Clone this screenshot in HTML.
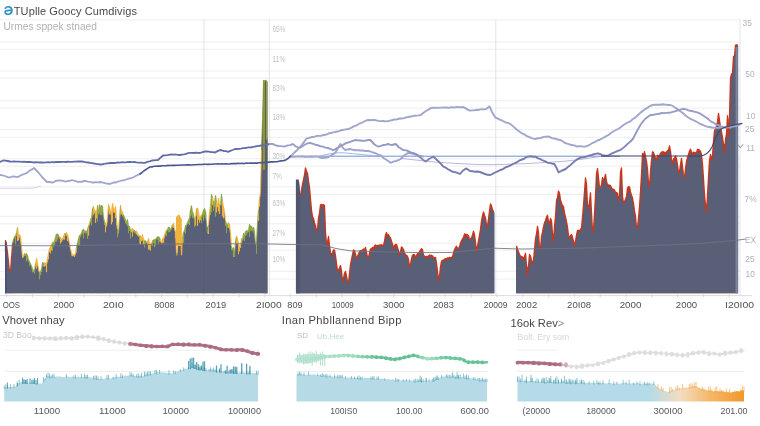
<!DOCTYPE html>
<html><head><meta charset="utf-8"><title>Chart</title>
<style>html,body{margin:0;padding:0;background:#fff}body{width:760px;height:426px;overflow:hidden}</style>
</head><body>
<svg width="760" height="426" viewBox="0 0 760 426" style="display:block;font-family:'Liberation Sans',sans-serif;filter:blur(0.4px)">
<defs>
<linearGradient id="yg" gradientUnits="userSpaceOnUse" x1="18" y1="0" x2="267" y2="0"><stop offset="0.000" stop-color="#f0b23a"/><stop offset="0.059" stop-color="#93a64a"/><stop offset="0.118" stop-color="#f0b23a"/><stop offset="0.176" stop-color="#8fa548"/><stop offset="0.235" stop-color="#9aa94c"/><stop offset="0.294" stop-color="#f0b23a"/><stop offset="0.353" stop-color="#8fa548"/><stop offset="0.412" stop-color="#f2b134"/><stop offset="0.471" stop-color="#93a64a"/><stop offset="0.529" stop-color="#f0b23a"/><stop offset="0.588" stop-color="#8fa548"/><stop offset="0.647" stop-color="#f2b134"/><stop offset="0.706" stop-color="#f0b23a"/><stop offset="0.765" stop-color="#8fa548"/><stop offset="0.824" stop-color="#93a64a"/><stop offset="0.882" stop-color="#f2b134"/><stop offset="0.941" stop-color="#8fa548"/><stop offset="1.000" stop-color="#93a64a"/></linearGradient>
<linearGradient id="m3" gradientUnits="userSpaceOnUse" x1="517" y1="0" x2="744" y2="0"><stop offset="0" stop-color="#b4dbe7"/><stop offset="0.58" stop-color="#b4dbe7"/><stop offset="0.72" stop-color="#f3dcc0"/><stop offset="0.85" stop-color="#f5b768"/><stop offset="1" stop-color="#f2982a"/></linearGradient>
<linearGradient id="l1g" gradientUnits="userSpaceOnUse" x1="33" y1="0" x2="259" y2="0"><stop offset="0" stop-color="#d4d4d6"/><stop offset="0.40" stop-color="#d0cccf"/><stop offset="0.46" stop-color="#ad7186"/><stop offset="1" stop-color="#a8667d"/></linearGradient>
<linearGradient id="l2g" gradientUnits="userSpaceOnUse" x1="296" y1="0" x2="488" y2="0"><stop offset="0" stop-color="#b5e4d0"/><stop offset="0.3" stop-color="#9fdcc0"/><stop offset="0.42" stop-color="#62c092"/><stop offset="0.62" stop-color="#62c092"/><stop offset="0.68" stop-color="#a5e0c6"/><stop offset="0.78" stop-color="#6cc79a"/><stop offset="1" stop-color="#62c092"/></linearGradient>
<linearGradient id="l3g" gradientUnits="userSpaceOnUse" x1="517" y1="0" x2="744" y2="0"><stop offset="0" stop-color="#a8667d"/><stop offset="0.17" stop-color="#ad7186"/><stop offset="0.22" stop-color="#d6d4d6"/><stop offset="1" stop-color="#dadadc"/></linearGradient>
<linearGradient id="l2s" gradientUnits="userSpaceOnUse" x1="269" y1="0" x2="731" y2="0"><stop offset="0" stop-color="#9aa0c8"/><stop offset="0.30" stop-color="#9398c3"/><stop offset="0.37" stop-color="#757bae"/><stop offset="0.74" stop-color="#757bae"/><stop offset="0.80" stop-color="#969cc6"/><stop offset="1" stop-color="#9aa0c8"/></linearGradient>
</defs>
<rect width="760" height="426" fill="#fff"/>
<line x1="0" y1="19.8" x2="740" y2="19.8" stroke="#eeeeef" stroke-width="1"/>
<line x1="0" y1="42" x2="740" y2="42" stroke="#eeeeef" stroke-width="1"/>
<line x1="0" y1="49.3" x2="740" y2="49.3" stroke="#eeeeef" stroke-width="1"/>
<line x1="0" y1="71" x2="740" y2="71" stroke="#eeeeef" stroke-width="1"/>
<line x1="0" y1="78" x2="740" y2="78" stroke="#eeeeef" stroke-width="1"/>
<line x1="0" y1="100.7" x2="740" y2="100.7" stroke="#eeeeef" stroke-width="1"/>
<line x1="0" y1="108" x2="740" y2="108" stroke="#eeeeef" stroke-width="1"/>
<line x1="0" y1="129.7" x2="740" y2="129.7" stroke="#eeeeef" stroke-width="1"/>
<line x1="0" y1="137.3" x2="740" y2="137.3" stroke="#eeeeef" stroke-width="1"/>
<line x1="0" y1="158.8" x2="740" y2="158.8" stroke="#eeeeef" stroke-width="1"/>
<line x1="0" y1="166.2" x2="740" y2="166.2" stroke="#eeeeef" stroke-width="1"/>
<line x1="0" y1="186.9" x2="740" y2="186.9" stroke="#eeeeef" stroke-width="1"/>
<line x1="0" y1="194.4" x2="740" y2="194.4" stroke="#eeeeef" stroke-width="1"/>
<line x1="0" y1="216.3" x2="740" y2="216.3" stroke="#eeeeef" stroke-width="1"/>
<line x1="0" y1="223.8" x2="740" y2="223.8" stroke="#eeeeef" stroke-width="1"/>
<line x1="0" y1="243.2" x2="740" y2="243.2" stroke="#eeeeef" stroke-width="1"/>
<line x1="0" y1="250.2" x2="740" y2="250.2" stroke="#eeeeef" stroke-width="1"/>
<line x1="0" y1="271.3" x2="740" y2="271.3" stroke="#eeeeef" stroke-width="1"/>
<line x1="0" y1="279.1" x2="740" y2="279.1" stroke="#eeeeef" stroke-width="1"/>
<line x1="203.9" y1="19" x2="203.9" y2="296" stroke="#e4e4e6" stroke-width="1"/>
<line x1="269.3" y1="19" x2="269.3" y2="296" stroke="#e4e4e6" stroke-width="1"/>
<line x1="495.8" y1="19" x2="495.8" y2="296" stroke="#e4e4e6" stroke-width="1"/>
<line x1="740" y1="19" x2="740" y2="296" stroke="#e4e4e6" stroke-width="1"/>
<polygon points="5.0,293.3 5.0,240.2 6.0,240.2 6.0,244.1 7.0,244.1 7.0,250.8 8.0,250.8 8.0,260.2 9.0,260.2 9.0,270.4 10.0,270.4 10.0,269.0 11.0,269.0 11.0,255.7 12.0,255.7 12.0,293.3" fill="#c8361a"/>
<polygon points="12.0,293.3 12.0,243.2 13.0,243.2 13.0,239.2 14.0,239.2 14.0,236.4 15.0,236.4 15.0,235.7 16.0,235.7 16.0,233.2 17.0,233.2 17.0,293.3" fill="#8fa548"/>
<polygon points="17.0,293.3 17.0,227.4 18.0,227.4 18.0,234.5 19.0,234.5 19.0,234.6 20.0,234.6 20.0,236.4 21.0,236.4 21.0,246.0 22.0,246.0 22.0,256.5 23.0,256.5 23.0,255.7 24.0,255.7 24.0,293.3" fill="#f0b23a"/>
<polygon points="24.0,293.3 24.0,253.4 25.0,253.4 25.0,254.2 26.0,254.2 26.0,253.6 27.0,253.6 27.0,255.2 28.0,255.2 28.0,259.7 29.0,259.7 29.0,261.5 30.0,261.5 30.0,263.7 31.0,263.7 31.0,265.6 32.0,265.6 32.0,268.7 33.0,268.7 33.0,271.4 34.0,271.4 34.0,270.1 35.0,270.1 35.0,293.3" fill="#8fa548"/>
<polygon points="35.0,293.3 35.0,263.6 36.0,263.6 36.0,258.6 37.0,258.6 37.0,262.4 38.0,262.4 38.0,268.7 39.0,268.7 39.0,293.3" fill="#f0b23a"/>
<polygon points="39.0,293.3 39.0,272.3 40.0,272.3 40.0,272.0 41.0,272.0 41.0,268.9 42.0,268.9 42.0,262.5 43.0,262.5 43.0,263.1 44.0,263.1 44.0,293.3" fill="#8fa548"/>
<polygon points="44.0,293.3 44.0,262.9 45.0,262.9 45.0,263.0 46.0,263.0 46.0,264.9 47.0,264.9 47.0,258.5 48.0,258.5 48.0,252.7 49.0,252.7 49.0,248.5 50.0,248.5 50.0,247.3 51.0,247.3 51.0,244.5 52.0,244.5 52.0,293.3" fill="#f0b23a"/>
<polygon points="52.0,293.3 52.0,242.2 53.0,242.2 53.0,243.1 54.0,243.1 54.0,240.7 55.0,240.7 55.0,237.3 56.0,237.3 56.0,234.0 57.0,234.0 57.0,233.9 58.0,233.9 58.0,235.0 59.0,235.0 59.0,237.2 60.0,237.2 60.0,293.3" fill="#8fa548"/>
<polygon points="60.0,293.3 60.0,237.5 61.0,237.5 61.0,239.1 62.0,239.1 62.0,238.9 63.0,238.9 63.0,236.3 64.0,236.3 64.0,233.6 65.0,233.6 65.0,293.3" fill="#f0b23a"/>
<polygon points="65.0,293.3 65.0,233.8 66.0,233.8 66.0,293.3" fill="#8fa548"/>
<polygon points="66.0,293.3 66.0,232.6 67.0,232.6 67.0,234.5 68.0,234.5 68.0,238.0 69.0,238.0 69.0,243.4 70.0,243.4 70.0,249.1 71.0,249.1 71.0,252.4 72.0,252.4 72.0,255.2 73.0,255.2 73.0,254.7 74.0,254.7 74.0,254.9 75.0,254.9 75.0,253.2 76.0,253.2 76.0,293.3" fill="#f0b23a"/>
<polygon points="76.0,293.3 76.0,247.4 77.0,247.4 77.0,242.8 78.0,242.8 78.0,238.7 79.0,238.7 79.0,235.5 80.0,235.5 80.0,234.7 81.0,234.7 81.0,232.9 82.0,232.9 82.0,230.1 83.0,230.1 83.0,229.1 84.0,229.1 84.0,231.2 85.0,231.2 85.0,230.9 86.0,230.9 86.0,231.7 87.0,231.7 87.0,229.6 88.0,229.6 88.0,293.3" fill="#8fa548"/>
<polygon points="88.0,293.3 88.0,225.9 89.0,225.9 89.0,222.7 90.0,222.7 90.0,293.3" fill="#f0b23a"/>
<polygon points="90.0,293.3 90.0,219.1 91.0,219.1 91.0,217.7 92.0,217.7 92.0,208.7 93.0,208.7 93.0,293.3" fill="#8fa548"/>
<polygon points="93.0,293.3 93.0,206.5 94.0,206.5 94.0,210.6 95.0,210.6 95.0,210.8 96.0,210.8 96.0,211.8 97.0,211.8 97.0,293.3" fill="#f0b23a"/>
<polygon points="97.0,293.3 97.0,205.6 98.0,205.6 98.0,212.4 99.0,212.4 99.0,204.8 100.0,204.8 100.0,207.4 101.0,207.4 101.0,205.0 102.0,205.0 102.0,206.4 103.0,206.4 103.0,217.0 104.0,217.0 104.0,221.6 105.0,221.6 105.0,293.3" fill="#8fa548"/>
<polygon points="105.0,293.3 105.0,223.7 106.0,223.7 106.0,226.2 107.0,226.2 107.0,216.7 108.0,216.7 108.0,204.6 109.0,204.6 109.0,206.8 110.0,206.8 110.0,211.3 111.0,211.3 111.0,211.6 112.0,211.6 112.0,203.5 113.0,203.5 113.0,208.1 114.0,208.1 114.0,210.4 115.0,210.4 115.0,206.7 116.0,206.7 116.0,218.5 117.0,218.5 117.0,293.3" fill="#f0b23a"/>
<polygon points="117.0,293.3 117.0,228.9 118.0,228.9 118.0,232.5 119.0,232.5 119.0,219.7 120.0,219.7 120.0,293.3" fill="#8fa548"/>
<polygon points="120.0,293.3 120.0,205.2 121.0,205.2 121.0,211.0 122.0,211.0 122.0,211.8 123.0,211.8 123.0,293.3" fill="#f0b23a"/>
<polygon points="123.0,293.3 123.0,214.9 124.0,214.9 124.0,216.9 125.0,216.9 125.0,219.8 126.0,219.8 126.0,222.9 127.0,222.9 127.0,219.6 128.0,219.6 128.0,225.8 129.0,225.8 129.0,226.4 130.0,226.4 130.0,230.1 131.0,230.1 131.0,293.3" fill="#8fa548"/>
<polygon points="131.0,293.3 131.0,229.6 132.0,229.6 132.0,228.1 133.0,228.1 133.0,293.3" fill="#f0b23a"/>
<polygon points="133.0,293.3 133.0,230.2 134.0,230.2 134.0,230.6 135.0,230.6 135.0,231.6 136.0,231.6 136.0,293.3" fill="#8fa548"/>
<polygon points="136.0,293.3 136.0,231.3 137.0,231.3 137.0,233.5 138.0,233.5 138.0,234.2 139.0,234.2 139.0,293.3" fill="#f0b23a"/>
<polygon points="139.0,293.3 139.0,236.2 140.0,236.2 140.0,293.3" fill="#8fa548"/>
<polygon points="140.0,293.3 140.0,235.9 141.0,235.9 141.0,238.1 142.0,238.1 142.0,234.7 143.0,234.7 143.0,238.9 144.0,238.9 144.0,293.3" fill="#f0b23a"/>
<polygon points="144.0,293.3 144.0,240.9 145.0,240.9 145.0,240.8 146.0,240.8 146.0,242.1 147.0,242.1 147.0,293.3" fill="#8fa548"/>
<polygon points="147.0,293.3 147.0,242.0 148.0,242.0 148.0,238.7 149.0,238.7 149.0,243.6 150.0,243.6 150.0,243.9 151.0,243.9 151.0,243.0 152.0,243.0 152.0,293.3" fill="#f0b23a"/>
<polygon points="152.0,293.3 152.0,240.5 153.0,240.5 153.0,239.9 154.0,239.9 154.0,239.4 155.0,239.4 155.0,239.1 156.0,239.1 156.0,238.0 157.0,238.0 157.0,236.6 158.0,236.6 158.0,236.9 159.0,236.9 159.0,237.3 160.0,237.3 160.0,293.3" fill="#8fa548"/>
<polygon points="160.0,293.3 160.0,240.4 161.0,240.4 161.0,242.1 162.0,242.1 162.0,238.6 163.0,238.6 163.0,238.2 164.0,238.2 164.0,234.7 165.0,234.7 165.0,231.7 166.0,231.7 166.0,293.3" fill="#f0b23a"/>
<polygon points="166.0,293.3 166.0,230.1 167.0,230.1 167.0,229.2 168.0,229.2 168.0,227.0 169.0,227.0 169.0,227.6 170.0,227.6 170.0,230.0 171.0,230.0 171.0,227.4 172.0,227.4 172.0,293.3" fill="#8fa548"/>
<polygon points="172.0,293.3 172.0,224.5 173.0,224.5 173.0,223.1 174.0,223.1 174.0,228.5 175.0,228.5 175.0,231.7 176.0,231.7 176.0,253.1 177.0,253.1 177.0,251.8 178.0,251.8 178.0,223.0 179.0,223.0 179.0,215.5 180.0,215.5 180.0,231.0 181.0,231.0 181.0,255.1 182.0,255.1 182.0,293.3" fill="#f0b23a"/>
<polygon points="182.0,293.3 182.0,238.4 183.0,238.4 183.0,232.2 184.0,232.2 184.0,230.3 185.0,230.3 185.0,225.5 186.0,225.5 186.0,225.2 187.0,225.2 187.0,222.2 188.0,222.2 188.0,220.3 189.0,220.3 189.0,217.7 190.0,217.7 190.0,209.4 191.0,209.4 191.0,205.7 192.0,205.7 192.0,211.6 193.0,211.6 193.0,214.2 194.0,214.2 194.0,219.7 195.0,219.7 195.0,293.3" fill="#8fa548"/>
<polygon points="195.0,293.3 195.0,217.4 196.0,217.4 196.0,293.3" fill="#f0b23a"/>
<polygon points="196.0,293.3 196.0,208.8 197.0,208.8 197.0,293.3" fill="#8fa548"/>
<polygon points="197.0,293.3 197.0,208.0 198.0,208.0 198.0,211.8 199.0,211.8 199.0,218.2 200.0,218.2 200.0,215.8 201.0,215.8 201.0,293.3" fill="#f0b23a"/>
<polygon points="201.0,293.3 201.0,215.9 202.0,215.9 202.0,213.4 203.0,213.4 203.0,210.1 204.0,210.1 204.0,208.6 205.0,208.6 205.0,211.4 206.0,211.4 206.0,223.0 207.0,223.0 207.0,233.4 208.0,233.4 208.0,293.3" fill="#8fa548"/>
<polygon points="208.0,293.3 208.0,224.9 209.0,224.9 209.0,212.3 210.0,212.3 210.0,293.3" fill="#f0b23a"/>
<polygon points="210.0,293.3 210.0,206.2 211.0,206.2 211.0,194.4 212.0,194.4 212.0,293.3" fill="#8fa548"/>
<polygon points="212.0,293.3 212.0,197.0 213.0,197.0 213.0,293.3" fill="#f0b23a"/>
<polygon points="213.0,293.3 213.0,201.3 214.0,201.3 214.0,204.1 215.0,204.1 215.0,195.7 216.0,195.7 216.0,293.3" fill="#8fa548"/>
<polygon points="216.0,293.3 216.0,202.1 217.0,202.1 217.0,205.1 218.0,205.1 218.0,198.2 219.0,198.2 219.0,205.6 220.0,205.6 220.0,293.3" fill="#f0b23a"/>
<polygon points="220.0,293.3 220.0,203.4 221.0,203.4 221.0,194.3 222.0,194.3 222.0,293.3" fill="#8fa548"/>
<polygon points="222.0,293.3 222.0,201.8 223.0,201.8 223.0,206.7 224.0,206.7 224.0,211.6 225.0,211.6 225.0,293.3" fill="#f0b23a"/>
<polygon points="225.0,293.3 225.0,220.9 226.0,220.9 226.0,223.8 227.0,223.8 227.0,224.5 228.0,224.5 228.0,293.3" fill="#8fa548"/>
<polygon points="228.0,293.3 228.0,222.6 229.0,222.6 229.0,224.0 230.0,224.0 230.0,232.3 231.0,232.3 231.0,293.3" fill="#f0b23a"/>
<polygon points="231.0,293.3 231.0,246.6 232.0,246.6 232.0,249.1 233.0,249.1 233.0,247.7 234.0,247.7 234.0,257.0 235.0,257.0 235.0,241.2 236.0,241.2 236.0,293.3" fill="#8fa548"/>
<polygon points="236.0,293.3 236.0,236.1 237.0,236.1 237.0,238.4 238.0,238.4 238.0,243.4 239.0,243.4 239.0,247.2 240.0,247.2 240.0,245.4 241.0,245.4 241.0,293.3" fill="#f0b23a"/>
<polygon points="241.0,293.3 241.0,238.7 242.0,238.7 242.0,239.7 243.0,239.7 243.0,233.3 244.0,233.3 244.0,235.1 245.0,235.1 245.0,231.4 246.0,231.4 246.0,230.6 247.0,230.6 247.0,230.8 248.0,230.8 248.0,229.9 249.0,229.9 249.0,224.4 250.0,224.4 250.0,225.7 251.0,225.7 251.0,226.2 252.0,226.2 252.0,228.2 253.0,228.2 253.0,227.2 254.0,227.2 254.0,230.4 255.0,230.4 255.0,244.7 256.0,244.7 256.0,240.9 257.0,240.9 257.0,222.5 258.0,222.5 258.0,293.3" fill="#8fa548"/>
<polygon points="258.0,293.3 258.0,210.1 259.0,210.1 259.0,198.4 260.0,198.4 260.0,192.5 261.0,192.5 261.0,293.3" fill="#f0b23a"/>
<polygon points="261.0,293.3 261.0,150.0 262.0,150.0 262.0,120.0 263.0,120.0 263.0,80.3 264.0,80.3 264.0,82.0 265.0,82.0 265.0,101.4 266.0,101.4 266.0,81.0 267.0,81.0 267.0,293.3" fill="#8f9a3c"/>
<polygon points="5.0,293.3 5.0,247.1 5.5,247.1 6.5,247.0 7.5,252.8 8.5,262.4 9.5,270.5 10.5,270.5 11.5,258.2 12.5,248.2 13.5,240.6 14.5,238.0 15.5,237.5 16.5,236.3 17.5,236.3 18.5,236.1 19.5,237.6 20.5,242.4 21.5,250.6 22.5,257.7 23.5,257.7 24.5,255.7 25.5,255.7 26.5,257.6 27.5,259.6 28.5,261.6 29.5,263.6 30.5,265.8 31.5,268.2 32.5,270.7 33.5,271.5 34.5,271.6 35.5,265.9 36.5,265.7 37.5,265.6 38.5,270.1 39.5,274.6 40.5,274.6 41.5,270.0 42.5,265.5 43.5,265.5 44.5,265.6 45.5,266.1 46.5,266.1 47.5,260.7 48.5,254.9 49.5,251.2 50.5,249.6 51.5,248.1 52.5,246.6 53.5,244.7 54.5,242.8 55.5,240.8 56.5,238.9 57.5,237.5 58.5,237.5 59.5,239.0 60.5,240.6 61.5,240.6 62.5,240.6 63.5,239.0 64.5,237.3 65.5,235.7 66.5,235.7 67.5,237.0 68.5,240.5 69.5,245.0 70.5,250.6 71.5,256.3 72.5,256.3 73.5,256.3 74.5,256.1 75.5,255.3 76.5,250.1 77.5,244.8 78.5,241.2 79.5,239.3 80.5,237.3 81.5,235.4 82.5,233.4 83.5,233.1 84.5,233.0 85.5,233.4 86.5,233.4 87.5,231.5 88.5,228.6 89.5,225.6 90.5,222.7 91.5,219.6 92.5,216.6 93.5,213.5 94.5,213.3 95.5,213.3 96.5,214.2 97.5,214.5 98.5,214.5 99.5,212.5 100.5,210.6 101.5,210.6 102.5,212.7 103.5,219.4 104.5,224.0 105.5,226.7 106.5,226.6 107.5,221.2 108.5,210.0 109.5,210.0 110.5,215.0 111.5,215.1 112.5,212.4 113.5,212.4 114.5,212.7 115.5,213.8 116.5,223.7 117.5,234.5 118.5,234.5 119.5,223.8 120.5,213.8 121.5,213.8 122.5,215.8 123.5,218.0 124.5,220.2 125.5,222.5 126.5,224.4 127.5,226.4 128.5,228.4 129.5,230.3 130.5,232.2 131.5,232.2 132.5,231.9 133.5,231.9 134.5,232.1 135.5,233.3 136.5,234.5 137.5,235.7 138.5,236.8 139.5,237.7 140.5,238.6 141.5,239.5 142.5,240.4 143.5,241.3 144.5,242.2 145.5,242.8 146.5,243.5 147.5,244.1 148.5,244.7 149.5,245.3 150.5,245.3 151.5,245.2 152.5,244.0 153.5,242.8 154.5,241.6 155.5,240.5 156.5,239.4 157.5,239.4 158.5,240.0 159.5,240.8 160.5,242.2 161.5,243.6 162.5,243.6 163.5,241.0 164.5,238.3 165.5,235.1 166.5,231.8 167.5,231.3 168.5,231.3 169.5,231.4 170.5,231.4 171.5,229.3 172.5,227.2 173.5,227.2 174.5,230.1 175.5,234.4 176.5,255.5 177.5,255.5 178.5,227.6 179.5,227.8 180.5,232.4 181.5,243.6 182.5,243.9 183.5,235.5 184.5,232.0 185.5,229.0 186.5,226.7 187.5,224.3 188.5,221.9 189.5,219.7 190.5,217.5 191.5,215.3 192.5,215.4 193.5,217.6 194.5,221.0 195.5,221.0 196.5,212.4 197.5,212.4 198.5,215.4 199.5,220.3 200.5,220.2 201.5,219.2 202.5,216.8 203.5,214.3 204.5,214.4 205.5,215.5 206.5,225.4 207.5,227.2 208.5,227.4 209.5,214.9 210.5,208.9 211.5,205.1 212.5,205.0 213.5,207.0 214.5,207.0 215.5,206.9 216.5,206.9 217.5,207.3 218.5,207.7 219.5,207.8 220.5,205.2 221.5,205.3 222.5,206.0 223.5,209.3 224.5,214.8 225.5,222.5 226.5,227.7 227.5,227.7 228.5,227.8 229.5,229.0 230.5,238.9 231.5,248.8 232.5,250.8 233.5,252.0 234.5,251.7 235.5,243.5 236.5,243.7 237.5,243.5 238.5,248.5 239.5,248.5 240.5,246.7 241.5,243.9 242.5,241.1 243.5,239.1 244.5,237.6 245.5,236.1 246.5,234.6 247.5,233.0 248.5,232.2 249.5,231.7 250.5,231.3 251.5,230.8 252.5,230.8 253.5,232.9 254.5,237.3 255.5,243.3 256.5,243.4 257.5,226.4 258.5,212.9 259.5,203.2 260.5,193.0 261.5,150.5 262.5,120.5 263.5,80.8 264.5,82.5 265.5,101.9 266.5,81.5 267.5,81.5 267.5,293.3" fill="#5a5f78"/>
<line x1="5.5" y1="240.2" x2="5.5" y2="251.5" stroke="#c8361a" stroke-width="1.30"/>
<line x1="9.5" y1="270.4" x2="9.5" y2="272.4" stroke="#c8361a" stroke-width="1.19"/>
<line x1="15.5" y1="235.7" x2="15.5" y2="244.0" stroke="#8fa548" stroke-width="1.07"/>
<line x1="17.5" y1="227.4" x2="17.5" y2="241.0" stroke="#f0b23a" stroke-width="0.99"/>
<line x1="18.5" y1="234.5" x2="18.5" y2="240.4" stroke="#f0b23a" stroke-width="1.08"/>
<line x1="22.5" y1="256.5" x2="22.5" y2="257.8" stroke="#f0b23a" stroke-width="0.95"/>
<line x1="26.5" y1="253.6" x2="26.5" y2="261.5" stroke="#8fa548" stroke-width="1.11"/>
<line x1="28.5" y1="259.7" x2="28.5" y2="261.7" stroke="#8fa548" stroke-width="1.29"/>
<line x1="29.5" y1="261.5" x2="29.5" y2="265.8" stroke="#8fa548" stroke-width="0.94"/>
<line x1="32.5" y1="268.7" x2="32.5" y2="272.4" stroke="#8fa548" stroke-width="1.28"/>
<line x1="33.5" y1="271.4" x2="33.5" y2="272.0" stroke="#8fa548" stroke-width="1.15"/>
<line x1="34.5" y1="270.1" x2="34.5" y2="273.5" stroke="#8fa548" stroke-width="1.27"/>
<line x1="35.5" y1="263.6" x2="35.5" y2="266.1" stroke="#f0b23a" stroke-width="1.14"/>
<line x1="36.5" y1="258.6" x2="36.5" y2="268.9" stroke="#f0b23a" stroke-width="0.90"/>
<line x1="38.5" y1="268.7" x2="38.5" y2="271.0" stroke="#f0b23a" stroke-width="0.93"/>
<line x1="39.5" y1="272.3" x2="39.5" y2="279.3" stroke="#8fa548" stroke-width="1.14"/>
<line x1="40.5" y1="272.0" x2="40.5" y2="275.2" stroke="#8fa548" stroke-width="1.19"/>
<line x1="41.5" y1="268.9" x2="41.5" y2="272.2" stroke="#8fa548" stroke-width="1.27"/>
<line x1="42.5" y1="262.5" x2="42.5" y2="266.5" stroke="#8fa548" stroke-width="0.94"/>
<line x1="43.5" y1="263.1" x2="43.5" y2="266.7" stroke="#8fa548" stroke-width="1.12"/>
<line x1="44.5" y1="262.9" x2="44.5" y2="266.6" stroke="#f0b23a" stroke-width="1.11"/>
<line x1="46.5" y1="264.9" x2="46.5" y2="272.1" stroke="#f0b23a" stroke-width="1.14"/>
<line x1="47.5" y1="258.5" x2="47.5" y2="262.0" stroke="#f0b23a" stroke-width="1.30"/>
<line x1="48.5" y1="252.7" x2="48.5" y2="259.5" stroke="#f0b23a" stroke-width="1.06"/>
<line x1="49.5" y1="248.5" x2="49.5" y2="251.7" stroke="#f0b23a" stroke-width="0.95"/>
<line x1="50.5" y1="247.3" x2="50.5" y2="253.4" stroke="#f0b23a" stroke-width="0.98"/>
<line x1="51.5" y1="244.5" x2="51.5" y2="250.6" stroke="#f0b23a" stroke-width="1.14"/>
<line x1="52.5" y1="242.2" x2="52.5" y2="250.7" stroke="#8fa548" stroke-width="1.00"/>
<line x1="53.5" y1="243.1" x2="53.5" y2="247.2" stroke="#8fa548" stroke-width="0.96"/>
<line x1="54.5" y1="240.7" x2="54.5" y2="245.2" stroke="#8fa548" stroke-width="1.22"/>
<line x1="55.5" y1="237.3" x2="55.5" y2="242.1" stroke="#8fa548" stroke-width="1.04"/>
<line x1="56.5" y1="234.0" x2="56.5" y2="241.8" stroke="#8fa548" stroke-width="1.29"/>
<line x1="57.5" y1="233.9" x2="57.5" y2="239.6" stroke="#8fa548" stroke-width="1.23"/>
<line x1="60.5" y1="237.5" x2="60.5" y2="243.5" stroke="#f0b23a" stroke-width="1.15"/>
<line x1="61.5" y1="239.1" x2="61.5" y2="242.2" stroke="#f0b23a" stroke-width="1.28"/>
<line x1="63.5" y1="236.3" x2="63.5" y2="239.5" stroke="#f0b23a" stroke-width="0.91"/>
<line x1="64.5" y1="233.6" x2="64.5" y2="239.7" stroke="#f0b23a" stroke-width="1.04"/>
<line x1="67.5" y1="234.5" x2="67.5" y2="241.0" stroke="#f0b23a" stroke-width="1.25"/>
<line x1="74.5" y1="254.9" x2="74.5" y2="256.9" stroke="#f0b23a" stroke-width="1.21"/>
<line x1="76.5" y1="247.4" x2="76.5" y2="253.1" stroke="#8fa548" stroke-width="1.21"/>
<line x1="78.5" y1="238.7" x2="78.5" y2="245.6" stroke="#8fa548" stroke-width="1.11"/>
<line x1="79.5" y1="235.5" x2="79.5" y2="244.9" stroke="#8fa548" stroke-width="1.25"/>
<line x1="83.5" y1="229.1" x2="83.5" y2="238.4" stroke="#8fa548" stroke-width="1.18"/>
<line x1="87.5" y1="229.6" x2="87.5" y2="238.7" stroke="#8fa548" stroke-width="1.19"/>
<line x1="88.5" y1="225.9" x2="88.5" y2="235.7" stroke="#f0b23a" stroke-width="1.20"/>
<line x1="91.5" y1="217.7" x2="91.5" y2="225.6" stroke="#8fa548" stroke-width="0.97"/>
<line x1="93.5" y1="206.5" x2="93.5" y2="215.2" stroke="#f0b23a" stroke-width="0.91"/>
<line x1="95.5" y1="210.8" x2="95.5" y2="222.9" stroke="#f0b23a" stroke-width="1.09"/>
<line x1="96.5" y1="211.8" x2="96.5" y2="218.5" stroke="#f0b23a" stroke-width="0.97"/>
<line x1="97.5" y1="205.6" x2="97.5" y2="221.8" stroke="#8fa548" stroke-width="1.00"/>
<line x1="98.5" y1="212.4" x2="98.5" y2="214.7" stroke="#8fa548" stroke-width="1.08"/>
<line x1="99.5" y1="204.8" x2="99.5" y2="213.4" stroke="#8fa548" stroke-width="1.25"/>
<line x1="100.5" y1="207.4" x2="100.5" y2="215.1" stroke="#8fa548" stroke-width="1.01"/>
<line x1="101.5" y1="205.0" x2="101.5" y2="215.1" stroke="#8fa548" stroke-width="1.05"/>
<line x1="104.5" y1="221.6" x2="104.5" y2="224.8" stroke="#8fa548" stroke-width="1.20"/>
<line x1="105.5" y1="223.7" x2="105.5" y2="232.3" stroke="#f0b23a" stroke-width="1.04"/>
<line x1="109.5" y1="206.8" x2="109.5" y2="214.4" stroke="#f0b23a" stroke-width="1.18"/>
<line x1="111.5" y1="211.6" x2="111.5" y2="224.4" stroke="#f0b23a" stroke-width="1.11"/>
<line x1="112.5" y1="203.5" x2="112.5" y2="222.2" stroke="#f0b23a" stroke-width="1.03"/>
<line x1="115.5" y1="206.7" x2="115.5" y2="218.2" stroke="#f0b23a" stroke-width="1.21"/>
<line x1="116.5" y1="218.5" x2="116.5" y2="224.9" stroke="#f0b23a" stroke-width="1.03"/>
<line x1="117.5" y1="228.9" x2="117.5" y2="237.3" stroke="#8fa548" stroke-width="1.06"/>
<line x1="120.5" y1="205.2" x2="120.5" y2="214.4" stroke="#f0b23a" stroke-width="0.95"/>
<line x1="121.5" y1="211.0" x2="121.5" y2="214.1" stroke="#f0b23a" stroke-width="1.13"/>
<line x1="125.5" y1="219.8" x2="125.5" y2="223.5" stroke="#8fa548" stroke-width="1.25"/>
<line x1="128.5" y1="225.8" x2="128.5" y2="233.2" stroke="#8fa548" stroke-width="0.95"/>
<line x1="129.5" y1="226.4" x2="129.5" y2="230.6" stroke="#8fa548" stroke-width="1.13"/>
<line x1="130.5" y1="230.1" x2="130.5" y2="238.5" stroke="#8fa548" stroke-width="0.96"/>
<line x1="132.5" y1="228.1" x2="132.5" y2="236.7" stroke="#f0b23a" stroke-width="0.92"/>
<line x1="134.5" y1="230.6" x2="134.5" y2="232.9" stroke="#8fa548" stroke-width="1.22"/>
<line x1="135.5" y1="231.6" x2="135.5" y2="233.7" stroke="#8fa548" stroke-width="1.15"/>
<line x1="139.5" y1="236.2" x2="139.5" y2="243.6" stroke="#8fa548" stroke-width="1.10"/>
<line x1="140.5" y1="235.9" x2="140.5" y2="244.8" stroke="#f0b23a" stroke-width="1.06"/>
<line x1="141.5" y1="238.1" x2="141.5" y2="241.3" stroke="#f0b23a" stroke-width="1.16"/>
<line x1="143.5" y1="238.9" x2="143.5" y2="244.9" stroke="#f0b23a" stroke-width="1.25"/>
<line x1="144.5" y1="240.9" x2="144.5" y2="247.5" stroke="#8fa548" stroke-width="1.04"/>
<line x1="145.5" y1="240.8" x2="145.5" y2="243.6" stroke="#8fa548" stroke-width="1.21"/>
<line x1="148.5" y1="238.7" x2="148.5" y2="249.6" stroke="#f0b23a" stroke-width="1.23"/>
<line x1="149.5" y1="243.6" x2="149.5" y2="249.7" stroke="#f0b23a" stroke-width="0.98"/>
<line x1="150.5" y1="243.9" x2="150.5" y2="250.6" stroke="#f0b23a" stroke-width="0.95"/>
<line x1="152.5" y1="240.5" x2="152.5" y2="245.9" stroke="#8fa548" stroke-width="0.93"/>
<line x1="154.5" y1="239.4" x2="154.5" y2="247.2" stroke="#8fa548" stroke-width="1.12"/>
<line x1="155.5" y1="239.1" x2="155.5" y2="245.6" stroke="#8fa548" stroke-width="1.09"/>
<line x1="158.5" y1="236.9" x2="158.5" y2="243.7" stroke="#8fa548" stroke-width="1.08"/>
<line x1="159.5" y1="237.3" x2="159.5" y2="241.7" stroke="#8fa548" stroke-width="1.15"/>
<line x1="163.5" y1="238.2" x2="163.5" y2="242.8" stroke="#f0b23a" stroke-width="1.25"/>
<line x1="166.5" y1="230.1" x2="166.5" y2="236.3" stroke="#8fa548" stroke-width="1.08"/>
<line x1="168.5" y1="227.0" x2="168.5" y2="232.4" stroke="#8fa548" stroke-width="0.97"/>
<line x1="169.5" y1="227.6" x2="169.5" y2="232.1" stroke="#8fa548" stroke-width="0.96"/>
<line x1="171.5" y1="227.4" x2="171.5" y2="229.5" stroke="#8fa548" stroke-width="1.25"/>
<line x1="173.5" y1="223.1" x2="173.5" y2="227.7" stroke="#f0b23a" stroke-width="1.01"/>
<line x1="175.5" y1="231.7" x2="175.5" y2="238.0" stroke="#f0b23a" stroke-width="1.22"/>
<line x1="179.5" y1="215.5" x2="179.5" y2="229.1" stroke="#f0b23a" stroke-width="1.12"/>
<line x1="181.5" y1="255.1" x2="181.5" y2="245.4" stroke="#f0b23a" stroke-width="1.16"/>
<line x1="182.5" y1="238.4" x2="182.5" y2="244.2" stroke="#8fa548" stroke-width="1.12"/>
<line x1="183.5" y1="232.2" x2="183.5" y2="242.7" stroke="#8fa548" stroke-width="1.26"/>
<line x1="184.5" y1="230.3" x2="184.5" y2="232.1" stroke="#8fa548" stroke-width="1.08"/>
<line x1="185.5" y1="225.5" x2="185.5" y2="233.7" stroke="#8fa548" stroke-width="1.01"/>
<line x1="188.5" y1="220.3" x2="188.5" y2="224.1" stroke="#8fa548" stroke-width="1.26"/>
<line x1="189.5" y1="217.7" x2="189.5" y2="225.1" stroke="#8fa548" stroke-width="1.14"/>
<line x1="192.5" y1="211.6" x2="192.5" y2="218.0" stroke="#8fa548" stroke-width="1.13"/>
<line x1="194.5" y1="219.7" x2="194.5" y2="227.3" stroke="#8fa548" stroke-width="0.97"/>
<line x1="195.5" y1="217.4" x2="195.5" y2="225.5" stroke="#f0b23a" stroke-width="0.96"/>
<line x1="196.5" y1="208.8" x2="196.5" y2="215.8" stroke="#8fa548" stroke-width="1.00"/>
<line x1="197.5" y1="208.0" x2="197.5" y2="225.9" stroke="#f0b23a" stroke-width="1.18"/>
<line x1="198.5" y1="211.8" x2="198.5" y2="219.7" stroke="#f0b23a" stroke-width="1.05"/>
<line x1="199.5" y1="218.2" x2="199.5" y2="222.7" stroke="#f0b23a" stroke-width="1.22"/>
<line x1="201.5" y1="215.9" x2="201.5" y2="223.3" stroke="#8fa548" stroke-width="1.11"/>
<line x1="203.5" y1="210.1" x2="203.5" y2="220.7" stroke="#8fa548" stroke-width="1.06"/>
<line x1="204.5" y1="208.6" x2="204.5" y2="215.1" stroke="#8fa548" stroke-width="1.03"/>
<line x1="205.5" y1="211.4" x2="205.5" y2="218.5" stroke="#8fa548" stroke-width="1.28"/>
<line x1="208.5" y1="224.9" x2="208.5" y2="234.0" stroke="#f0b23a" stroke-width="0.97"/>
<line x1="210.5" y1="206.2" x2="210.5" y2="215.1" stroke="#8fa548" stroke-width="1.19"/>
<line x1="211.5" y1="194.4" x2="211.5" y2="212.3" stroke="#8fa548" stroke-width="0.93"/>
<line x1="213.5" y1="201.3" x2="213.5" y2="211.0" stroke="#8fa548" stroke-width="0.95"/>
<line x1="215.5" y1="195.7" x2="215.5" y2="216.6" stroke="#8fa548" stroke-width="1.22"/>
<line x1="216.5" y1="202.1" x2="216.5" y2="212.4" stroke="#f0b23a" stroke-width="1.24"/>
<line x1="218.5" y1="198.2" x2="218.5" y2="211.4" stroke="#f0b23a" stroke-width="1.08"/>
<line x1="219.5" y1="205.6" x2="219.5" y2="213.9" stroke="#f0b23a" stroke-width="1.20"/>
<line x1="222.5" y1="201.8" x2="222.5" y2="216.5" stroke="#f0b23a" stroke-width="1.19"/>
<line x1="223.5" y1="206.7" x2="223.5" y2="218.4" stroke="#f0b23a" stroke-width="1.02"/>
<line x1="225.5" y1="220.9" x2="225.5" y2="226.0" stroke="#8fa548" stroke-width="1.11"/>
<line x1="226.5" y1="223.8" x2="226.5" y2="233.3" stroke="#8fa548" stroke-width="0.92"/>
<line x1="231.5" y1="246.6" x2="231.5" y2="250.3" stroke="#8fa548" stroke-width="1.00"/>
<line x1="233.5" y1="247.7" x2="233.5" y2="257.0" stroke="#8fa548" stroke-width="1.23"/>
<line x1="235.5" y1="241.2" x2="235.5" y2="246.0" stroke="#8fa548" stroke-width="1.07"/>
<line x1="237.5" y1="238.4" x2="237.5" y2="244.1" stroke="#f0b23a" stroke-width="0.97"/>
<line x1="238.5" y1="243.4" x2="238.5" y2="254.2" stroke="#f0b23a" stroke-width="1.03"/>
<line x1="239.5" y1="247.2" x2="239.5" y2="251.3" stroke="#f0b23a" stroke-width="1.02"/>
<line x1="240.5" y1="245.4" x2="240.5" y2="248.0" stroke="#f0b23a" stroke-width="1.25"/>
<line x1="244.5" y1="235.1" x2="244.5" y2="241.1" stroke="#8fa548" stroke-width="1.15"/>
<line x1="246.5" y1="230.6" x2="246.5" y2="235.6" stroke="#8fa548" stroke-width="1.10"/>
<line x1="249.5" y1="224.4" x2="249.5" y2="237.2" stroke="#8fa548" stroke-width="0.96"/>
<line x1="256.5" y1="240.9" x2="256.5" y2="253.8" stroke="#8fa548" stroke-width="0.93"/>
<line x1="258.5" y1="210.1" x2="258.5" y2="220.7" stroke="#f0b23a" stroke-width="1.19"/>
<line x1="259.5" y1="198.4" x2="259.5" y2="206.4" stroke="#f0b23a" stroke-width="1.14"/>
<polyline points="5.5,240.2 6.5,244.1 7.5,250.8 8.5,260.2 9.5,270.4 10.5,269.0 11.5,255.7 12.5,243.2" fill="none" stroke="#c8361a" stroke-width="0.9" stroke-linejoin="round"/>
<polyline points="12.5,243.2 13.5,239.2 14.5,236.4 15.5,235.7 16.5,233.2 17.5,227.4" fill="none" stroke="#8fa548" stroke-width="0.9" stroke-linejoin="round"/>
<polyline points="17.5,227.4 18.5,234.5 19.5,234.6 20.5,236.4 21.5,246.0 22.5,256.5 23.5,255.7 24.5,253.4" fill="none" stroke="#f0b23a" stroke-width="0.9" stroke-linejoin="round"/>
<polyline points="24.5,253.4 25.5,254.2 26.5,253.6 27.5,255.2 28.5,259.7 29.5,261.5 30.5,263.7 31.5,265.6 32.5,268.7 33.5,271.4 34.5,270.1 35.5,263.6" fill="none" stroke="#8fa548" stroke-width="0.9" stroke-linejoin="round"/>
<polyline points="35.5,263.6 36.5,258.6 37.5,262.4 38.5,268.7 39.5,272.3" fill="none" stroke="#f0b23a" stroke-width="0.9" stroke-linejoin="round"/>
<polyline points="39.5,272.3 40.5,272.0 41.5,268.9 42.5,262.5 43.5,263.1 44.5,262.9" fill="none" stroke="#8fa548" stroke-width="0.9" stroke-linejoin="round"/>
<polyline points="44.5,262.9 45.5,263.0 46.5,264.9 47.5,258.5 48.5,252.7 49.5,248.5 50.5,247.3 51.5,244.5 52.5,242.2" fill="none" stroke="#f0b23a" stroke-width="0.9" stroke-linejoin="round"/>
<polyline points="52.5,242.2 53.5,243.1 54.5,240.7 55.5,237.3 56.5,234.0 57.5,233.9 58.5,235.0 59.5,237.2 60.5,237.5" fill="none" stroke="#8fa548" stroke-width="0.9" stroke-linejoin="round"/>
<polyline points="60.5,237.5 61.5,239.1 62.5,238.9 63.5,236.3 64.5,233.6 65.5,233.8" fill="none" stroke="#f0b23a" stroke-width="0.9" stroke-linejoin="round"/>
<polyline points="65.5,233.8 66.5,232.6" fill="none" stroke="#8fa548" stroke-width="0.9" stroke-linejoin="round"/>
<polyline points="66.5,232.6 67.5,234.5 68.5,238.0 69.5,243.4 70.5,249.1 71.5,252.4 72.5,255.2 73.5,254.7 74.5,254.9 75.5,253.2 76.5,247.4" fill="none" stroke="#f0b23a" stroke-width="0.9" stroke-linejoin="round"/>
<polyline points="76.5,247.4 77.5,242.8 78.5,238.7 79.5,235.5 80.5,234.7 81.5,232.9 82.5,230.1 83.5,229.1 84.5,231.2 85.5,230.9 86.5,231.7 87.5,229.6 88.5,225.9" fill="none" stroke="#8fa548" stroke-width="0.9" stroke-linejoin="round"/>
<polyline points="88.5,225.9 89.5,222.7 90.5,219.1" fill="none" stroke="#f0b23a" stroke-width="0.9" stroke-linejoin="round"/>
<polyline points="90.5,219.1 91.5,217.7 92.5,208.7 93.5,206.5" fill="none" stroke="#8fa548" stroke-width="0.9" stroke-linejoin="round"/>
<polyline points="93.5,206.5 94.5,210.6 95.5,210.8 96.5,211.8 97.5,205.6" fill="none" stroke="#f0b23a" stroke-width="0.9" stroke-linejoin="round"/>
<polyline points="97.5,205.6 98.5,212.4 99.5,204.8 100.5,207.4 101.5,205.0 102.5,206.4 103.5,217.0 104.5,221.6 105.5,223.7" fill="none" stroke="#8fa548" stroke-width="0.9" stroke-linejoin="round"/>
<polyline points="105.5,223.7 106.5,226.2 107.5,216.7 108.5,204.6 109.5,206.8 110.5,211.3 111.5,211.6 112.5,203.5 113.5,208.1 114.5,210.4 115.5,206.7 116.5,218.5 117.5,228.9" fill="none" stroke="#f0b23a" stroke-width="0.9" stroke-linejoin="round"/>
<polyline points="117.5,228.9 118.5,232.5 119.5,219.7 120.5,205.2" fill="none" stroke="#8fa548" stroke-width="0.9" stroke-linejoin="round"/>
<polyline points="120.5,205.2 121.5,211.0 122.5,211.8 123.5,214.9" fill="none" stroke="#f0b23a" stroke-width="0.9" stroke-linejoin="round"/>
<polyline points="123.5,214.9 124.5,216.9 125.5,219.8 126.5,222.9 127.5,219.6 128.5,225.8 129.5,226.4 130.5,230.1 131.5,229.6" fill="none" stroke="#8fa548" stroke-width="0.9" stroke-linejoin="round"/>
<polyline points="131.5,229.6 132.5,228.1 133.5,230.2" fill="none" stroke="#f0b23a" stroke-width="0.9" stroke-linejoin="round"/>
<polyline points="133.5,230.2 134.5,230.6 135.5,231.6 136.5,231.3" fill="none" stroke="#8fa548" stroke-width="0.9" stroke-linejoin="round"/>
<polyline points="136.5,231.3 137.5,233.5 138.5,234.2 139.5,236.2" fill="none" stroke="#f0b23a" stroke-width="0.9" stroke-linejoin="round"/>
<polyline points="139.5,236.2 140.5,235.9" fill="none" stroke="#8fa548" stroke-width="0.9" stroke-linejoin="round"/>
<polyline points="140.5,235.9 141.5,238.1 142.5,234.7 143.5,238.9 144.5,240.9" fill="none" stroke="#f0b23a" stroke-width="0.9" stroke-linejoin="round"/>
<polyline points="144.5,240.9 145.5,240.8 146.5,242.1 147.5,242.0" fill="none" stroke="#8fa548" stroke-width="0.9" stroke-linejoin="round"/>
<polyline points="147.5,242.0 148.5,238.7 149.5,243.6 150.5,243.9 151.5,243.0 152.5,240.5" fill="none" stroke="#f0b23a" stroke-width="0.9" stroke-linejoin="round"/>
<polyline points="152.5,240.5 153.5,239.9 154.5,239.4 155.5,239.1 156.5,238.0 157.5,236.6 158.5,236.9 159.5,237.3 160.5,240.4" fill="none" stroke="#8fa548" stroke-width="0.9" stroke-linejoin="round"/>
<polyline points="160.5,240.4 161.5,242.1 162.5,238.6 163.5,238.2 164.5,234.7 165.5,231.7 166.5,230.1" fill="none" stroke="#f0b23a" stroke-width="0.9" stroke-linejoin="round"/>
<polyline points="166.5,230.1 167.5,229.2 168.5,227.0 169.5,227.6 170.5,230.0 171.5,227.4 172.5,224.5" fill="none" stroke="#8fa548" stroke-width="0.9" stroke-linejoin="round"/>
<polyline points="172.5,224.5 173.5,223.1 174.5,228.5 175.5,231.7 176.5,253.1 177.5,251.8 178.5,223.0 179.5,215.5 180.5,231.0 181.5,255.1 182.5,238.4" fill="none" stroke="#f0b23a" stroke-width="0.9" stroke-linejoin="round"/>
<polyline points="182.5,238.4 183.5,232.2 184.5,230.3 185.5,225.5 186.5,225.2 187.5,222.2 188.5,220.3 189.5,217.7 190.5,209.4 191.5,205.7 192.5,211.6 193.5,214.2 194.5,219.7 195.5,217.4" fill="none" stroke="#8fa548" stroke-width="0.9" stroke-linejoin="round"/>
<polyline points="195.5,217.4 196.5,208.8" fill="none" stroke="#f0b23a" stroke-width="0.9" stroke-linejoin="round"/>
<polyline points="196.5,208.8 197.5,208.0" fill="none" stroke="#8fa548" stroke-width="0.9" stroke-linejoin="round"/>
<polyline points="197.5,208.0 198.5,211.8 199.5,218.2 200.5,215.8 201.5,215.9" fill="none" stroke="#f0b23a" stroke-width="0.9" stroke-linejoin="round"/>
<polyline points="201.5,215.9 202.5,213.4 203.5,210.1 204.5,208.6 205.5,211.4 206.5,223.0 207.5,233.4 208.5,224.9" fill="none" stroke="#8fa548" stroke-width="0.9" stroke-linejoin="round"/>
<polyline points="208.5,224.9 209.5,212.3 210.5,206.2" fill="none" stroke="#f0b23a" stroke-width="0.9" stroke-linejoin="round"/>
<polyline points="210.5,206.2 211.5,194.4 212.5,197.0" fill="none" stroke="#8fa548" stroke-width="0.9" stroke-linejoin="round"/>
<polyline points="212.5,197.0 213.5,201.3" fill="none" stroke="#f0b23a" stroke-width="0.9" stroke-linejoin="round"/>
<polyline points="213.5,201.3 214.5,204.1 215.5,195.7 216.5,202.1" fill="none" stroke="#8fa548" stroke-width="0.9" stroke-linejoin="round"/>
<polyline points="216.5,202.1 217.5,205.1 218.5,198.2 219.5,205.6 220.5,203.4" fill="none" stroke="#f0b23a" stroke-width="0.9" stroke-linejoin="round"/>
<polyline points="220.5,203.4 221.5,194.3 222.5,201.8" fill="none" stroke="#8fa548" stroke-width="0.9" stroke-linejoin="round"/>
<polyline points="222.5,201.8 223.5,206.7 224.5,211.6 225.5,220.9" fill="none" stroke="#f0b23a" stroke-width="0.9" stroke-linejoin="round"/>
<polyline points="225.5,220.9 226.5,223.8 227.5,224.5 228.5,222.6" fill="none" stroke="#8fa548" stroke-width="0.9" stroke-linejoin="round"/>
<polyline points="228.5,222.6 229.5,224.0 230.5,232.3 231.5,246.6" fill="none" stroke="#f0b23a" stroke-width="0.9" stroke-linejoin="round"/>
<polyline points="231.5,246.6 232.5,249.1 233.5,247.7 234.5,257.0 235.5,241.2 236.5,236.1" fill="none" stroke="#8fa548" stroke-width="0.9" stroke-linejoin="round"/>
<polyline points="236.5,236.1 237.5,238.4 238.5,243.4 239.5,247.2 240.5,245.4 241.5,238.7" fill="none" stroke="#f0b23a" stroke-width="0.9" stroke-linejoin="round"/>
<polyline points="241.5,238.7 242.5,239.7 243.5,233.3 244.5,235.1 245.5,231.4 246.5,230.6 247.5,230.8 248.5,229.9 249.5,224.4 250.5,225.7 251.5,226.2 252.5,228.2 253.5,227.2 254.5,230.4 255.5,244.7 256.5,240.9 257.5,222.5 258.5,210.1" fill="none" stroke="#8fa548" stroke-width="0.9" stroke-linejoin="round"/>
<polyline points="258.5,210.1 259.5,198.4 260.5,192.5 261.5,150.0" fill="none" stroke="#f0b23a" stroke-width="0.9" stroke-linejoin="round"/>
<polyline points="261.5,150.0 262.5,120.0 263.5,80.3 264.5,82.0 265.5,101.4 266.5,81.0" fill="none" stroke="#8f9a3c" stroke-width="0.9" stroke-linejoin="round"/>
<polygon points="176,246 176,217 178.5,214.4 180,216.5 181.8,219 181.8,246" fill="#f0b23a"/>
<rect x="5.1" y="242" width="1.7" height="51.3" fill="#4a4f7e"/>
<polygon points="262.8,170 263.2,80.5 266.3,79.8 267.4,82 267.4,170" fill="#8c963a"/>
<polygon points="264.9,293.3 264.9,140 267.4,138 267.4,293.3" fill="#5a5f78"/>
<line x1="265.6" y1="82" x2="265.6" y2="142" stroke="#4d5a44" stroke-width="0.9"/>
<line x1="266.9" y1="82" x2="266.9" y2="140" stroke="#a3ab8c" stroke-width="0.8"/>
<polygon points="296.0,293.3 296.0,182.0 297.0,182.0 297.0,182.0 298.0,182.0 298.0,182.0 299.0,182.0 299.0,192.6 300.0,192.6 300.0,293.3" fill="#4a4e60"/>
<polygon points="300.0,293.3 300.0,195.7 301.0,195.7 301.0,190.0 302.0,190.0 302.0,184.7 303.0,184.7 303.0,179.7 304.0,179.7 304.0,175.0 305.0,175.0 305.0,167.9 306.0,167.9 306.0,171.3 307.0,171.3 307.0,173.2 308.0,173.2 308.0,181.2 309.0,181.2 309.0,187.2 310.0,187.2 310.0,199.4 311.0,199.4 311.0,209.8 312.0,209.8 312.0,216.8 313.0,216.8 313.0,218.3 314.0,218.3 314.0,222.7 315.0,222.7 315.0,225.8 316.0,225.8 316.0,230.8 317.0,230.8 317.0,228.8 318.0,228.8 318.0,217.9 319.0,217.9 319.0,212.9 320.0,212.9 320.0,204.9 321.0,204.9 321.0,204.3 322.0,204.3 322.0,205.2 323.0,205.2 323.0,204.5 324.0,204.5 324.0,205.5 325.0,205.5 325.0,231.7 326.0,231.7 326.0,244.4 327.0,244.4 327.0,241.9 328.0,241.9 328.0,236.5 329.0,236.5 329.0,245.5 330.0,245.5 330.0,252.7 331.0,252.7 331.0,254.7 332.0,254.7 332.0,252.4 333.0,252.4 333.0,249.9 334.0,249.9 334.0,250.1 335.0,250.1 335.0,255.5 336.0,255.5 336.0,263.5 337.0,263.5 337.0,270.8 338.0,270.8 338.0,270.0 339.0,270.0 339.0,267.7 340.0,267.7 340.0,265.6 341.0,265.6 341.0,270.9 342.0,270.9 342.0,281.7 343.0,281.7 343.0,278.5 344.0,278.5 344.0,273.4 345.0,273.4 345.0,271.5 346.0,271.5 346.0,276.3 347.0,276.3 347.0,281.7 348.0,281.7 348.0,282.4 349.0,282.4 349.0,273.5 350.0,273.5 350.0,264.5 351.0,264.5 351.0,259.3 352.0,259.3 352.0,254.7 353.0,254.7 353.0,250.0 354.0,250.0 354.0,250.7 355.0,250.7 355.0,254.1 356.0,254.1 356.0,258.4 357.0,258.4 357.0,256.3 358.0,256.3 358.0,254.0 359.0,254.0 359.0,251.4 360.0,251.4 360.0,250.6 361.0,250.6 361.0,250.5 362.0,250.5 362.0,250.0 363.0,250.0 363.0,249.0 364.0,249.0 364.0,249.6 365.0,249.6 365.0,247.5 366.0,247.5 366.0,252.3 367.0,252.3 367.0,257.1 368.0,257.1 368.0,257.5 369.0,257.5 369.0,253.2 370.0,253.2 370.0,249.0 371.0,249.0 371.0,248.8 372.0,248.8 372.0,247.5 373.0,247.5 373.0,247.9 374.0,247.9 374.0,246.0 375.0,246.0 375.0,245.0 376.0,245.0 376.0,246.0 377.0,246.0 377.0,245.4 378.0,245.4 378.0,245.4 379.0,245.4 379.0,245.0 380.0,245.0 380.0,244.9 381.0,244.9 381.0,244.8 382.0,244.8 382.0,245.5 383.0,245.5 383.0,245.1 384.0,245.1 384.0,241.1 385.0,241.1 385.0,235.0 386.0,235.0 386.0,232.5 387.0,232.5 387.0,235.6 388.0,235.6 388.0,234.6 389.0,234.6 389.0,236.8 390.0,236.8 390.0,237.9 391.0,237.9 391.0,241.2 392.0,241.2 392.0,243.9 393.0,243.9 393.0,249.2 394.0,249.2 394.0,245.7 395.0,245.7 395.0,244.4 396.0,244.4 396.0,244.3 397.0,244.3 397.0,247.4 398.0,247.4 398.0,251.0 399.0,251.0 399.0,255.1 400.0,255.1 400.0,251.5 401.0,251.5 401.0,246.9 402.0,246.9 402.0,247.8 403.0,247.8 403.0,249.5 404.0,249.5 404.0,253.0 405.0,253.0 405.0,254.7 406.0,254.7 406.0,255.3 407.0,255.3 407.0,256.2 408.0,256.2 408.0,259.4 409.0,259.4 409.0,267.0 410.0,267.0 410.0,264.0 411.0,264.0 411.0,258.8 412.0,258.8 412.0,255.3 413.0,255.3 413.0,254.6 414.0,254.6 414.0,254.8 415.0,254.8 415.0,256.7 416.0,256.7 416.0,255.7 417.0,255.7 417.0,253.5 418.0,253.5 418.0,253.9 419.0,253.9 419.0,251.6 420.0,251.6 420.0,250.2 421.0,250.2 421.0,248.7 422.0,248.7 422.0,249.8 423.0,249.8 423.0,254.8 424.0,254.8 424.0,256.4 425.0,256.4 425.0,257.0 426.0,257.0 426.0,256.4 427.0,256.4 427.0,256.5 428.0,256.5 428.0,256.2 429.0,256.2 429.0,255.0 430.0,255.0 430.0,255.6 431.0,255.6 431.0,255.2 432.0,255.2 432.0,256.0 433.0,256.0 433.0,257.3 434.0,257.3 434.0,257.7 435.0,257.7 435.0,257.3 436.0,257.3 436.0,263.3 437.0,263.3 437.0,271.4 438.0,271.4 438.0,280.1 439.0,280.1 439.0,276.0 440.0,276.0 440.0,266.6 441.0,266.6 441.0,261.4 442.0,261.4 442.0,260.1 443.0,260.1 443.0,260.4 444.0,260.4 444.0,259.2 445.0,259.2 445.0,258.7 446.0,258.7 446.0,259.0 447.0,259.0 447.0,257.8 448.0,257.8 448.0,258.0 449.0,258.0 449.0,257.4 450.0,257.4 450.0,257.6 451.0,257.6 451.0,257.5 452.0,257.5 452.0,256.6 453.0,256.6 453.0,252.9 454.0,252.9 454.0,249.6 455.0,249.6 455.0,247.8 456.0,247.8 456.0,246.2 457.0,246.2 457.0,248.2 458.0,248.2 458.0,248.3 459.0,248.3 459.0,246.9 460.0,246.9 460.0,243.0 461.0,243.0 461.0,240.7 462.0,240.7 462.0,238.9 463.0,238.9 463.0,237.5 464.0,237.5 464.0,233.9 465.0,233.9 465.0,234.6 466.0,234.6 466.0,234.3 467.0,234.3 467.0,234.9 468.0,234.9 468.0,235.7 469.0,235.7 469.0,239.5 470.0,239.5 470.0,239.0 471.0,239.0 471.0,237.7 472.0,237.7 472.0,234.9 473.0,234.9 473.0,231.2 474.0,231.2 474.0,234.5 475.0,234.5 475.0,242.4 476.0,242.4 476.0,251.5 477.0,251.5 477.0,246.3 478.0,246.3 478.0,240.5 479.0,240.5 479.0,235.0 480.0,235.0 480.0,229.2 481.0,229.2 481.0,221.1 482.0,221.1 482.0,215.6 483.0,215.6 483.0,211.9 484.0,211.9 484.0,215.3 485.0,215.3 485.0,218.0 486.0,218.0 486.0,224.6 487.0,224.6 487.0,226.1 488.0,226.1 488.0,218.9 489.0,218.9 489.0,210.8 490.0,210.8 490.0,203.9 491.0,203.9 491.0,206.0 492.0,206.0 492.0,209.8 493.0,209.8 493.0,211.0 494.0,211.0 494.0,293.3" fill="#c8371c"/>
<polygon points="296.0,293.3 296.0,182.5 296.5,182.5 297.5,182.5 298.5,182.5 299.5,193.1 300.5,196.2 301.5,190.5 302.5,185.2 303.5,180.2 304.5,175.5 305.5,168.4 306.5,171.8 307.5,179.1 308.5,183.1 309.5,188.1 310.5,201.7 311.5,212.4 312.5,218.9 313.5,221.5 314.5,223.7 315.5,227.6 316.5,229.8 317.5,229.8 318.5,221.9 319.5,214.0 320.5,209.8 321.5,206.2 322.5,206.2 323.5,206.2 324.5,207.0 325.5,232.2 326.5,242.7 327.5,242.7 328.5,242.7 329.5,247.2 330.5,253.4 331.5,253.6 332.5,253.6 333.5,251.6 334.5,251.6 335.5,257.8 336.5,264.8 337.5,271.1 338.5,271.1 339.5,269.1 340.5,269.1 341.5,271.8 342.5,279.8 343.5,279.8 344.5,274.7 345.5,274.7 346.5,277.6 347.5,282.6 348.5,282.6 349.5,274.5 350.5,265.7 351.5,260.2 352.5,256.1 353.5,252.0 354.5,252.0 355.5,255.5 356.5,257.8 357.5,257.9 358.5,255.4 359.5,252.9 360.5,251.5 361.5,251.2 362.5,250.9 363.5,250.6 364.5,250.3 365.5,250.3 366.5,253.7 367.5,257.8 368.5,257.8 369.5,254.9 370.5,251.7 371.5,250.9 372.5,250.2 373.5,249.4 374.5,248.6 375.5,247.9 376.5,247.1 377.5,246.7 378.5,246.6 379.5,246.5 380.5,246.4 381.5,246.3 382.5,246.2 383.5,246.1 384.5,242.1 385.5,237.0 386.5,236.0 387.5,236.0 388.5,237.6 389.5,238.1 390.5,239.3 391.5,242.9 392.5,246.4 393.5,248.5 394.5,248.5 395.5,247.0 396.5,247.1 397.5,248.1 398.5,252.3 399.5,252.3 400.5,252.3 401.5,248.6 402.5,248.6 403.5,251.2 404.5,253.9 405.5,255.6 406.5,256.6 407.5,257.6 408.5,261.3 409.5,265.5 410.5,265.5 411.5,259.5 412.5,257.1 413.5,257.1 414.5,257.5 415.5,257.8 416.5,257.8 417.5,256.3 418.5,254.7 419.5,253.0 420.5,251.3 421.5,251.3 422.5,253.0 423.5,255.4 424.5,257.9 425.5,257.9 426.5,257.7 427.5,257.4 428.5,257.2 429.5,256.9 430.5,256.9 431.5,256.9 432.5,257.5 433.5,258.2 434.5,258.8 435.5,259.5 436.5,264.0 437.5,272.4 438.5,277.0 439.5,277.0 440.5,267.7 441.5,262.8 442.5,262.1 443.5,261.5 444.5,260.8 445.5,260.2 446.5,259.7 447.5,259.4 448.5,259.2 449.5,258.9 450.5,258.7 451.5,258.4 452.5,258.2 453.5,254.7 454.5,250.9 455.5,248.8 456.5,248.8 457.5,249.3 458.5,249.3 459.5,248.6 460.5,245.7 461.5,242.8 462.5,240.1 463.5,239.0 464.5,237.8 465.5,236.7 466.5,236.7 467.5,236.9 468.5,238.9 469.5,240.6 470.5,240.6 471.5,238.2 472.5,235.7 473.5,235.7 474.5,236.1 475.5,244.2 476.5,247.8 477.5,247.9 478.5,242.0 479.5,236.1 480.5,229.9 481.5,223.6 482.5,217.2 483.5,217.0 484.5,217.0 485.5,219.0 486.5,226.6 487.5,226.6 488.5,219.5 489.5,212.4 490.5,208.7 491.5,208.7 492.5,211.2 493.5,212.4 494.5,212.4 494.5,293.3" fill="#5a5f78"/>
<polyline points="296.5,182.0 297.5,182.0 298.5,182.0 299.5,192.6 300.5,195.7" fill="none" stroke="#4a4e60" stroke-width="1.3" stroke-linejoin="round"/>
<polyline points="300.5,195.7 301.5,190.0 302.5,184.7 303.5,179.7 304.5,175.0 305.5,167.9 306.5,171.3 307.5,173.2 308.5,181.2 309.5,187.2 310.5,199.4 311.5,209.8 312.5,216.8 313.5,218.3 314.5,222.7 315.5,225.8 316.5,230.8 317.5,228.8 318.5,217.9 319.5,212.9 320.5,204.9 321.5,204.3 322.5,205.2 323.5,204.5 324.5,205.5 325.5,231.7 326.5,244.4 327.5,241.9 328.5,236.5 329.5,245.5 330.5,252.7 331.5,254.7 332.5,252.4 333.5,249.9 334.5,250.1 335.5,255.5 336.5,263.5 337.5,270.8 338.5,270.0 339.5,267.7 340.5,265.6 341.5,270.9 342.5,281.7 343.5,278.5 344.5,273.4 345.5,271.5 346.5,276.3 347.5,281.7 348.5,282.4 349.5,273.5 350.5,264.5 351.5,259.3 352.5,254.7 353.5,250.0 354.5,250.7 355.5,254.1 356.5,258.4 357.5,256.3 358.5,254.0 359.5,251.4 360.5,250.6 361.5,250.5 362.5,250.0 363.5,249.0 364.5,249.6 365.5,247.5 366.5,252.3 367.5,257.1 368.5,257.5 369.5,253.2 370.5,249.0 371.5,248.8 372.5,247.5 373.5,247.9 374.5,246.0 375.5,245.0 376.5,246.0 377.5,245.4 378.5,245.4 379.5,245.0 380.5,244.9 381.5,244.8 382.5,245.5 383.5,245.1 384.5,241.1 385.5,235.0 386.5,232.5 387.5,235.6 388.5,234.6 389.5,236.8 390.5,237.9 391.5,241.2 392.5,243.9 393.5,249.2 394.5,245.7 395.5,244.4 396.5,244.3 397.5,247.4 398.5,251.0 399.5,255.1 400.5,251.5 401.5,246.9 402.5,247.8 403.5,249.5 404.5,253.0 405.5,254.7 406.5,255.3 407.5,256.2 408.5,259.4 409.5,267.0 410.5,264.0 411.5,258.8 412.5,255.3 413.5,254.6 414.5,254.8 415.5,256.7 416.5,255.7 417.5,253.5 418.5,253.9 419.5,251.6 420.5,250.2 421.5,248.7 422.5,249.8 423.5,254.8 424.5,256.4 425.5,257.0 426.5,256.4 427.5,256.5 428.5,256.2 429.5,255.0 430.5,255.6 431.5,255.2 432.5,256.0 433.5,257.3 434.5,257.7 435.5,257.3 436.5,263.3 437.5,271.4 438.5,280.1 439.5,276.0 440.5,266.6 441.5,261.4 442.5,260.1 443.5,260.4 444.5,259.2 445.5,258.7 446.5,259.0 447.5,257.8 448.5,258.0 449.5,257.4 450.5,257.6 451.5,257.5 452.5,256.6 453.5,252.9 454.5,249.6 455.5,247.8 456.5,246.2 457.5,248.2 458.5,248.3 459.5,246.9 460.5,243.0 461.5,240.7 462.5,238.9 463.5,237.5 464.5,233.9 465.5,234.6 466.5,234.3 467.5,234.9 468.5,235.7 469.5,239.5 470.5,239.0 471.5,237.7 472.5,234.9 473.5,231.2 474.5,234.5 475.5,242.4 476.5,251.5 477.5,246.3 478.5,240.5 479.5,235.0 480.5,229.2 481.5,221.1 482.5,215.6 483.5,211.9 484.5,215.3 485.5,218.0 486.5,224.6 487.5,226.1 488.5,218.9 489.5,210.8 490.5,203.9 491.5,206.0 492.5,209.8 493.5,211.0" fill="none" stroke="#c8371c" stroke-width="1.3" stroke-linejoin="round"/>
<polygon points="295.9,293.3 295.9,179.4 298.8,179.4 300.2,198 300.2,293.3" fill="#51556d"/>
<polygon points="516.0,293.3 516.0,245.9 517.0,245.9 517.0,248.9 518.0,248.9 518.0,251.7 519.0,251.7 519.0,254.3 520.0,254.3 520.0,256.3 521.0,256.3 521.0,256.4 522.0,256.4 522.0,257.0 523.0,257.0 523.0,258.8 524.0,258.8 524.0,256.5 525.0,256.5 525.0,253.2 526.0,253.2 526.0,265.2 527.0,265.2 527.0,275.7 528.0,275.7 528.0,265.5 529.0,265.5 529.0,254.5 530.0,254.5 530.0,256.2 531.0,256.2 531.0,260.4 532.0,260.4 532.0,263.6 533.0,263.6 533.0,260.0 534.0,260.0 534.0,249.9 535.0,249.9 535.0,238.4 536.0,238.4 536.0,234.1 537.0,234.1 537.0,226.3 538.0,226.3 538.0,232.5 539.0,232.5 539.0,248.7 540.0,248.7 540.0,248.3 541.0,248.3 541.0,236.7 542.0,236.7 542.0,232.2 543.0,232.2 543.0,226.9 544.0,226.9 544.0,222.8 545.0,222.8 545.0,220.5 546.0,220.5 546.0,217.1 547.0,217.1 547.0,215.3 548.0,215.3 548.0,221.7 549.0,221.7 549.0,223.4 550.0,223.4 550.0,218.3 551.0,218.3 551.0,220.9 552.0,220.9 552.0,233.5 553.0,233.5 553.0,242.1 554.0,242.1 554.0,226.1 555.0,226.1 555.0,216.5 556.0,216.5 556.0,200.5 557.0,200.5 557.0,197.4 558.0,197.4 558.0,191.0 559.0,191.0 559.0,193.2 560.0,193.2 560.0,199.9 561.0,199.9 561.0,202.9 562.0,202.9 562.0,205.7 563.0,205.7 563.0,206.4 564.0,206.4 564.0,213.3 565.0,213.3 565.0,216.8 566.0,216.8 566.0,221.6 567.0,221.6 567.0,227.1 568.0,227.1 568.0,235.8 569.0,235.8 569.0,238.1 570.0,238.1 570.0,235.6 571.0,235.6 571.0,234.4 572.0,234.4 572.0,237.3 573.0,237.3 573.0,241.2 574.0,241.2 574.0,246.0 575.0,246.0 575.0,241.0 576.0,241.0 576.0,235.2 577.0,235.2 577.0,230.5 578.0,230.5 578.0,230.4 579.0,230.4 579.0,230.5 580.0,230.5 580.0,229.8 581.0,229.8 581.0,227.5 582.0,227.5 582.0,217.2 583.0,217.2 583.0,205.3 584.0,205.3 584.0,191.9 585.0,191.9 585.0,177.8 586.0,177.8 586.0,184.4 587.0,184.4 587.0,204.8 588.0,204.8 588.0,209.7 589.0,209.7 589.0,202.1 590.0,202.1 590.0,192.8 591.0,192.8 591.0,212.5 592.0,212.5 592.0,230.8 593.0,230.8 593.0,229.7 594.0,229.7 594.0,213.7 595.0,213.7 595.0,196.0 596.0,196.0 596.0,173.6 597.0,173.6 597.0,168.6 598.0,168.6 598.0,177.8 599.0,177.8 599.0,187.6 600.0,187.6 600.0,187.4 601.0,187.4 601.0,184.6 602.0,184.6 602.0,177.6 603.0,177.6 603.0,181.0 604.0,181.0 604.0,177.9 605.0,177.9 605.0,174.3 606.0,174.3 606.0,181.4 607.0,181.4 607.0,184.7 608.0,184.7 608.0,184.9 609.0,184.9 609.0,185.4 610.0,185.4 610.0,185.5 611.0,185.5 611.0,187.9 612.0,187.9 612.0,189.1 613.0,189.1 613.0,189.1 614.0,189.1 614.0,190.1 615.0,190.1 615.0,192.6 616.0,192.6 616.0,192.4 617.0,192.4 617.0,193.4 618.0,193.4 618.0,200.2 619.0,200.2 619.0,195.7 620.0,195.7 620.0,172.5 621.0,172.5 621.0,167.9 622.0,167.9 622.0,196.3 623.0,196.3 623.0,202.9 624.0,202.9 624.0,201.5 625.0,201.5 625.0,199.3 626.0,199.3 626.0,196.5 627.0,196.5 627.0,187.9 628.0,187.9 628.0,186.6 629.0,186.6 629.0,186.9 630.0,186.9 630.0,191.9 631.0,191.9 631.0,195.1 632.0,195.1 632.0,198.0 633.0,198.0 633.0,203.4 634.0,203.4 634.0,210.9 635.0,210.9 635.0,216.2 636.0,216.2 636.0,227.4 637.0,227.4 637.0,227.5 638.0,227.5 638.0,217.8 639.0,217.8 639.0,207.0 640.0,207.0 640.0,191.6 641.0,191.6 641.0,174.5 642.0,174.5 642.0,153.5 643.0,153.5 643.0,155.4 644.0,155.4 644.0,151.7 645.0,151.7 645.0,156.7 646.0,156.7 646.0,161.2 647.0,161.2 647.0,169.1 648.0,169.1 648.0,183.4 649.0,183.4 649.0,186.1 650.0,186.1 650.0,171.6 651.0,171.6 651.0,160.6 652.0,160.6 652.0,151.8 653.0,151.8 653.0,152.6 654.0,152.6 654.0,155.4 655.0,155.4 655.0,158.2 656.0,158.2 656.0,159.9 657.0,159.9 657.0,155.1 658.0,155.1 658.0,157.0 659.0,157.0 659.0,155.7 660.0,155.7 660.0,153.3 661.0,153.3 661.0,152.4 662.0,152.4 662.0,151.6 663.0,151.6 663.0,151.9 664.0,151.9 664.0,152.6 665.0,152.6 665.0,152.4 666.0,152.4 666.0,152.0 667.0,152.0 667.0,150.3 668.0,150.3 668.0,150.2 669.0,150.2 669.0,145.9 670.0,145.9 670.0,151.4 671.0,151.4 671.0,159.7 672.0,159.7 672.0,163.8 673.0,163.8 673.0,158.6 674.0,158.6 674.0,158.3 675.0,158.3 675.0,155.8 676.0,155.8 676.0,158.6 677.0,158.6 677.0,164.9 678.0,164.9 678.0,172.1 679.0,172.1 679.0,172.1 680.0,172.1 680.0,164.3 681.0,164.3 681.0,158.4 682.0,158.4 682.0,166.9 683.0,166.9 683.0,175.4 684.0,175.4 684.0,177.5 685.0,177.5 685.0,168.7 686.0,168.7 686.0,161.4 687.0,161.4 687.0,157.7 688.0,157.7 688.0,154.5 689.0,154.5 689.0,151.3 690.0,151.3 690.0,149.1 691.0,149.1 691.0,152.0 692.0,152.0 692.0,154.1 693.0,154.1 693.0,152.2 694.0,152.2 694.0,152.4 695.0,152.4 695.0,153.0 696.0,153.0 696.0,152.5 697.0,152.5 697.0,149.5 698.0,149.5 698.0,149.3 699.0,149.3 699.0,150.3 700.0,150.3 700.0,151.2 701.0,151.2 701.0,155.0 702.0,155.0 702.0,164.2 703.0,164.2 703.0,178.4 704.0,178.4 704.0,194.5 705.0,194.5 705.0,204.5 706.0,204.5 706.0,212.3 707.0,212.3 707.0,195.5 708.0,195.5 708.0,177.1 709.0,177.1 709.0,160.2 710.0,160.2 710.0,154.5 711.0,154.5 711.0,159.5 712.0,159.5 712.0,155.6 713.0,155.6 713.0,141.3 714.0,141.3 714.0,131.0 715.0,131.0 715.0,128.8 716.0,128.8 716.0,126.1 717.0,126.1 717.0,121.7 718.0,121.7 718.0,113.4 719.0,113.4 719.0,120.7 720.0,120.7 720.0,126.8 721.0,126.8 721.0,131.9 722.0,131.9 722.0,137.4 723.0,137.4 723.0,144.1 724.0,144.1 724.0,152.3 725.0,152.3 725.0,139.2 726.0,139.2 726.0,133.8 727.0,133.8 727.0,115.7 728.0,115.7 728.0,137.9 729.0,137.9 729.0,116.7 730.0,116.7 730.0,78.2 731.0,78.2 731.0,73.9 732.0,73.9 732.0,73.6 733.0,73.6 733.0,56.4 734.0,56.4 734.0,56.1 735.0,56.1 735.0,45.1 736.0,45.1 736.0,44.9 737.0,44.9 737.0,44.7 738.0,44.7 738.0,293.3" fill="#c8371c"/>
<polygon points="516.0,293.3 516.0,250.2 516.5,250.2 517.5,250.2 518.5,253.0 519.5,255.7 520.5,257.1 521.5,257.9 522.5,258.7 523.5,258.7 524.5,257.5 525.5,257.5 526.5,266.7 527.5,266.9 528.5,266.9 529.5,257.7 530.5,257.7 531.5,261.0 532.5,261.1 533.5,261.1 534.5,251.2 535.5,241.9 536.5,235.0 537.5,234.8 538.5,234.7 539.5,249.8 540.5,249.8 541.5,238.7 542.5,232.7 543.5,229.0 544.5,225.4 545.5,221.4 546.5,219.1 547.5,219.1 548.5,225.1 549.5,225.1 550.5,223.2 551.5,223.2 552.5,234.7 553.5,234.7 554.5,230.5 555.5,217.1 556.5,206.8 557.5,199.3 558.5,196.1 559.5,196.1 560.5,201.5 561.5,206.9 562.5,209.8 563.5,212.3 564.5,215.2 565.5,219.0 566.5,222.7 567.5,229.1 568.5,236.5 569.5,237.6 570.5,237.6 571.5,237.6 572.5,238.4 573.5,242.9 574.5,243.4 575.5,243.4 576.5,237.4 577.5,232.0 578.5,232.0 579.5,232.0 580.5,232.0 581.5,230.0 582.5,219.7 583.5,209.4 584.5,192.5 585.5,188.3 586.5,188.3 587.5,205.4 588.5,205.4 589.5,202.4 590.5,202.4 591.5,213.5 592.5,232.4 593.5,232.4 594.5,215.3 595.5,197.5 596.5,174.4 597.5,174.4 598.5,179.6 599.5,187.9 600.5,187.9 601.5,186.9 602.5,185.4 603.5,182.4 604.5,178.1 605.5,178.1 606.5,181.6 607.5,187.3 608.5,187.3 609.5,186.8 610.5,186.8 611.5,188.1 612.5,189.6 613.5,191.0 614.5,192.1 615.5,193.2 616.5,194.3 617.5,198.0 618.5,198.0 619.5,197.0 620.5,175.1 621.5,175.1 622.5,198.2 623.5,203.4 624.5,203.4 625.5,200.3 626.5,197.2 627.5,194.0 628.5,190.8 629.5,190.8 630.5,192.6 631.5,195.6 632.5,198.6 633.5,204.2 634.5,212.3 635.5,220.5 636.5,227.9 637.5,227.9 638.5,218.1 639.5,208.4 640.5,192.4 641.5,174.8 642.5,160.1 643.5,157.3 644.5,157.3 645.5,157.9 646.5,162.0 647.5,171.4 648.5,186.2 649.5,186.2 650.5,173.9 651.5,163.0 652.5,154.4 653.5,154.4 654.5,156.9 655.5,160.6 656.5,160.6 657.5,160.0 658.5,158.3 659.5,156.7 660.5,155.0 661.5,154.6 662.5,154.6 663.5,154.9 664.5,155.2 665.5,155.2 666.5,154.6 667.5,152.6 668.5,150.6 669.5,150.6 670.5,152.1 671.5,161.1 672.5,162.5 673.5,162.5 674.5,160.4 675.5,160.4 676.5,161.0 677.5,166.9 678.5,172.3 679.5,172.3 680.5,165.7 681.5,165.7 682.5,168.3 683.5,177.5 684.5,177.5 685.5,171.2 686.5,163.9 687.5,159.8 688.5,156.5 689.5,153.3 690.5,153.3 691.5,153.9 692.5,154.6 693.5,155.1 694.5,155.1 695.5,154.2 696.5,153.2 697.5,152.3 698.5,152.2 699.5,152.2 700.5,154.3 701.5,156.5 702.5,165.4 703.5,181.2 704.5,196.9 705.5,207.2 706.5,207.1 707.5,196.2 708.5,178.2 709.5,162.3 710.5,161.0 711.5,159.8 712.5,156.0 713.5,143.1 714.5,132.5 715.5,129.4 716.5,126.3 717.5,123.2 718.5,122.4 719.5,122.4 720.5,128.6 721.5,134.5 722.5,139.4 723.5,144.3 724.5,144.3 725.5,142.9 726.5,134.0 727.5,134.0 728.5,118.3 729.5,117.2 730.5,78.7 731.5,74.4 732.5,74.1 733.5,56.9 734.5,56.6 735.5,45.6 736.5,45.4 737.5,45.2 738.2,45.2 738.2,293.3" fill="#5a5f78"/>
<polyline points="516.5,245.9 517.5,248.9 518.5,251.7 519.5,254.3 520.5,256.3 521.5,256.4 522.5,257.0 523.5,258.8 524.5,256.5 525.5,253.2 526.5,265.2 527.5,275.7 528.5,265.5 529.5,254.5 530.5,256.2 531.5,260.4 532.5,263.6 533.5,260.0 534.5,249.9 535.5,238.4 536.5,234.1 537.5,226.3 538.5,232.5 539.5,248.7 540.5,248.3 541.5,236.7 542.5,232.2 543.5,226.9 544.5,222.8 545.5,220.5 546.5,217.1 547.5,215.3 548.5,221.7 549.5,223.4 550.5,218.3 551.5,220.9 552.5,233.5 553.5,242.1 554.5,226.1 555.5,216.5 556.5,200.5 557.5,197.4 558.5,191.0 559.5,193.2 560.5,199.9 561.5,202.9 562.5,205.7 563.5,206.4 564.5,213.3 565.5,216.8 566.5,221.6 567.5,227.1 568.5,235.8 569.5,238.1 570.5,235.6 571.5,234.4 572.5,237.3 573.5,241.2 574.5,246.0 575.5,241.0 576.5,235.2 577.5,230.5 578.5,230.4 579.5,230.5 580.5,229.8 581.5,227.5 582.5,217.2 583.5,205.3 584.5,191.9 585.5,177.8 586.5,184.4 587.5,204.8 588.5,209.7 589.5,202.1 590.5,192.8 591.5,212.5 592.5,230.8 593.5,229.7 594.5,213.7 595.5,196.0 596.5,173.6 597.5,168.6 598.5,177.8 599.5,187.6 600.5,187.4 601.5,184.6 602.5,177.6 603.5,181.0 604.5,177.9 605.5,174.3 606.5,181.4 607.5,184.7 608.5,184.9 609.5,185.4 610.5,185.5 611.5,187.9 612.5,189.1 613.5,189.1 614.5,190.1 615.5,192.6 616.5,192.4 617.5,193.4 618.5,200.2 619.5,195.7 620.5,172.5 621.5,167.9 622.5,196.3 623.5,202.9 624.5,201.5 625.5,199.3 626.5,196.5 627.5,187.9 628.5,186.6 629.5,186.9 630.5,191.9 631.5,195.1 632.5,198.0 633.5,203.4 634.5,210.9 635.5,216.2 636.5,227.4 637.5,227.5 638.5,217.8 639.5,207.0 640.5,191.6 641.5,174.5 642.5,153.5 643.5,155.4 644.5,151.7 645.5,156.7 646.5,161.2 647.5,169.1 648.5,183.4 649.5,186.1 650.5,171.6 651.5,160.6 652.5,151.8 653.5,152.6 654.5,155.4 655.5,158.2 656.5,159.9 657.5,155.1 658.5,157.0 659.5,155.7 660.5,153.3 661.5,152.4 662.5,151.6 663.5,151.9 664.5,152.6 665.5,152.4 666.5,152.0 667.5,150.3 668.5,150.2 669.5,145.9 670.5,151.4 671.5,159.7 672.5,163.8 673.5,158.6 674.5,158.3 675.5,155.8 676.5,158.6 677.5,164.9 678.5,172.1 679.5,172.1 680.5,164.3 681.5,158.4 682.5,166.9 683.5,175.4 684.5,177.5 685.5,168.7 686.5,161.4 687.5,157.7 688.5,154.5 689.5,151.3 690.5,149.1 691.5,152.0 692.5,154.1 693.5,152.2 694.5,152.4 695.5,153.0 696.5,152.5 697.5,149.5 698.5,149.3 699.5,150.3 700.5,151.2 701.5,155.0 702.5,164.2 703.5,178.4 704.5,194.5 705.5,204.5 706.5,212.3 707.5,195.5 708.5,177.1 709.5,160.2 710.5,154.5 711.5,159.5 712.5,155.6 713.5,141.3 714.5,131.0 715.5,128.8 716.5,126.1 717.5,121.7 718.5,113.4 719.5,120.7 720.5,126.8 721.5,131.9 722.5,137.4 723.5,144.1 724.5,152.3 725.5,139.2 726.5,133.8 727.5,115.7 728.5,137.9 729.5,116.7 730.5,78.2 731.5,73.9 732.5,73.6 733.5,56.4 734.5,56.1 735.5,45.1 736.5,44.9 737.5,44.7" fill="none" stroke="#c8371c" stroke-width="1.3" stroke-linejoin="round"/>
<polygon points="735.6,293.3 735.6,47.5 737.75,46.5 737.75,293.3" fill="#7c859b"/>
<line x1="203.9" y1="222" x2="203.9" y2="293" stroke="#4c5068" stroke-width="0.8" opacity="0.45"/>
<polyline points="0.0,245.6 60.0,245.8 120.0,244.8 190.0,243.8 260.0,243.8 296.0,244.6 322.0,244.8 336.0,248.5 350.0,250.8 380.0,251.8 420.0,252.6 450.0,252.5 470.0,250.6 494.0,248.2 520.0,249.0 580.0,248.2 640.0,246.0 700.0,243.5 735.0,240.5 746.0,239.0" fill="none" stroke="#6f7282" stroke-width="0.9" opacity="0.95"/>
<line x1="290" y1="156.2" x2="620" y2="156.2" stroke="#6f8fcf" stroke-width="1"/>
<path d="M318,156.5 C328,154 334,152.6 342,152.8 C352,153.2 362,155 380,156" fill="none" stroke="#8fb0e0" stroke-width="0.9"/>
<path d="M400,158.3 L430,161.6 C460,164 480,164.8 495,164.6 C520,164.2 545,162.5 560,161.6 C575,160.5 590,158 600,156.5" fill="none" stroke="#a9a4cf" stroke-width="0.8"/>
<line x1="0" y1="188.3" x2="30" y2="188.3" stroke="#c9cbe0" stroke-width="0.8"/><path d="M30,188.3 L36,187.5 L41,185.8" fill="none" stroke="#c9cbe0" stroke-width="0.8"/>
<polyline points="290.0,156.6 292.5,154.4 295.0,152.0 297.5,149.7 300.0,147.0 302.2,144.4 304.3,141.6 306.5,138.5 309.2,137.9 312.0,137.0 314.2,136.9 316.3,136.0 318.5,135.9 320.6,135.9 322.8,135.2 324.8,134.8 326.9,134.4 328.9,133.3 330.9,133.0 333.0,132.4 335.0,132.0 337.2,131.5 339.3,131.1 341.5,130.2 343.7,129.8 345.8,129.3 348.0,129.0 350.0,128.4 352.0,127.4 354.0,126.1 356.0,125.6 358.0,124.5 360.0,123.3 362.0,122.8 364.0,121.5 366.0,120.6 368.0,120.0 370.0,120.3 372.0,119.9 374.0,120.0 376.0,120.3 378.4,120.9 380.8,121.1 383.2,121.0 385.6,121.4 387.7,121.3 389.7,120.6 391.8,120.3 393.8,119.5 395.9,119.6 397.9,119.0 400.0,118.5 402.1,118.5 404.2,118.1 406.2,117.3 408.3,117.0 410.4,116.5 412.5,116.2 414.6,115.7 416.6,115.6 418.7,115.4 420.8,115.0 423.4,112.7 426.0,111.0 428.4,109.6 430.9,108.0 433.2,107.8 435.4,107.7 437.7,107.9 440.0,107.6 442.0,107.6 444.0,107.4 446.0,107.5 448.0,107.7 450.0,107.5 452.1,107.1 454.2,107.7 456.4,106.9 458.5,107.3 460.6,107.3 462.7,107.0 465.1,107.9 467.6,109.6 470.0,110.6 472.0,110.4 474.0,110.4 476.0,109.8 478.0,110.0 480.1,109.4 482.2,109.2 484.4,109.4 486.5,108.8 489.5,106.3 492.0,112.0 495.3,117.6 497.5,118.4 499.8,119.7 502.0,120.5 504.1,121.7 506.2,122.6 508.3,123.0 510.4,124.0 513.2,126.4 516.0,129.0 518.3,130.7 520.7,132.5 523.0,134.0 525.0,134.7 527.0,136.2 529.0,137.0 531.2,137.9 533.3,138.6 535.5,139.0 537.7,138.2 539.8,138.3 542.0,137.5 544.0,136.9 546.0,136.7 548.0,136.5 550.0,137.2 552.0,138.1 554.0,138.5 556.2,138.9 558.5,139.8 560.7,140.0 562.9,141.5 565.0,143.0 567.9,143.8 570.7,144.8 572.8,145.2 574.9,145.7 577.0,146.5 579.0,146.2 581.0,146.3 583.0,146.6 585.0,146.5 587.5,145.8 590.0,144.5 592.9,142.8 595.8,141.5 597.9,140.2 599.9,139.8 602.0,138.5 604.1,137.4 606.3,136.1 608.4,135.0 611.2,132.8 614.0,131.0 616.0,130.0 618.0,129.0 620.0,127.7 622.5,125.8 625.0,124.0 627.6,122.6 630.3,121.4 632.9,119.0 635.4,117.4 638.0,115.0 640.5,112.6 642.9,110.9 645.4,108.8 647.7,107.6 650.0,106.0 652.7,105.0 655.4,104.6 657.9,104.7 660.5,104.7 663.0,104.3 665.5,104.6 668.0,105.0 670.5,105.0 672.8,106.0 675.0,107.5 677.8,109.4 680.6,111.4 682.8,113.0 685.0,115.0 687.8,117.2 690.6,118.9 692.7,119.8 694.9,120.9 697.0,122.0 699.0,123.3 701.0,124.2 703.0,125.0 705.5,126.2 708.0,126.8 710.5,127.2 713.0,127.7 715.1,127.7 717.3,127.9 719.4,127.7 721.5,127.6 723.7,127.6 725.8,127.7 728.2,127.1 730.6,126.8 733.0,126.5 735.6,126.0 738.3,125.2 740.9,124.0" fill="none" stroke="#a0a6cc" stroke-width="1.9" stroke-linejoin="round" stroke-linecap="round" opacity="1"/>
<polyline points="290.0,156.6 292.0,156.8 294.0,156.8 296.0,156.6 298.0,156.4 300.0,156.6 302.2,156.3 304.4,156.7 306.7,156.6 308.9,156.8 311.1,156.5 313.4,156.8 315.6,156.4 317.8,156.6 319.9,157.5 322.0,158.0 324.9,157.8 327.8,157.3 331.0,155.5 333.2,154.1 335.4,152.8 338.0,148.0 340.4,144.0 343.0,148.0 345.4,150.0 347.7,149.5 350.0,149.0 352.8,149.8 355.5,150.3 358.0,150.2 360.5,150.5 363.0,150.5 365.5,151.0 368.0,151.0 370.5,151.5 372.8,152.5 375.0,153.0 377.8,154.3 380.6,155.3 382.8,157.4 385.0,159.0 387.8,160.8 390.6,162.8 393.3,161.6 396.0,161.0 398.4,160.2 400.7,159.0 404.0,155.5 406.0,154.4 408.0,152.8 410.3,153.3 412.7,153.6 415.0,154.5 417.0,154.8 419.0,155.6 421.0,155.9 423.0,156.6" fill="none" stroke="#a0a6cc" stroke-width="1.9" stroke-linejoin="round" stroke-linecap="round" opacity="1"/>
<polyline points="0.0,175.0 2.5,175.3 5.0,176.0 7.5,177.1 10.0,177.5 12.0,176.7 14.0,176.5 16.0,176.9 18.0,177.0 20.0,175.7 22.0,174.8 24.0,174.0 26.0,173.4 28.0,172.0 30.0,170.4 32.0,169.4 34.0,168.0 36.0,170.0 38.0,172.0 40.0,174.5 42.0,177.0 44.5,179.5 47.0,182.0 49.5,182.0 52.0,182.5 54.0,182.1 56.0,180.8 58.0,180.5 60.0,180.5 62.0,180.6 64.0,181.1 66.0,181.5 68.0,180.9 70.0,180.8 72.0,180.0 74.0,180.6 76.0,181.0 78.0,182.0 80.0,181.6 82.0,181.9 84.0,180.9 86.0,181.0 88.0,181.6 90.0,181.9 92.0,182.5 94.0,182.5 96.0,182.1 98.0,182.3 100.0,182.0 102.0,182.4 104.0,182.9 106.0,183.5 108.0,183.7 110.0,184.0 112.0,183.1 114.0,182.4 116.0,182.5 118.0,181.5 120.0,181.0 122.0,180.3 124.0,180.4 126.0,179.5 128.0,178.9 130.0,178.4 132.0,177.9 134.0,177.0 136.0,175.8 138.0,174.9 140.0,174.0" fill="none" stroke="#a0a6cc" stroke-width="1.8" stroke-linejoin="round" stroke-linecap="round" opacity="1"/>
<polyline points="140.0,174.0 142.0,172.5 144.0,170.9 146.0,169.5 148.0,168.1 150.0,167.0 152.0,166.9 154.0,166.3 156.0,166.3 158.0,166.0 160.0,166.1 162.0,165.7 164.0,165.8 166.0,165.7 168.0,165.4 170.0,165.5 172.1,165.4 174.3,165.4 176.4,165.3 178.6,165.3 180.7,165.0 182.9,165.0 185.0,165.0 187.1,164.8 189.3,164.9 191.4,165.0 193.6,164.8 195.7,164.8 197.9,164.5 200.0,164.5 202.0,164.5 204.0,164.2 206.0,164.3 208.0,164.4 210.0,164.3 212.0,164.2 214.0,164.0 216.0,164.0 218.0,163.9 220.0,164.0 222.0,163.9 224.0,164.0 226.0,163.7 228.0,164.0 230.0,163.9 232.0,163.5 234.0,163.6 236.0,163.6 238.0,163.4 240.0,163.5 242.1,163.4 244.3,163.5 246.4,163.1 248.6,163.3 250.7,163.0 252.9,163.1 255.0,163.0 257.0,163.1 259.0,162.7 261.0,162.6 263.0,162.7 265.0,162.4 267.0,162.4 269.0,162.1 271.0,161.9 273.0,161.9 275.0,161.8 277.0,161.7 279.0,161.2 281.0,160.9 283.0,160.7 285.0,160.4 288.0,158.5 290.5,156.2" fill="none" stroke="#4b5590" stroke-width="1.6" stroke-linejoin="round" stroke-linecap="round" opacity="1"/>
<polyline points="0.0,162.0 3.0,160.5 5.3,160.7 7.7,161.0 10.0,161.5 12.0,161.6 14.0,161.4 16.0,161.7 18.0,161.7 20.0,161.6 22.0,161.9 24.0,161.7 26.0,162.0 28.0,161.9 30.0,162.0 32.0,162.2 34.0,162.5 36.0,162.2 38.0,162.3 40.0,162.5 42.0,162.5 44.0,162.6 46.0,162.4 48.0,162.2 50.0,162.5 52.0,162.0 54.0,162.3 56.0,162.0 58.0,161.9 60.0,162.0 62.0,161.8 64.0,161.8 66.0,162.0 68.0,161.6 70.0,161.8 72.0,161.8 74.0,161.6 76.0,161.6 78.0,161.3 80.0,161.5 82.0,161.5 84.0,161.9 86.0,162.3 88.0,162.5 90.0,162.8 92.0,163.1 94.0,163.5 96.0,163.8 98.0,164.1 100.0,164.5 102.0,164.3 104.0,164.0 106.0,163.5 108.0,163.3 110.0,163.0 112.0,162.9 114.0,163.0 116.0,162.8 118.0,162.5 120.0,162.7 122.0,162.2 124.0,162.3 126.0,162.3 128.0,161.9 130.0,162.0 132.1,162.1 134.3,162.0 136.4,162.4 138.6,162.6 140.7,162.6 142.9,162.9 145.0,162.8 147.3,161.9 149.7,161.4 152.0,160.5 154.0,160.4 156.0,160.2 158.0,160.0 160.5,157.7 163.0,155.5 165.2,155.4 167.5,155.2 169.8,154.7 172.0,154.5 174.0,154.7 176.0,154.5 178.0,155.0 180.0,155.0 182.0,154.6 184.0,154.4 186.0,153.8 188.0,153.1 190.0,152.8 192.0,152.8 194.0,153.0 196.0,152.7 198.0,152.9 200.0,153.0 202.5,152.1 205.0,151.5 207.0,151.5 209.0,151.7 211.0,152.2 213.0,152.1 215.0,152.5 217.5,151.1 220.0,150.0 222.0,150.4 224.0,151.1 226.0,151.1 228.0,151.8 230.3,150.8 232.7,150.0 235.0,149.0 237.0,149.0 239.0,148.8 241.0,148.6 243.0,148.1 245.0,148.0 247.0,147.7 249.0,147.3 251.0,147.3 253.0,147.0 255.0,146.5 257.0,146.1 259.0,145.8 261.0,145.5 263.0,145.4 265.2,144.8 267.5,144.5 269.7,144.0" fill="none" stroke="#626da8" stroke-width="1.8" stroke-linejoin="round" stroke-linecap="round" opacity="1"/>
<polyline points="269.7,144.0 272.6,144.0 275.3,145.1 278.0,146.0 280.3,146.1 282.7,146.4 285.0,146.5 287.6,145.4 290.1,145.1 292.7,144.0 296.0,146.5 298.0,147.4 300.0,147.8 302.5,146.3 305.0,144.5 307.5,143.4 310.0,142.8 312.0,143.5 314.0,144.1 316.0,145.0 318.3,145.3 320.5,146.4 322.8,146.5 325.4,147.6 328.0,148.0 330.5,148.8 333.0,150.3 335.0,149.4 337.0,148.0 340.4,146.5 342.5,145.3 344.6,143.9 346.7,142.8 350.0,142.0 352.8,140.8 355.5,140.0 357.7,140.4 359.8,140.5 362.0,140.8 364.1,140.7 366.2,140.5 368.4,139.9 370.5,140.0 374.0,144.0 376.0,145.5 378.0,146.5 380.5,146.1 383.0,145.0 385.5,144.9 388.0,144.0 390.0,144.6 392.0,145.0 395.7,144.0 399.0,147.5 401.0,148.4 403.0,150.0 405.0,150.1 407.0,150.7 409.0,151.5 411.3,152.7 413.5,153.0 415.8,154.0 418.4,155.9 421.0,158.0 423.4,160.1 425.8,161.6 429.0,159.0 431.2,157.7 433.4,156.6 435.7,158.8 438.0,161.0 440.7,163.7 443.4,166.6 445.5,167.5 447.6,169.0 449.7,170.1 451.9,171.3 454.0,172.0 456.0,172.4 458.0,173.1 460.0,174.0 463.0,170.5 466.4,168.4 470.0,171.0 472.5,171.3 475.0,171.7 477.5,171.5 480.0,172.0 482.5,173.0 485.0,174.0 487.6,174.8 490.3,175.0 492.6,173.9 495.0,172.5 497.7,171.3 500.4,170.0 502.9,169.1 505.5,167.4 508.0,166.5 510.5,165.4 512.9,164.0 515.4,162.9 517.6,161.8 519.8,160.3 522.0,159.5 524.0,158.8 526.0,157.2 528.0,156.6 530.5,156.3 533.0,156.8 535.5,156.6 537.7,158.1 539.8,158.8 542.0,160.0 544.0,160.9 546.0,161.7 548.0,162.9 550.1,163.1 552.3,163.7 554.4,164.0 556.5,167.9 558.6,172.4 562.0,170.5 565.7,169.0 567.9,166.9 570.0,165.4 572.9,162.9 575.7,160.4 577.9,158.8 580.0,157.8 582.2,157.4 584.3,157.1 586.5,156.5 588.6,155.8 590.8,155.3 593.1,154.5 595.3,153.9 597.6,153.3 600.3,154.0 603.0,155.5 605.4,155.8 607.7,155.8 610.5,154.2 613.4,152.8 615.6,151.8 617.8,150.8 620.0,150.3 622.0,148.7 624.0,147.2 626.0,145.5 628.3,143.2 630.5,141.5 632.8,139.0 634.9,135.1 637.0,131.0 640.4,125.0 642.7,121.8 645.0,119.0 647.7,117.0 650.4,115.0 652.8,115.0 655.2,114.3 657.6,114.0 660.0,113.5 662.1,113.0 664.2,113.1 666.3,112.9 668.4,112.7 670.5,112.6 672.7,111.8 674.8,111.3 677.0,110.5 679.0,110.0 681.0,109.4 683.0,108.8 685.2,109.1 687.5,109.9 689.8,110.8 692.0,111.0 694.2,111.7 696.4,112.1 698.5,112.8 700.7,113.9 703.4,115.7 706.0,117.5 708.4,119.1 710.7,121.4 713.4,122.6 716.0,124.5 718.4,125.1 720.8,126.4 722.8,126.6 724.8,127.3 726.8,127.2 728.8,127.4 730.8,127.7" fill="none" stroke="url(#l2s)" stroke-width="1.9" stroke-linejoin="round" stroke-linecap="round" opacity="1"/>
<path d="M601,156 L700,156 C706,155.5 709,153 712,147 C715,140 717,132 722,128.5 C728,126 735,124.8 742.5,123.3" fill="none" stroke="#3f4568" stroke-width="1.1"/>
<path d="M738.2,144.6 L740.2,147.8 L743,144.4" fill="none" stroke="#8a8fa8" stroke-width="1"/>
<line x1="0" y1="295.6" x2="752" y2="295.6" stroke="#dcdcde" stroke-width="1"/>
<line x1="6.8" y1="293.5" x2="6.8" y2="297.5" stroke="#d4d4d6" stroke-width="0.8"/>
<line x1="32.6" y1="293.5" x2="32.6" y2="297.5" stroke="#d4d4d6" stroke-width="0.8"/>
<line x1="58.4" y1="293.5" x2="58.4" y2="297.5" stroke="#d4d4d6" stroke-width="0.8"/>
<line x1="84.2" y1="293.5" x2="84.2" y2="297.5" stroke="#d4d4d6" stroke-width="0.8"/>
<line x1="110.0" y1="293.5" x2="110.0" y2="297.5" stroke="#d4d4d6" stroke-width="0.8"/>
<line x1="135.8" y1="293.5" x2="135.8" y2="297.5" stroke="#d4d4d6" stroke-width="0.8"/>
<line x1="161.6" y1="293.5" x2="161.6" y2="297.5" stroke="#d4d4d6" stroke-width="0.8"/>
<line x1="187.4" y1="293.5" x2="187.4" y2="297.5" stroke="#d4d4d6" stroke-width="0.8"/>
<line x1="213.2" y1="293.5" x2="213.2" y2="297.5" stroke="#d4d4d6" stroke-width="0.8"/>
<line x1="239.0" y1="293.5" x2="239.0" y2="297.5" stroke="#d4d4d6" stroke-width="0.8"/>
<line x1="264.8" y1="293.5" x2="264.8" y2="297.5" stroke="#d4d4d6" stroke-width="0.8"/>
<line x1="290.6" y1="293.5" x2="290.6" y2="297.5" stroke="#d4d4d6" stroke-width="0.8"/>
<line x1="316.4" y1="293.5" x2="316.4" y2="297.5" stroke="#d4d4d6" stroke-width="0.8"/>
<line x1="342.2" y1="293.5" x2="342.2" y2="297.5" stroke="#d4d4d6" stroke-width="0.8"/>
<line x1="368.0" y1="293.5" x2="368.0" y2="297.5" stroke="#d4d4d6" stroke-width="0.8"/>
<line x1="393.8" y1="293.5" x2="393.8" y2="297.5" stroke="#d4d4d6" stroke-width="0.8"/>
<line x1="419.6" y1="293.5" x2="419.6" y2="297.5" stroke="#d4d4d6" stroke-width="0.8"/>
<line x1="445.4" y1="293.5" x2="445.4" y2="297.5" stroke="#d4d4d6" stroke-width="0.8"/>
<line x1="471.2" y1="293.5" x2="471.2" y2="297.5" stroke="#d4d4d6" stroke-width="0.8"/>
<line x1="497.0" y1="293.5" x2="497.0" y2="297.5" stroke="#d4d4d6" stroke-width="0.8"/>
<line x1="522.8" y1="293.5" x2="522.8" y2="297.5" stroke="#d4d4d6" stroke-width="0.8"/>
<line x1="548.6" y1="293.5" x2="548.6" y2="297.5" stroke="#d4d4d6" stroke-width="0.8"/>
<line x1="574.4" y1="293.5" x2="574.4" y2="297.5" stroke="#d4d4d6" stroke-width="0.8"/>
<line x1="600.2" y1="293.5" x2="600.2" y2="297.5" stroke="#d4d4d6" stroke-width="0.8"/>
<line x1="626.0" y1="293.5" x2="626.0" y2="297.5" stroke="#d4d4d6" stroke-width="0.8"/>
<line x1="651.8" y1="293.5" x2="651.8" y2="297.5" stroke="#d4d4d6" stroke-width="0.8"/>
<line x1="677.6" y1="293.5" x2="677.6" y2="297.5" stroke="#d4d4d6" stroke-width="0.8"/>
<line x1="703.4" y1="293.5" x2="703.4" y2="297.5" stroke="#d4d4d6" stroke-width="0.8"/>
<line x1="729.2" y1="293.5" x2="729.2" y2="297.5" stroke="#d4d4d6" stroke-width="0.8"/>
<text x="11.4" y="307.6" font-size="9.2" fill="#515156" text-anchor="middle" textLength="17.4" lengthAdjust="spacingAndGlyphs">OOS</text>
<text x="63.8" y="307.6" font-size="9.2" fill="#515156" text-anchor="middle" textLength="20.7" lengthAdjust="spacingAndGlyphs">2000</text>
<text x="113.3" y="307.6" font-size="9.2" fill="#515156" text-anchor="middle" textLength="20.7" lengthAdjust="spacingAndGlyphs">20I0</text>
<text x="164.4" y="307.6" font-size="9.2" fill="#515156" text-anchor="middle" textLength="20.2" lengthAdjust="spacingAndGlyphs">8008</text>
<text x="215.9" y="307.6" font-size="9.2" fill="#515156" text-anchor="middle" textLength="20.7" lengthAdjust="spacingAndGlyphs">2019</text>
<text x="268.9" y="307.6" font-size="9.2" fill="#515156" text-anchor="middle" textLength="25.7" lengthAdjust="spacingAndGlyphs">2I000</text>
<text x="295" y="307.6" font-size="9.2" fill="#515156" text-anchor="middle" textLength="15.4" lengthAdjust="spacingAndGlyphs">809</text>
<text x="342.7" y="307.6" font-size="9.2" fill="#515156" text-anchor="middle" textLength="22" lengthAdjust="spacingAndGlyphs">10009</text>
<text x="393.7" y="307.6" font-size="9.2" fill="#515156" text-anchor="middle" textLength="21.4" lengthAdjust="spacingAndGlyphs">3000</text>
<text x="443.5" y="307.6" font-size="9.2" fill="#515156" text-anchor="middle" textLength="20.7" lengthAdjust="spacingAndGlyphs">2083</text>
<text x="495.6" y="307.6" font-size="9.2" fill="#515156" text-anchor="middle" textLength="23.6" lengthAdjust="spacingAndGlyphs">20009</text>
<text x="526.6" y="307.6" font-size="9.2" fill="#515156" text-anchor="middle" textLength="21.2" lengthAdjust="spacingAndGlyphs">2002</text>
<text x="579.1" y="307.6" font-size="9.2" fill="#515156" text-anchor="middle" textLength="24" lengthAdjust="spacingAndGlyphs">20I08</text>
<text x="630.5" y="307.6" font-size="9.2" fill="#515156" text-anchor="middle" textLength="21.7" lengthAdjust="spacingAndGlyphs">2000</text>
<text x="686.5" y="307.6" font-size="9.2" fill="#515156" text-anchor="middle" textLength="21.4" lengthAdjust="spacingAndGlyphs">2000</text>
<text x="739.5" y="307.6" font-size="9.2" fill="#515156" text-anchor="middle" textLength="29" lengthAdjust="spacingAndGlyphs">I20I00</text>
<text x="272.4" y="31.6" font-size="8.4" fill="#c3c3c8" text-anchor="start" textLength="13" lengthAdjust="spacingAndGlyphs">65%</text>
<text x="272.4" y="61.9" font-size="8.4" fill="#c3c3c8" text-anchor="start" textLength="13" lengthAdjust="spacingAndGlyphs">11%</text>
<text x="272.4" y="90.7" font-size="8.4" fill="#c3c3c8" text-anchor="start" textLength="13" lengthAdjust="spacingAndGlyphs">83%</text>
<text x="272.4" y="119.7" font-size="8.4" fill="#c3c3c8" text-anchor="start" textLength="13" lengthAdjust="spacingAndGlyphs">18%</text>
<text x="272.4" y="158.8" font-size="8.4" fill="#c3c3c8" text-anchor="start" textLength="13" lengthAdjust="spacingAndGlyphs">30%</text>
<text x="272.4" y="178.6" font-size="8.4" fill="#c3c3c8" text-anchor="start" textLength="9.5" lengthAdjust="spacingAndGlyphs">7%</text>
<text x="272.4" y="206" font-size="8.4" fill="#c3c3c8" text-anchor="start" textLength="13" lengthAdjust="spacingAndGlyphs">63%</text>
<text x="272.4" y="236" font-size="8.4" fill="#c3c3c8" text-anchor="start" textLength="13" lengthAdjust="spacingAndGlyphs">27%</text>
<text x="272.4" y="262" font-size="8.4" fill="#c3c3c8" text-anchor="start" textLength="13" lengthAdjust="spacingAndGlyphs">10%</text>
<text x="742.5" y="25.8" font-size="8.4" fill="#b2b2b7" text-anchor="start" >35</text>
<text x="745.3" y="77.3" font-size="8.4" fill="#b2b2b7" text-anchor="start" >50</text>
<text x="746" y="118.7" font-size="8.4" fill="#b2b2b7" text-anchor="start" >10</text>
<text x="745" y="131.8" font-size="8.4" fill="#b2b2b7" text-anchor="start" >25</text>
<text x="746.2" y="150.6" font-size="8.4" fill="#b2b2b7" text-anchor="start" >11</text>
<text x="744.5" y="202" font-size="8.4" fill="#b2b2b7" text-anchor="start" >7%</text>
<text x="745" y="242.5" font-size="8.4" fill="#b2b2b7" text-anchor="start" >EX</text>
<text x="745.3" y="262" font-size="8.4" fill="#b2b2b7" text-anchor="start" >25</text>
<text x="745.5" y="277" font-size="8.4" fill="#b2b2b7" text-anchor="start" >10</text>
<g fill="none" stroke="#2f93c2" stroke-width="1.7" stroke-linecap="round"><path d="M5.4,8.3 C7,5.9 11.6,6.2 11.9,10.3 C12.1,14.2 7.6,15.4 5.6,13.4 C4.1,11.8 5.6,9.8 11.6,10.4"/></g>
<text x="13.8" y="14.6" font-size="11" fill="#48494e" text-anchor="start" letter-spacing="0.1">TUplle Goocy Cumdivigs</text>
<text x="3.5" y="29.9" font-size="10.2" fill="#b1b2b7" text-anchor="start" >Urmes sppek stnaed</text>
<text x="2.3" y="324.3" font-size="11.2" fill="#44464c" text-anchor="start" >Vhovet nhay</text>
<text x="281.8" y="324.3" font-size="11.2" fill="#44464c" text-anchor="start" letter-spacing="0.35">Inan Phbllannend Bipp</text>
<text x="510.5" y="326.6" font-size="11.2" fill="#44464c" text-anchor="start" >16ok Rev<tspan fill="#8a8c92">&gt;</tspan></text>
<text x="3" y="338" font-size="8.6" fill="#c6c6ca" text-anchor="start" >3D Boo</text>
<text x="297" y="338" font-size="8" fill="#bdbdc1" text-anchor="start" >SD</text>
<text x="317" y="338.5" font-size="8" fill="#b9ddd2" text-anchor="start" >Ub.Hee</text>
<text x="517.5" y="339.5" font-size="8.7" fill="#d6d6da" text-anchor="start" >Bolt. Ery som</text>
<line x1="5" y1="371.4" x2="259" y2="371.4" stroke="#ececee" stroke-width="1"/>
<line x1="296" y1="371.4" x2="488" y2="371.4" stroke="#ececee" stroke-width="1"/>
<line x1="517" y1="371.4" x2="744" y2="371.4" stroke="#ececee" stroke-width="1"/>
<line x1="5" y1="350.2" x2="259" y2="350.2" stroke="#f0f0f1" stroke-width="1"/>
<line x1="517" y1="350.2" x2="558" y2="350.2" stroke="#eeeeef" stroke-width="1"/>
<polygon points="4.2,401.4 4.2,387.7 5.8,387.4 7.4,387.0 9.0,386.8 10.7,387.3 12.3,386.8 13.9,386.7 15.5,386.3 17.3,384.9 19.2,383.3 21.0,382.0 22.5,382.3 24.0,382.2 25.5,382.5 27.0,382.5 28.5,382.8 30.0,382.5 31.5,382.6 33.0,382.4 34.5,382.5 36.0,383.2 37.5,382.8 39.0,383.4 40.5,383.5 42.0,383.5 43.5,380.7 45.0,379.1 46.5,376.4 48.0,376.0 49.5,376.8 51.1,376.8 52.6,376.2 54.1,376.7 55.6,376.8 57.1,376.2 58.7,376.8 60.2,376.2 61.7,377.1 63.2,376.9 64.7,377.2 66.3,376.3 67.8,376.6 69.3,376.9 70.8,376.9 72.3,376.5 73.9,377.2 75.4,377.2 76.9,376.7 78.4,376.5 79.9,377.1 81.5,376.9 83.0,377.1 84.5,377.0 86.0,377.1 87.5,377.2 89.0,377.0 90.5,377.3 92.0,377.7 93.5,378.2 95.0,378.0 96.5,378.5 98.0,378.4 99.5,378.9 101.0,378.8 102.5,378.7 104.0,379.0 105.5,378.4 107.1,378.1 108.6,377.8 110.1,378.4 111.6,378.2 113.2,377.8 114.7,377.0 116.2,377.3 117.8,376.5 119.3,377.0 120.8,376.6 122.4,376.4 123.9,376.1 125.4,375.6 126.9,375.8 128.5,375.7 130.0,375.0 131.7,375.0 133.3,375.4 135.0,375.9 136.7,376.1 138.3,376.1 140.0,376.4 141.5,376.0 143.0,376.1 144.5,375.1 146.0,374.6 147.5,374.8 149.0,374.0 150.5,374.2 152.0,373.3 153.5,373.5 155.0,372.6 156.5,372.8 158.0,372.0 159.6,372.4 161.1,372.6 162.7,372.2 164.2,372.4 165.8,372.4 167.3,372.7 168.9,373.4 170.4,373.0 172.0,373.6 173.7,372.7 175.3,372.5 177.0,371.5 178.7,371.0 180.3,370.3 182.0,370.0 183.7,369.6 185.3,368.5 187.0,368.8 188.7,367.8 190.3,367.4 192.0,366.6 193.6,367.1 195.1,367.4 196.7,368.3 198.3,368.6 199.9,368.9 201.4,368.5 203.0,369.4 204.5,369.6 206.0,370.1 207.5,370.0 209.0,370.0 210.5,370.2 212.0,369.9 213.5,370.6 215.0,370.5 216.5,371.0 218.0,370.4 219.5,371.0 221.0,371.3 222.6,371.2 224.1,371.7 225.6,372.1 227.1,372.2 228.6,372.0 230.2,371.9 231.9,371.8 233.5,372.5 235.2,372.3 236.8,372.6 238.4,372.7 240.1,372.1 241.7,372.5 243.4,372.3 245.0,372.5 246.6,372.9 248.2,373.0 249.9,372.7 251.5,373.1 253.1,373.3 254.8,373.1 256.4,373.1 258.0,373.6 258.0,401.4" fill="#b6dbe7"/>
<polygon points="296.5,401.4 296.5,374.2 298.0,374.4 299.5,373.8 301.0,374.1 302.5,374.1 304.0,374.7 305.5,374.6 307.0,374.9 308.5,374.1 310.0,374.6 311.5,374.6 313.1,374.3 314.6,374.6 316.2,375.0 317.7,374.7 319.2,374.9 320.8,375.5 322.3,375.5 323.8,375.3 325.4,375.8 326.9,376.1 328.5,375.4 330.0,376.0 331.5,376.4 333.1,376.4 334.6,376.2 336.2,376.1 337.7,377.0 339.2,376.5 340.8,376.4 342.3,376.5 343.8,377.4 345.4,377.3 346.9,377.6 348.5,377.6 350.0,377.5 351.5,377.6 353.0,378.1 354.5,377.6 356.0,377.8 357.5,378.1 359.0,378.0 360.5,378.3 362.0,378.1 363.5,378.2 365.0,377.6 366.5,377.9 368.0,378.0 369.5,377.9 371.0,378.1 372.5,378.0 374.0,378.2 375.5,378.7 377.0,378.4 378.5,378.5 380.0,378.7 381.6,378.5 383.1,378.7 384.7,379.5 386.2,379.3 387.8,379.3 389.3,379.0 390.9,379.7 392.4,379.2 394.0,379.5 395.6,380.2 397.1,380.0 398.7,380.0 400.2,380.3 401.8,380.5 403.3,380.6 404.9,380.1 406.4,380.0 408.0,380.6 409.5,380.4 411.0,380.4 412.5,380.3 414.1,381.0 415.6,381.0 417.1,380.4 418.6,380.8 420.1,380.5 421.6,381.0 423.1,380.6 424.6,380.4 426.2,380.3 427.7,380.7 429.2,380.4 430.7,380.6 432.3,380.2 433.8,380.1 435.4,379.1 437.0,378.5 438.5,378.8 440.1,377.8 441.7,376.9 443.2,376.4 444.8,376.4 446.3,376.1 447.9,376.6 449.4,376.9 450.9,376.5 452.5,376.2 454.0,376.6 455.6,377.3 457.1,376.9 458.6,377.4 460.2,377.3 461.7,377.0 463.4,376.8 465.0,377.7 466.7,377.9 468.4,378.0 470.0,378.0 471.7,378.6 473.3,378.4 475.0,379.0 476.5,379.1 478.0,379.4 479.5,380.1 481.0,380.2 482.5,379.8 484.0,380.2 485.5,380.1 487.0,380.6 487.0,401.4" fill="#b6dbe7"/>
<polygon points="517.5,401.4 517.5,380.6 519.0,380.2 520.5,380.9 522.0,380.4 523.5,380.8 525.0,381.1 526.5,381.3 528.0,381.0 529.5,381.1 531.0,380.7 532.5,381.1 534.0,381.1 535.5,381.7 537.0,381.4 538.5,381.7 540.0,381.5 541.5,381.5 543.1,381.3 544.6,382.0 546.2,382.0 547.7,381.6 549.2,381.3 550.8,381.8 552.3,381.8 553.8,382.1 555.4,382.0 556.9,381.9 558.5,382.0 560.0,382.0 561.5,381.9 563.1,381.6 564.6,381.7 566.2,382.6 567.7,382.5 569.2,382.0 570.8,382.7 572.3,382.3 573.8,381.9 575.4,382.7 576.9,382.5 578.5,382.9 580.0,382.7 581.5,382.1 583.1,382.7 584.6,382.9 586.2,383.1 587.7,382.5 589.2,382.8 590.8,383.0 592.3,382.5 593.8,383.2 595.4,383.2 596.9,382.5 598.5,383.1 600.0,383.0 601.5,382.9 603.1,382.8 604.6,383.2 606.2,383.6 607.7,383.2 609.2,382.8 610.8,383.3 612.3,383.6 613.8,383.8 615.4,383.6 616.9,383.0 618.5,383.9 620.0,383.5 621.5,383.6 623.1,383.1 624.6,383.1 626.1,383.1 627.7,383.7 629.2,383.2 630.8,383.8 632.3,383.1 633.8,383.5 635.4,383.4 636.9,383.0 638.4,383.0 640.0,383.9 641.5,384.0 643.0,383.1 644.6,383.7 646.1,384.0 647.7,383.9 649.2,383.9 650.7,383.3 652.3,383.7 653.8,383.5 655.9,385.6 658.0,387.7 659.7,388.9 661.3,389.3 663.0,390.2 664.7,390.9 666.3,391.2 668.0,392.0 669.6,391.6 671.2,390.4 672.8,389.9 674.4,390.0 676.0,389.0 677.7,388.7 679.3,388.7 681.0,388.3 682.7,387.8 684.3,387.8 686.0,387.5 687.7,387.7 689.3,386.9 691.0,386.7 692.7,386.4 694.3,386.2 696.0,386.3 697.6,387.2 699.1,387.7 700.7,388.6 702.3,388.9 703.9,389.8 705.4,389.6 707.0,390.5 708.6,390.3 710.2,390.5 711.9,390.8 713.5,391.5 715.1,390.8 716.8,391.2 718.4,390.9 720.0,391.5 721.6,391.1 723.2,391.7 724.8,391.8 726.4,391.8 727.9,392.2 729.5,392.2 731.1,392.4 732.7,392.0 734.3,391.9 735.9,391.3 737.5,391.0 739.2,391.4 740.8,390.6 742.4,390.2 744.0,390.5 744.0,401.4" fill="url(#m3)"/>
<line x1="4.2" y1="389.2" x2="4.2" y2="385.4" stroke="#4e9fb3" stroke-width="0.8" opacity="0.8"/>
<line x1="5.8" y1="388.9" x2="5.8" y2="384.3" stroke="#4e9fb3" stroke-width="0.8" opacity="0.8"/>
<line x1="7.4" y1="388.5" x2="7.4" y2="384.6" stroke="#4e9fb3" stroke-width="0.8" opacity="0.8"/>
<line x1="10.7" y1="388.8" x2="10.7" y2="383.9" stroke="#4e9fb3" stroke-width="0.8" opacity="0.8"/>
<line x1="13.9" y1="388.2" x2="13.9" y2="384.1" stroke="#4e9fb3" stroke-width="0.8" opacity="0.8"/>
<line x1="17.3" y1="386.4" x2="17.3" y2="381.4" stroke="#4e9fb3" stroke-width="0.8" opacity="0.8"/>
<line x1="19.2" y1="384.8" x2="19.2" y2="379.9" stroke="#4e9fb3" stroke-width="0.8" opacity="0.8"/>
<line x1="22.5" y1="383.8" x2="22.5" y2="380.7" stroke="#4e9fb3" stroke-width="0.8" opacity="0.8"/>
<line x1="24.0" y1="383.7" x2="24.0" y2="379.2" stroke="#4e9fb3" stroke-width="0.8" opacity="0.8"/>
<line x1="25.5" y1="384.0" x2="25.5" y2="380.0" stroke="#4e9fb3" stroke-width="0.8" opacity="0.8"/>
<line x1="27.0" y1="384.0" x2="27.0" y2="379.5" stroke="#4e9fb3" stroke-width="0.8" opacity="0.8"/>
<line x1="31.5" y1="384.1" x2="31.5" y2="379.7" stroke="#4e9fb3" stroke-width="0.8" opacity="0.8"/>
<line x1="33.0" y1="383.9" x2="33.0" y2="379.3" stroke="#4e9fb3" stroke-width="0.8" opacity="0.8"/>
<line x1="34.5" y1="384.0" x2="34.5" y2="379.3" stroke="#4e9fb3" stroke-width="0.8" opacity="0.8"/>
<line x1="43.5" y1="382.2" x2="43.5" y2="377.2" stroke="#4e9fb3" stroke-width="0.8" opacity="0.8"/>
<line x1="45.0" y1="380.6" x2="45.0" y2="378.0" stroke="#4e9fb3" stroke-width="0.8" opacity="0.8"/>
<line x1="46.5" y1="377.9" x2="46.5" y2="374.4" stroke="#4e9fb3" stroke-width="0.8" opacity="0.8"/>
<line x1="48.0" y1="377.5" x2="48.0" y2="372.6" stroke="#4e9fb3" stroke-width="0.8" opacity="0.8"/>
<line x1="49.5" y1="378.3" x2="49.5" y2="373.6" stroke="#4e9fb3" stroke-width="0.8" opacity="0.8"/>
<line x1="51.1" y1="378.3" x2="51.1" y2="375.4" stroke="#4e9fb3" stroke-width="0.8" opacity="0.8"/>
<line x1="52.6" y1="377.7" x2="52.6" y2="374.1" stroke="#4e9fb3" stroke-width="0.8" opacity="0.8"/>
<line x1="54.1" y1="378.2" x2="54.1" y2="373.8" stroke="#4e9fb3" stroke-width="0.8" opacity="0.8"/>
<line x1="66.3" y1="377.8" x2="66.3" y2="374.0" stroke="#4e9fb3" stroke-width="0.8" opacity="0.8"/>
<line x1="73.9" y1="378.7" x2="73.9" y2="375.2" stroke="#4e9fb3" stroke-width="0.8" opacity="0.8"/>
<line x1="75.4" y1="378.7" x2="75.4" y2="374.7" stroke="#4e9fb3" stroke-width="0.8" opacity="0.8"/>
<line x1="81.5" y1="378.4" x2="81.5" y2="374.0" stroke="#4e9fb3" stroke-width="0.8" opacity="0.8"/>
<line x1="84.5" y1="378.5" x2="84.5" y2="373.6" stroke="#4e9fb3" stroke-width="0.8" opacity="0.8"/>
<line x1="86.0" y1="378.6" x2="86.0" y2="375.0" stroke="#4e9fb3" stroke-width="0.8" opacity="0.8"/>
<line x1="87.5" y1="378.7" x2="87.5" y2="374.7" stroke="#4e9fb3" stroke-width="0.8" opacity="0.8"/>
<line x1="93.5" y1="379.7" x2="93.5" y2="375.9" stroke="#4e9fb3" stroke-width="0.8" opacity="0.8"/>
<line x1="95.0" y1="379.5" x2="95.0" y2="375.4" stroke="#4e9fb3" stroke-width="0.8" opacity="0.8"/>
<line x1="96.5" y1="380.0" x2="96.5" y2="375.5" stroke="#4e9fb3" stroke-width="0.8" opacity="0.8"/>
<line x1="98.0" y1="379.9" x2="98.0" y2="376.3" stroke="#4e9fb3" stroke-width="0.8" opacity="0.8"/>
<line x1="101.0" y1="380.3" x2="101.0" y2="376.2" stroke="#4e9fb3" stroke-width="0.8" opacity="0.8"/>
<line x1="107.1" y1="379.6" x2="107.1" y2="374.7" stroke="#4e9fb3" stroke-width="0.8" opacity="0.8"/>
<line x1="108.6" y1="379.3" x2="108.6" y2="375.1" stroke="#4e9fb3" stroke-width="0.8" opacity="0.8"/>
<line x1="113.2" y1="379.3" x2="113.2" y2="376.8" stroke="#4e9fb3" stroke-width="0.8" opacity="0.8"/>
<line x1="116.2" y1="378.8" x2="116.2" y2="374.3" stroke="#4e9fb3" stroke-width="0.8" opacity="0.8"/>
<line x1="120.8" y1="378.1" x2="120.8" y2="373.4" stroke="#4e9fb3" stroke-width="0.8" opacity="0.8"/>
<line x1="122.4" y1="377.9" x2="122.4" y2="374.6" stroke="#4e9fb3" stroke-width="0.8" opacity="0.8"/>
<line x1="130.0" y1="376.5" x2="130.0" y2="372.1" stroke="#4e9fb3" stroke-width="0.8" opacity="0.8"/>
<line x1="131.7" y1="376.5" x2="131.7" y2="372.5" stroke="#4e9fb3" stroke-width="0.8" opacity="0.8"/>
<line x1="133.3" y1="376.9" x2="133.3" y2="374.1" stroke="#4e9fb3" stroke-width="0.8" opacity="0.8"/>
<line x1="136.7" y1="377.6" x2="136.7" y2="374.1" stroke="#4e9fb3" stroke-width="0.8" opacity="0.8"/>
<line x1="138.3" y1="377.6" x2="138.3" y2="373.2" stroke="#4e9fb3" stroke-width="0.8" opacity="0.8"/>
<line x1="140.0" y1="377.9" x2="140.0" y2="375.3" stroke="#4e9fb3" stroke-width="0.8" opacity="0.8"/>
<line x1="141.5" y1="377.5" x2="141.5" y2="372.7" stroke="#4e9fb3" stroke-width="0.8" opacity="0.8"/>
<line x1="144.5" y1="376.6" x2="144.5" y2="371.7" stroke="#4e9fb3" stroke-width="0.8" opacity="0.8"/>
<line x1="146.0" y1="376.1" x2="146.0" y2="372.4" stroke="#4e9fb3" stroke-width="0.8" opacity="0.8"/>
<line x1="147.5" y1="376.3" x2="147.5" y2="371.8" stroke="#4e9fb3" stroke-width="0.8" opacity="0.8"/>
<line x1="149.0" y1="375.5" x2="149.0" y2="370.9" stroke="#4e9fb3" stroke-width="0.8" opacity="0.8"/>
<line x1="150.5" y1="375.7" x2="150.5" y2="371.4" stroke="#4e9fb3" stroke-width="0.8" opacity="0.8"/>
<line x1="155.0" y1="374.1" x2="155.0" y2="369.9" stroke="#4e9fb3" stroke-width="0.8" opacity="0.8"/>
<line x1="156.5" y1="374.3" x2="156.5" y2="369.9" stroke="#4e9fb3" stroke-width="0.8" opacity="0.8"/>
<line x1="159.6" y1="373.9" x2="159.6" y2="370.0" stroke="#4e9fb3" stroke-width="0.8" opacity="0.8"/>
<line x1="168.9" y1="374.9" x2="168.9" y2="370.3" stroke="#4e9fb3" stroke-width="0.8" opacity="0.8"/>
<line x1="173.7" y1="374.2" x2="173.7" y2="370.4" stroke="#4e9fb3" stroke-width="0.8" opacity="0.8"/>
<line x1="175.3" y1="374.0" x2="175.3" y2="371.0" stroke="#4e9fb3" stroke-width="0.8" opacity="0.8"/>
<line x1="180.3" y1="371.8" x2="180.3" y2="369.1" stroke="#4e9fb3" stroke-width="0.8" opacity="0.8"/>
<line x1="183.7" y1="371.1" x2="183.7" y2="367.3" stroke="#4e9fb3" stroke-width="0.8" opacity="0.8"/>
<line x1="192.0" y1="368.1" x2="192.0" y2="363.2" stroke="#4e9fb3" stroke-width="0.8" opacity="0.8"/>
<line x1="195.1" y1="368.9" x2="195.1" y2="364.4" stroke="#4e9fb3" stroke-width="0.8" opacity="0.8"/>
<line x1="198.3" y1="370.1" x2="198.3" y2="367.4" stroke="#4e9fb3" stroke-width="0.8" opacity="0.8"/>
<line x1="199.9" y1="370.4" x2="199.9" y2="365.5" stroke="#4e9fb3" stroke-width="0.8" opacity="0.8"/>
<line x1="201.4" y1="370.0" x2="201.4" y2="365.5" stroke="#4e9fb3" stroke-width="0.8" opacity="0.8"/>
<line x1="203.0" y1="370.9" x2="203.0" y2="367.8" stroke="#4e9fb3" stroke-width="0.8" opacity="0.8"/>
<line x1="204.5" y1="371.1" x2="204.5" y2="366.6" stroke="#4e9fb3" stroke-width="0.8" opacity="0.8"/>
<line x1="206.0" y1="371.6" x2="206.0" y2="367.9" stroke="#4e9fb3" stroke-width="0.8" opacity="0.8"/>
<line x1="209.0" y1="371.5" x2="209.0" y2="368.9" stroke="#4e9fb3" stroke-width="0.8" opacity="0.8"/>
<line x1="210.5" y1="371.7" x2="210.5" y2="367.2" stroke="#4e9fb3" stroke-width="0.8" opacity="0.8"/>
<line x1="212.0" y1="371.4" x2="212.0" y2="368.7" stroke="#4e9fb3" stroke-width="0.8" opacity="0.8"/>
<line x1="213.5" y1="372.1" x2="213.5" y2="367.6" stroke="#4e9fb3" stroke-width="0.8" opacity="0.8"/>
<line x1="215.0" y1="372.0" x2="215.0" y2="369.2" stroke="#4e9fb3" stroke-width="0.8" opacity="0.8"/>
<line x1="216.5" y1="372.5" x2="216.5" y2="368.8" stroke="#4e9fb3" stroke-width="0.8" opacity="0.8"/>
<line x1="219.5" y1="372.5" x2="219.5" y2="368.1" stroke="#4e9fb3" stroke-width="0.8" opacity="0.8"/>
<line x1="224.1" y1="373.2" x2="224.1" y2="370.6" stroke="#4e9fb3" stroke-width="0.8" opacity="0.8"/>
<line x1="225.6" y1="373.6" x2="225.6" y2="370.1" stroke="#4e9fb3" stroke-width="0.8" opacity="0.8"/>
<line x1="228.6" y1="373.5" x2="228.6" y2="370.6" stroke="#4e9fb3" stroke-width="0.8" opacity="0.8"/>
<line x1="230.2" y1="373.4" x2="230.2" y2="369.6" stroke="#4e9fb3" stroke-width="0.8" opacity="0.8"/>
<line x1="231.9" y1="373.3" x2="231.9" y2="369.4" stroke="#4e9fb3" stroke-width="0.8" opacity="0.8"/>
<line x1="233.5" y1="374.0" x2="233.5" y2="370.7" stroke="#4e9fb3" stroke-width="0.8" opacity="0.8"/>
<line x1="235.2" y1="373.8" x2="235.2" y2="369.0" stroke="#4e9fb3" stroke-width="0.8" opacity="0.8"/>
<line x1="236.8" y1="374.1" x2="236.8" y2="371.3" stroke="#4e9fb3" stroke-width="0.8" opacity="0.8"/>
<line x1="241.7" y1="374.0" x2="241.7" y2="369.3" stroke="#4e9fb3" stroke-width="0.8" opacity="0.8"/>
<line x1="246.6" y1="374.4" x2="246.6" y2="370.9" stroke="#4e9fb3" stroke-width="0.8" opacity="0.8"/>
<line x1="248.2" y1="374.5" x2="248.2" y2="371.5" stroke="#4e9fb3" stroke-width="0.8" opacity="0.8"/>
<line x1="249.9" y1="374.2" x2="249.9" y2="370.0" stroke="#4e9fb3" stroke-width="0.8" opacity="0.8"/>
<line x1="256.4" y1="374.6" x2="256.4" y2="370.6" stroke="#4e9fb3" stroke-width="0.8" opacity="0.8"/>
<line x1="258.0" y1="375.1" x2="258.0" y2="370.7" stroke="#4e9fb3" stroke-width="0.8" opacity="0.8"/>
<line x1="188.7" y1="369.3" x2="188.7" y2="360.7" stroke="#3f93a9" stroke-width="1.3" opacity="0.85"/>
<line x1="190.3" y1="368.9" x2="190.3" y2="358.4" stroke="#3f93a9" stroke-width="1.3" opacity="0.85"/>
<line x1="192.0" y1="368.1" x2="192.0" y2="357.8" stroke="#3f93a9" stroke-width="1.3" opacity="0.85"/>
<line x1="193.6" y1="368.6" x2="193.6" y2="357.6" stroke="#3f93a9" stroke-width="1.3" opacity="0.85"/>
<line x1="195.1" y1="368.9" x2="195.1" y2="364.8" stroke="#3f93a9" stroke-width="1.3" opacity="0.85"/>
<line x1="196.7" y1="369.8" x2="196.7" y2="361.9" stroke="#3f93a9" stroke-width="1.3" opacity="0.85"/>
<line x1="198.3" y1="370.1" x2="198.3" y2="364.3" stroke="#3f93a9" stroke-width="1.3" opacity="0.85"/>
<line x1="199.9" y1="370.4" x2="199.9" y2="367.3" stroke="#3f93a9" stroke-width="1.3" opacity="0.85"/>
<line x1="201.4" y1="370.0" x2="201.4" y2="365.6" stroke="#3f93a9" stroke-width="1.3" opacity="0.85"/>
<line x1="203.0" y1="370.9" x2="203.0" y2="361.8" stroke="#3f93a9" stroke-width="1.3" opacity="0.85"/>
<line x1="204.5" y1="371.1" x2="204.5" y2="361.3" stroke="#3f93a9" stroke-width="1.3" opacity="0.85"/>
<line x1="216.5" y1="372.5" x2="216.5" y2="365.5" stroke="#3f93a9" stroke-width="1.3" opacity="0.85"/>
<line x1="219.5" y1="372.5" x2="219.5" y2="369.2" stroke="#3f93a9" stroke-width="1.3" opacity="0.85"/>
<line x1="221.0" y1="372.8" x2="221.0" y2="364.3" stroke="#3f93a9" stroke-width="1.3" opacity="0.85"/>
<line x1="225.6" y1="373.6" x2="225.6" y2="370.8" stroke="#3f93a9" stroke-width="1.3" opacity="0.85"/>
<line x1="227.1" y1="373.7" x2="227.1" y2="365.7" stroke="#3f93a9" stroke-width="1.3" opacity="0.85"/>
<line x1="230.2" y1="373.4" x2="230.2" y2="369.4" stroke="#3f93a9" stroke-width="1.3" opacity="0.85"/>
<line x1="231.9" y1="373.3" x2="231.9" y2="369.2" stroke="#3f93a9" stroke-width="1.3" opacity="0.85"/>
<line x1="233.5" y1="374.0" x2="233.5" y2="366.4" stroke="#3f93a9" stroke-width="1.3" opacity="0.85"/>
<line x1="235.2" y1="373.8" x2="235.2" y2="366.6" stroke="#3f93a9" stroke-width="1.3" opacity="0.85"/>
<line x1="236.8" y1="374.1" x2="236.8" y2="366.9" stroke="#3f93a9" stroke-width="1.3" opacity="0.85"/>
<line x1="241.7" y1="374.0" x2="241.7" y2="363.3" stroke="#3f93a9" stroke-width="1.3" opacity="0.85"/>
<line x1="246.6" y1="374.4" x2="246.6" y2="363.8" stroke="#3f93a9" stroke-width="1.3" opacity="0.85"/>
<line x1="249.9" y1="374.2" x2="249.9" y2="365.8" stroke="#3f93a9" stroke-width="1.3" opacity="0.85"/>
<line x1="7.4" y1="388.5" x2="7.4" y2="382.5" stroke="#4697ad" stroke-width="1.1" opacity="0.85"/>
<line x1="17.3" y1="386.4" x2="17.3" y2="383.1" stroke="#4697ad" stroke-width="1.1" opacity="0.85"/>
<line x1="22.5" y1="383.8" x2="22.5" y2="377.6" stroke="#4697ad" stroke-width="1.1" opacity="0.85"/>
<line x1="24.0" y1="383.7" x2="24.0" y2="379.4" stroke="#4697ad" stroke-width="1.1" opacity="0.85"/>
<line x1="25.5" y1="384.0" x2="25.5" y2="380.4" stroke="#4697ad" stroke-width="1.1" opacity="0.85"/>
<line x1="27.0" y1="384.0" x2="27.0" y2="379.0" stroke="#4697ad" stroke-width="1.1" opacity="0.85"/>
<line x1="30.0" y1="384.0" x2="30.0" y2="378.2" stroke="#4697ad" stroke-width="1.1" opacity="0.85"/>
<line x1="33.0" y1="383.9" x2="33.0" y2="380.0" stroke="#4697ad" stroke-width="1.1" opacity="0.85"/>
<line x1="34.5" y1="384.0" x2="34.5" y2="378.1" stroke="#4697ad" stroke-width="1.1" opacity="0.85"/>
<line x1="36.0" y1="384.7" x2="36.0" y2="380.0" stroke="#4697ad" stroke-width="1.1" opacity="0.85"/>
<line x1="37.5" y1="384.3" x2="37.5" y2="377.9" stroke="#4697ad" stroke-width="1.1" opacity="0.85"/>
<line x1="298.0" y1="375.9" x2="298.0" y2="372.5" stroke="#5aa5b5" stroke-width="0.8" opacity="0.8"/>
<line x1="299.5" y1="375.3" x2="299.5" y2="371.4" stroke="#5aa5b5" stroke-width="0.8" opacity="0.8"/>
<line x1="301.0" y1="375.6" x2="301.0" y2="372.4" stroke="#5aa5b5" stroke-width="0.8" opacity="0.8"/>
<line x1="304.0" y1="376.2" x2="304.0" y2="372.3" stroke="#5aa5b5" stroke-width="0.8" opacity="0.8"/>
<line x1="308.5" y1="375.6" x2="308.5" y2="371.7" stroke="#5aa5b5" stroke-width="0.8" opacity="0.8"/>
<line x1="317.7" y1="376.2" x2="317.7" y2="373.5" stroke="#5aa5b5" stroke-width="0.8" opacity="0.8"/>
<line x1="320.8" y1="377.0" x2="320.8" y2="374.1" stroke="#5aa5b5" stroke-width="0.8" opacity="0.8"/>
<line x1="322.3" y1="377.0" x2="322.3" y2="373.2" stroke="#5aa5b5" stroke-width="0.8" opacity="0.8"/>
<line x1="323.8" y1="376.8" x2="323.8" y2="374.3" stroke="#5aa5b5" stroke-width="0.8" opacity="0.8"/>
<line x1="325.4" y1="377.3" x2="325.4" y2="374.4" stroke="#5aa5b5" stroke-width="0.8" opacity="0.8"/>
<line x1="326.9" y1="377.6" x2="326.9" y2="373.8" stroke="#5aa5b5" stroke-width="0.8" opacity="0.8"/>
<line x1="330.0" y1="377.5" x2="330.0" y2="374.6" stroke="#5aa5b5" stroke-width="0.8" opacity="0.8"/>
<line x1="334.6" y1="377.7" x2="334.6" y2="374.3" stroke="#5aa5b5" stroke-width="0.8" opacity="0.8"/>
<line x1="337.7" y1="378.5" x2="337.7" y2="375.1" stroke="#5aa5b5" stroke-width="0.8" opacity="0.8"/>
<line x1="339.2" y1="378.0" x2="339.2" y2="374.8" stroke="#5aa5b5" stroke-width="0.8" opacity="0.8"/>
<line x1="340.8" y1="377.9" x2="340.8" y2="374.9" stroke="#5aa5b5" stroke-width="0.8" opacity="0.8"/>
<line x1="342.3" y1="378.0" x2="342.3" y2="374.9" stroke="#5aa5b5" stroke-width="0.8" opacity="0.8"/>
<line x1="345.4" y1="378.8" x2="345.4" y2="376.2" stroke="#5aa5b5" stroke-width="0.8" opacity="0.8"/>
<line x1="351.5" y1="379.1" x2="351.5" y2="376.1" stroke="#5aa5b5" stroke-width="0.8" opacity="0.8"/>
<line x1="354.5" y1="379.1" x2="354.5" y2="376.5" stroke="#5aa5b5" stroke-width="0.8" opacity="0.8"/>
<line x1="357.5" y1="379.6" x2="357.5" y2="376.4" stroke="#5aa5b5" stroke-width="0.8" opacity="0.8"/>
<line x1="359.0" y1="379.5" x2="359.0" y2="375.5" stroke="#5aa5b5" stroke-width="0.8" opacity="0.8"/>
<line x1="360.5" y1="379.8" x2="360.5" y2="376.8" stroke="#5aa5b5" stroke-width="0.8" opacity="0.8"/>
<line x1="362.0" y1="379.6" x2="362.0" y2="376.6" stroke="#5aa5b5" stroke-width="0.8" opacity="0.8"/>
<line x1="371.0" y1="379.6" x2="371.0" y2="376.4" stroke="#5aa5b5" stroke-width="0.8" opacity="0.8"/>
<line x1="372.5" y1="379.5" x2="372.5" y2="376.5" stroke="#5aa5b5" stroke-width="0.8" opacity="0.8"/>
<line x1="374.0" y1="379.7" x2="374.0" y2="375.9" stroke="#5aa5b5" stroke-width="0.8" opacity="0.8"/>
<line x1="377.0" y1="379.9" x2="377.0" y2="376.6" stroke="#5aa5b5" stroke-width="0.8" opacity="0.8"/>
<line x1="378.5" y1="380.0" x2="378.5" y2="376.3" stroke="#5aa5b5" stroke-width="0.8" opacity="0.8"/>
<line x1="384.7" y1="381.0" x2="384.7" y2="378.0" stroke="#5aa5b5" stroke-width="0.8" opacity="0.8"/>
<line x1="395.6" y1="381.7" x2="395.6" y2="377.8" stroke="#5aa5b5" stroke-width="0.8" opacity="0.8"/>
<line x1="397.1" y1="381.5" x2="397.1" y2="378.7" stroke="#5aa5b5" stroke-width="0.8" opacity="0.8"/>
<line x1="398.7" y1="381.5" x2="398.7" y2="378.8" stroke="#5aa5b5" stroke-width="0.8" opacity="0.8"/>
<line x1="403.3" y1="382.1" x2="403.3" y2="379.3" stroke="#5aa5b5" stroke-width="0.8" opacity="0.8"/>
<line x1="406.4" y1="381.5" x2="406.4" y2="378.7" stroke="#5aa5b5" stroke-width="0.8" opacity="0.8"/>
<line x1="409.5" y1="381.9" x2="409.5" y2="379.3" stroke="#5aa5b5" stroke-width="0.8" opacity="0.8"/>
<line x1="414.1" y1="382.5" x2="414.1" y2="379.1" stroke="#5aa5b5" stroke-width="0.8" opacity="0.8"/>
<line x1="415.6" y1="382.5" x2="415.6" y2="378.7" stroke="#5aa5b5" stroke-width="0.8" opacity="0.8"/>
<line x1="417.1" y1="381.9" x2="417.1" y2="378.9" stroke="#5aa5b5" stroke-width="0.8" opacity="0.8"/>
<line x1="418.6" y1="382.3" x2="418.6" y2="379.6" stroke="#5aa5b5" stroke-width="0.8" opacity="0.8"/>
<line x1="420.1" y1="382.0" x2="420.1" y2="378.7" stroke="#5aa5b5" stroke-width="0.8" opacity="0.8"/>
<line x1="421.6" y1="382.5" x2="421.6" y2="379.8" stroke="#5aa5b5" stroke-width="0.8" opacity="0.8"/>
<line x1="423.1" y1="382.1" x2="423.1" y2="378.9" stroke="#5aa5b5" stroke-width="0.8" opacity="0.8"/>
<line x1="426.2" y1="381.8" x2="426.2" y2="378.3" stroke="#5aa5b5" stroke-width="0.8" opacity="0.8"/>
<line x1="429.2" y1="381.9" x2="429.2" y2="378.8" stroke="#5aa5b5" stroke-width="0.8" opacity="0.8"/>
<line x1="432.3" y1="381.7" x2="432.3" y2="379.2" stroke="#5aa5b5" stroke-width="0.8" opacity="0.8"/>
<line x1="433.8" y1="381.6" x2="433.8" y2="377.7" stroke="#5aa5b5" stroke-width="0.8" opacity="0.8"/>
<line x1="435.4" y1="380.6" x2="435.4" y2="376.8" stroke="#5aa5b5" stroke-width="0.8" opacity="0.8"/>
<line x1="437.0" y1="380.0" x2="437.0" y2="376.3" stroke="#5aa5b5" stroke-width="0.8" opacity="0.8"/>
<line x1="438.5" y1="380.3" x2="438.5" y2="377.2" stroke="#5aa5b5" stroke-width="0.8" opacity="0.8"/>
<line x1="446.3" y1="377.6" x2="446.3" y2="374.1" stroke="#5aa5b5" stroke-width="0.8" opacity="0.8"/>
<line x1="449.4" y1="378.4" x2="449.4" y2="375.0" stroke="#5aa5b5" stroke-width="0.8" opacity="0.8"/>
<line x1="450.9" y1="378.0" x2="450.9" y2="374.5" stroke="#5aa5b5" stroke-width="0.8" opacity="0.8"/>
<line x1="455.6" y1="378.8" x2="455.6" y2="376.3" stroke="#5aa5b5" stroke-width="0.8" opacity="0.8"/>
<line x1="457.1" y1="378.4" x2="457.1" y2="375.1" stroke="#5aa5b5" stroke-width="0.8" opacity="0.8"/>
<line x1="458.6" y1="378.9" x2="458.6" y2="375.3" stroke="#5aa5b5" stroke-width="0.8" opacity="0.8"/>
<line x1="466.7" y1="379.4" x2="466.7" y2="376.4" stroke="#5aa5b5" stroke-width="0.8" opacity="0.8"/>
<line x1="473.3" y1="379.9" x2="473.3" y2="377.1" stroke="#5aa5b5" stroke-width="0.8" opacity="0.8"/>
<line x1="475.0" y1="380.5" x2="475.0" y2="377.4" stroke="#5aa5b5" stroke-width="0.8" opacity="0.8"/>
<line x1="478.0" y1="380.9" x2="478.0" y2="377.9" stroke="#5aa5b5" stroke-width="0.8" opacity="0.8"/>
<line x1="479.5" y1="381.6" x2="479.5" y2="377.8" stroke="#5aa5b5" stroke-width="0.8" opacity="0.8"/>
<line x1="481.0" y1="381.7" x2="481.0" y2="378.6" stroke="#5aa5b5" stroke-width="0.8" opacity="0.8"/>
<line x1="482.5" y1="381.3" x2="482.5" y2="377.7" stroke="#5aa5b5" stroke-width="0.8" opacity="0.8"/>
<line x1="484.0" y1="381.7" x2="484.0" y2="378.7" stroke="#5aa5b5" stroke-width="0.8" opacity="0.8"/>
<line x1="485.5" y1="381.6" x2="485.5" y2="378.7" stroke="#5aa5b5" stroke-width="0.8" opacity="0.8"/>
<line x1="487.0" y1="382.1" x2="487.0" y2="379.1" stroke="#5aa5b5" stroke-width="0.8" opacity="0.8"/>
<line x1="420.1" y1="382.0" x2="420.1" y2="375.7" stroke="#4e9fb3" stroke-width="0.8" opacity="0.8"/>
<line x1="421.6" y1="382.5" x2="421.6" y2="377.1" stroke="#4e9fb3" stroke-width="0.8" opacity="0.8"/>
<line x1="426.2" y1="381.8" x2="426.2" y2="377.9" stroke="#4e9fb3" stroke-width="0.8" opacity="0.8"/>
<line x1="433.8" y1="381.6" x2="433.8" y2="377.4" stroke="#4e9fb3" stroke-width="0.8" opacity="0.8"/>
<line x1="437.0" y1="380.0" x2="437.0" y2="375.3" stroke="#4e9fb3" stroke-width="0.8" opacity="0.8"/>
<line x1="441.7" y1="378.4" x2="441.7" y2="375.0" stroke="#4e9fb3" stroke-width="0.8" opacity="0.8"/>
<line x1="447.9" y1="378.1" x2="447.9" y2="374.7" stroke="#4e9fb3" stroke-width="0.8" opacity="0.8"/>
<line x1="452.5" y1="377.7" x2="452.5" y2="372.2" stroke="#4e9fb3" stroke-width="0.8" opacity="0.8"/>
<line x1="454.0" y1="378.1" x2="454.0" y2="374.4" stroke="#4e9fb3" stroke-width="0.8" opacity="0.8"/>
<line x1="457.1" y1="378.4" x2="457.1" y2="372.1" stroke="#4e9fb3" stroke-width="0.8" opacity="0.8"/>
<line x1="458.6" y1="378.9" x2="458.6" y2="374.9" stroke="#4e9fb3" stroke-width="0.8" opacity="0.8"/>
<line x1="460.2" y1="378.8" x2="460.2" y2="374.4" stroke="#4e9fb3" stroke-width="0.8" opacity="0.8"/>
<line x1="463.4" y1="378.3" x2="463.4" y2="373.5" stroke="#4e9fb3" stroke-width="0.8" opacity="0.8"/>
<line x1="465.0" y1="379.2" x2="465.0" y2="375.5" stroke="#4e9fb3" stroke-width="0.8" opacity="0.8"/>
<line x1="466.7" y1="379.4" x2="466.7" y2="374.1" stroke="#4e9fb3" stroke-width="0.8" opacity="0.8"/>
<line x1="468.4" y1="379.5" x2="468.4" y2="375.2" stroke="#4e9fb3" stroke-width="0.8" opacity="0.8"/>
<line x1="520.5" y1="382.4" x2="520.5" y2="378.6" stroke="#5aa9b5" stroke-width="0.8" opacity="0.8"/>
<line x1="525.0" y1="382.6" x2="525.0" y2="379.5" stroke="#5aa9b5" stroke-width="0.8" opacity="0.8"/>
<line x1="526.5" y1="382.8" x2="526.5" y2="380.1" stroke="#5aa9b5" stroke-width="0.8" opacity="0.8"/>
<line x1="531.0" y1="382.2" x2="531.0" y2="377.8" stroke="#5aa9b5" stroke-width="0.8" opacity="0.8"/>
<line x1="532.5" y1="382.6" x2="532.5" y2="377.8" stroke="#5aa9b5" stroke-width="0.8" opacity="0.8"/>
<line x1="535.5" y1="383.2" x2="535.5" y2="380.6" stroke="#5aa9b5" stroke-width="0.8" opacity="0.8"/>
<line x1="537.0" y1="382.9" x2="537.0" y2="378.2" stroke="#5aa9b5" stroke-width="0.8" opacity="0.8"/>
<line x1="538.5" y1="383.2" x2="538.5" y2="379.2" stroke="#5aa9b5" stroke-width="0.8" opacity="0.8"/>
<line x1="541.5" y1="383.0" x2="541.5" y2="378.7" stroke="#5aa9b5" stroke-width="0.8" opacity="0.8"/>
<line x1="543.1" y1="382.8" x2="543.1" y2="378.6" stroke="#5aa9b5" stroke-width="0.8" opacity="0.8"/>
<line x1="544.6" y1="383.5" x2="544.6" y2="380.4" stroke="#5aa9b5" stroke-width="0.8" opacity="0.8"/>
<line x1="547.7" y1="383.1" x2="547.7" y2="380.2" stroke="#5aa9b5" stroke-width="0.8" opacity="0.8"/>
<line x1="549.2" y1="382.8" x2="549.2" y2="378.7" stroke="#5aa9b5" stroke-width="0.8" opacity="0.8"/>
<line x1="550.8" y1="383.3" x2="550.8" y2="379.1" stroke="#5aa9b5" stroke-width="0.8" opacity="0.8"/>
<line x1="553.8" y1="383.6" x2="553.8" y2="379.7" stroke="#5aa9b5" stroke-width="0.8" opacity="0.8"/>
<line x1="555.4" y1="383.5" x2="555.4" y2="379.6" stroke="#5aa9b5" stroke-width="0.8" opacity="0.8"/>
<line x1="558.5" y1="383.5" x2="558.5" y2="380.1" stroke="#5aa9b5" stroke-width="0.8" opacity="0.8"/>
<line x1="561.5" y1="383.4" x2="561.5" y2="379.8" stroke="#5aa9b5" stroke-width="0.8" opacity="0.8"/>
<line x1="563.1" y1="383.1" x2="563.1" y2="380.5" stroke="#5aa9b5" stroke-width="0.8" opacity="0.8"/>
<line x1="566.2" y1="384.1" x2="566.2" y2="379.6" stroke="#5aa9b5" stroke-width="0.8" opacity="0.8"/>
<line x1="567.7" y1="384.0" x2="567.7" y2="381.5" stroke="#5aa9b5" stroke-width="0.8" opacity="0.8"/>
<line x1="569.2" y1="383.5" x2="569.2" y2="379.6" stroke="#5aa9b5" stroke-width="0.8" opacity="0.8"/>
<line x1="570.8" y1="384.2" x2="570.8" y2="379.4" stroke="#5aa9b5" stroke-width="0.8" opacity="0.8"/>
<line x1="572.3" y1="383.8" x2="572.3" y2="379.3" stroke="#5aa9b5" stroke-width="0.8" opacity="0.8"/>
<line x1="575.4" y1="384.2" x2="575.4" y2="380.5" stroke="#5aa9b5" stroke-width="0.8" opacity="0.8"/>
<line x1="576.9" y1="384.0" x2="576.9" y2="380.1" stroke="#5aa9b5" stroke-width="0.8" opacity="0.8"/>
<line x1="580.0" y1="384.2" x2="580.0" y2="379.7" stroke="#5aa9b5" stroke-width="0.8" opacity="0.8"/>
<line x1="581.5" y1="383.6" x2="581.5" y2="381.0" stroke="#5aa9b5" stroke-width="0.8" opacity="0.8"/>
<line x1="583.1" y1="384.2" x2="583.1" y2="379.8" stroke="#5aa9b5" stroke-width="0.8" opacity="0.8"/>
<line x1="584.6" y1="384.4" x2="584.6" y2="381.4" stroke="#5aa9b5" stroke-width="0.8" opacity="0.8"/>
<line x1="589.2" y1="384.3" x2="589.2" y2="381.3" stroke="#5aa9b5" stroke-width="0.8" opacity="0.8"/>
<line x1="593.8" y1="384.7" x2="593.8" y2="380.6" stroke="#5aa9b5" stroke-width="0.8" opacity="0.8"/>
<line x1="596.9" y1="384.0" x2="596.9" y2="379.8" stroke="#5aa9b5" stroke-width="0.8" opacity="0.8"/>
<line x1="598.5" y1="384.6" x2="598.5" y2="381.8" stroke="#5aa9b5" stroke-width="0.8" opacity="0.8"/>
<line x1="600.0" y1="384.5" x2="600.0" y2="381.4" stroke="#5aa9b5" stroke-width="0.8" opacity="0.8"/>
<line x1="603.1" y1="384.3" x2="603.1" y2="380.3" stroke="#5aa9b5" stroke-width="0.8" opacity="0.8"/>
<line x1="609.2" y1="384.3" x2="609.2" y2="379.4" stroke="#5aa9b5" stroke-width="0.8" opacity="0.8"/>
<line x1="613.8" y1="385.3" x2="613.8" y2="381.3" stroke="#5aa9b5" stroke-width="0.8" opacity="0.8"/>
<line x1="616.9" y1="384.5" x2="616.9" y2="381.6" stroke="#5aa9b5" stroke-width="0.8" opacity="0.8"/>
<line x1="623.1" y1="384.6" x2="623.1" y2="379.7" stroke="#5aa9b5" stroke-width="0.8" opacity="0.8"/>
<line x1="626.1" y1="384.6" x2="626.1" y2="381.5" stroke="#5aa9b5" stroke-width="0.8" opacity="0.8"/>
<line x1="629.2" y1="384.7" x2="629.2" y2="379.7" stroke="#5aa9b5" stroke-width="0.8" opacity="0.8"/>
<line x1="633.8" y1="385.0" x2="633.8" y2="382.4" stroke="#5aa9b5" stroke-width="0.8" opacity="0.8"/>
<line x1="636.9" y1="384.5" x2="636.9" y2="381.3" stroke="#5aa9b5" stroke-width="0.8" opacity="0.8"/>
<line x1="640.0" y1="385.4" x2="640.0" y2="381.2" stroke="#5aa9b5" stroke-width="0.8" opacity="0.8"/>
<line x1="644.6" y1="385.2" x2="644.6" y2="381.7" stroke="#5aa9b5" stroke-width="0.8" opacity="0.8"/>
<line x1="646.1" y1="385.5" x2="646.1" y2="382.8" stroke="#5aa9b5" stroke-width="0.8" opacity="0.8"/>
<line x1="647.7" y1="385.4" x2="647.7" y2="382.1" stroke="#5aa9b5" stroke-width="0.8" opacity="0.8"/>
<line x1="649.2" y1="385.4" x2="649.2" y2="382.6" stroke="#5aa9b5" stroke-width="0.8" opacity="0.8"/>
<line x1="653.8" y1="385.0" x2="653.8" y2="381.4" stroke="#5aa9b5" stroke-width="0.8" opacity="0.8"/>
<line x1="517.5" y1="382.1" x2="517.5" y2="376.7" stroke="#4e9fb3" stroke-width="0.8" opacity="0.8"/>
<line x1="519.0" y1="381.7" x2="519.0" y2="376.6" stroke="#4e9fb3" stroke-width="0.8" opacity="0.8"/>
<line x1="522.0" y1="381.9" x2="522.0" y2="374.6" stroke="#4e9fb3" stroke-width="0.8" opacity="0.8"/>
<line x1="526.5" y1="382.8" x2="526.5" y2="376.6" stroke="#4e9fb3" stroke-width="0.8" opacity="0.8"/>
<line x1="531.0" y1="382.2" x2="531.0" y2="374.8" stroke="#4e9fb3" stroke-width="0.8" opacity="0.8"/>
<line x1="543.1" y1="382.8" x2="543.1" y2="377.5" stroke="#4e9fb3" stroke-width="0.8" opacity="0.8"/>
<line x1="544.6" y1="383.5" x2="544.6" y2="378.0" stroke="#4e9fb3" stroke-width="0.8" opacity="0.8"/>
<line x1="546.2" y1="383.5" x2="546.2" y2="377.2" stroke="#4e9fb3" stroke-width="0.8" opacity="0.8"/>
<line x1="549.2" y1="382.8" x2="549.2" y2="377.7" stroke="#4e9fb3" stroke-width="0.8" opacity="0.8"/>
<line x1="550.8" y1="383.3" x2="550.8" y2="375.9" stroke="#4e9fb3" stroke-width="0.8" opacity="0.8"/>
<line x1="553.8" y1="383.6" x2="553.8" y2="380.0" stroke="#4e9fb3" stroke-width="0.8" opacity="0.8"/>
<line x1="555.4" y1="383.5" x2="555.4" y2="377.8" stroke="#4e9fb3" stroke-width="0.8" opacity="0.8"/>
<line x1="556.9" y1="383.4" x2="556.9" y2="376.2" stroke="#4e9fb3" stroke-width="0.8" opacity="0.8"/>
<line x1="558.5" y1="383.5" x2="558.5" y2="379.3" stroke="#4e9fb3" stroke-width="0.8" opacity="0.8"/>
<line x1="561.5" y1="383.4" x2="561.5" y2="378.6" stroke="#4e9fb3" stroke-width="0.8" opacity="0.8"/>
<line x1="564.6" y1="383.2" x2="564.6" y2="375.7" stroke="#4e9fb3" stroke-width="0.8" opacity="0.8"/>
<line x1="566.2" y1="384.1" x2="566.2" y2="379.8" stroke="#4e9fb3" stroke-width="0.8" opacity="0.8"/>
<line x1="569.2" y1="383.5" x2="569.2" y2="378.7" stroke="#4e9fb3" stroke-width="0.8" opacity="0.8"/>
<line x1="570.8" y1="384.2" x2="570.8" y2="381.4" stroke="#4e9fb3" stroke-width="0.8" opacity="0.8"/>
<line x1="573.8" y1="383.4" x2="573.8" y2="380.1" stroke="#4e9fb3" stroke-width="0.8" opacity="0.8"/>
<line x1="575.4" y1="384.2" x2="575.4" y2="379.7" stroke="#4e9fb3" stroke-width="0.8" opacity="0.8"/>
<line x1="576.9" y1="384.0" x2="576.9" y2="378.0" stroke="#4e9fb3" stroke-width="0.8" opacity="0.8"/>
<line x1="581.5" y1="383.6" x2="581.5" y2="379.6" stroke="#4e9fb3" stroke-width="0.8" opacity="0.8"/>
<line x1="658.0" y1="389.2" x2="658.0" y2="384.1" stroke="#f0a23c" stroke-width="0.8" opacity="0.8"/>
<line x1="661.3" y1="390.8" x2="661.3" y2="386.5" stroke="#f0a23c" stroke-width="0.8" opacity="0.8"/>
<line x1="663.0" y1="391.7" x2="663.0" y2="388.0" stroke="#f0a23c" stroke-width="0.8" opacity="0.8"/>
<line x1="669.6" y1="393.1" x2="669.6" y2="387.1" stroke="#f0a23c" stroke-width="0.8" opacity="0.8"/>
<line x1="671.2" y1="391.9" x2="671.2" y2="387.4" stroke="#f0a23c" stroke-width="0.8" opacity="0.8"/>
<line x1="672.8" y1="391.4" x2="672.8" y2="388.6" stroke="#f0a23c" stroke-width="0.8" opacity="0.8"/>
<line x1="676.0" y1="390.5" x2="676.0" y2="386.5" stroke="#f0a23c" stroke-width="0.8" opacity="0.8"/>
<line x1="677.7" y1="390.2" x2="677.7" y2="385.0" stroke="#f0a23c" stroke-width="0.8" opacity="0.8"/>
<line x1="679.3" y1="390.2" x2="679.3" y2="387.5" stroke="#f0a23c" stroke-width="0.8" opacity="0.8"/>
<line x1="682.7" y1="389.3" x2="682.7" y2="384.3" stroke="#f0a23c" stroke-width="0.8" opacity="0.8"/>
<line x1="689.3" y1="388.4" x2="689.3" y2="384.1" stroke="#f0a23c" stroke-width="0.8" opacity="0.8"/>
<line x1="691.0" y1="388.2" x2="691.0" y2="382.9" stroke="#f0a23c" stroke-width="0.8" opacity="0.8"/>
<line x1="692.7" y1="387.9" x2="692.7" y2="384.3" stroke="#f0a23c" stroke-width="0.8" opacity="0.8"/>
<line x1="694.3" y1="387.7" x2="694.3" y2="382.3" stroke="#f0a23c" stroke-width="0.8" opacity="0.8"/>
<line x1="696.0" y1="387.8" x2="696.0" y2="382.0" stroke="#f0a23c" stroke-width="0.8" opacity="0.8"/>
<line x1="702.3" y1="390.4" x2="702.3" y2="386.3" stroke="#f0a23c" stroke-width="0.8" opacity="0.8"/>
<line x1="703.9" y1="391.3" x2="703.9" y2="387.9" stroke="#f0a23c" stroke-width="0.8" opacity="0.8"/>
<line x1="708.6" y1="391.8" x2="708.6" y2="386.8" stroke="#f0a23c" stroke-width="0.8" opacity="0.8"/>
<line x1="710.2" y1="392.0" x2="710.2" y2="385.9" stroke="#f0a23c" stroke-width="0.8" opacity="0.8"/>
<line x1="711.9" y1="392.3" x2="711.9" y2="388.6" stroke="#f0a23c" stroke-width="0.8" opacity="0.8"/>
<line x1="715.1" y1="392.3" x2="715.1" y2="387.0" stroke="#f0a23c" stroke-width="0.8" opacity="0.8"/>
<line x1="716.8" y1="392.7" x2="716.8" y2="386.4" stroke="#f0a23c" stroke-width="0.8" opacity="0.8"/>
<line x1="720.0" y1="393.0" x2="720.0" y2="388.4" stroke="#f0a23c" stroke-width="0.8" opacity="0.8"/>
<line x1="721.6" y1="392.6" x2="721.6" y2="389.9" stroke="#f0a23c" stroke-width="0.8" opacity="0.8"/>
<line x1="723.2" y1="393.2" x2="723.2" y2="390.4" stroke="#f0a23c" stroke-width="0.8" opacity="0.8"/>
<line x1="726.4" y1="393.3" x2="726.4" y2="388.5" stroke="#f0a23c" stroke-width="0.8" opacity="0.8"/>
<line x1="729.5" y1="393.7" x2="729.5" y2="389.3" stroke="#f0a23c" stroke-width="0.8" opacity="0.8"/>
<line x1="734.3" y1="393.4" x2="734.3" y2="390.6" stroke="#f0a23c" stroke-width="0.8" opacity="0.8"/>
<line x1="740.8" y1="392.1" x2="740.8" y2="388.8" stroke="#f0a23c" stroke-width="0.8" opacity="0.8"/>
<line x1="742.4" y1="391.7" x2="742.4" y2="385.9" stroke="#f0a23c" stroke-width="0.8" opacity="0.8"/>
<line x1="744.0" y1="392.0" x2="744.0" y2="386.5" stroke="#f0a23c" stroke-width="0.8" opacity="0.8"/>
<line x1="33.8" y1="337.8" x2="37.5" y2="338.0" stroke="#dadadd" stroke-width="1.6" opacity="0.8" stroke-linecap="round"/>
<line x1="37.5" y1="338.0" x2="41.3" y2="338.2" stroke="#dadadd" stroke-width="1.6" opacity="0.8" stroke-linecap="round"/>
<line x1="41.3" y1="338.2" x2="45.0" y2="338.4" stroke="#dadadd" stroke-width="1.6" opacity="0.8" stroke-linecap="round"/>
<line x1="45.0" y1="338.4" x2="48.0" y2="338.6" stroke="#dadadd" stroke-width="1.6" opacity="0.8" stroke-linecap="round"/>
<line x1="48.0" y1="338.6" x2="51.0" y2="338.4" stroke="#dadadd" stroke-width="1.6" opacity="0.8" stroke-linecap="round"/>
<line x1="51.0" y1="338.4" x2="54.0" y2="338.4" stroke="#dadadd" stroke-width="1.6" opacity="0.8" stroke-linecap="round"/>
<line x1="54.0" y1="338.4" x2="57.0" y2="338.7" stroke="#dadadd" stroke-width="1.6" opacity="0.8" stroke-linecap="round"/>
<line x1="57.0" y1="338.7" x2="60.0" y2="338.6" stroke="#dadadd" stroke-width="1.6" opacity="0.8" stroke-linecap="round"/>
<line x1="60.0" y1="338.6" x2="63.0" y2="338.4" stroke="#dadadd" stroke-width="1.6" opacity="0.8" stroke-linecap="round"/>
<line x1="63.0" y1="338.4" x2="66.0" y2="338.2" stroke="#dadadd" stroke-width="1.6" opacity="0.8" stroke-linecap="round"/>
<line x1="66.0" y1="338.2" x2="69.0" y2="338.0" stroke="#dadadd" stroke-width="1.6" opacity="0.8" stroke-linecap="round"/>
<line x1="69.0" y1="338.0" x2="72.0" y2="337.9" stroke="#dadadd" stroke-width="1.6" opacity="0.8" stroke-linecap="round"/>
<line x1="72.0" y1="337.9" x2="75.0" y2="337.5" stroke="#dadadd" stroke-width="1.6" opacity="0.8" stroke-linecap="round"/>
<line x1="75.0" y1="337.5" x2="78.0" y2="337.1" stroke="#dadadd" stroke-width="1.6" opacity="0.8" stroke-linecap="round"/>
<line x1="78.0" y1="337.1" x2="81.0" y2="337.0" stroke="#dadadd" stroke-width="1.6" opacity="0.8" stroke-linecap="round"/>
<line x1="81.0" y1="337.0" x2="84.0" y2="336.6" stroke="#dadadd" stroke-width="1.6" opacity="0.8" stroke-linecap="round"/>
<line x1="84.0" y1="336.6" x2="88.0" y2="336.9" stroke="#dadadd" stroke-width="1.6" opacity="0.8" stroke-linecap="round"/>
<line x1="88.0" y1="336.9" x2="92.0" y2="336.9" stroke="#dadadd" stroke-width="1.6" opacity="0.8" stroke-linecap="round"/>
<line x1="92.0" y1="336.9" x2="96.0" y2="337.8" stroke="#dadadd" stroke-width="1.6" opacity="0.8" stroke-linecap="round"/>
<line x1="96.0" y1="337.8" x2="100.0" y2="338.5" stroke="#dadadd" stroke-width="1.6" opacity="0.8" stroke-linecap="round"/>
<line x1="100.0" y1="338.5" x2="103.3" y2="339.3" stroke="#dadadd" stroke-width="1.6" opacity="0.8" stroke-linecap="round"/>
<line x1="103.3" y1="339.3" x2="106.7" y2="340.0" stroke="#dadadd" stroke-width="1.6" opacity="0.8" stroke-linecap="round"/>
<line x1="106.7" y1="340.0" x2="110.0" y2="340.8" stroke="#dadadd" stroke-width="1.6" opacity="0.8" stroke-linecap="round"/>
<line x1="110.0" y1="340.8" x2="113.3" y2="341.4" stroke="#dadadd" stroke-width="1.6" opacity="0.8" stroke-linecap="round"/>
<line x1="113.3" y1="341.4" x2="116.7" y2="342.0" stroke="#dadadd" stroke-width="1.6" opacity="0.8" stroke-linecap="round"/>
<line x1="116.7" y1="342.0" x2="120.0" y2="342.8" stroke="#dadadd" stroke-width="1.6" opacity="0.8" stroke-linecap="round"/>
<line x1="120.0" y1="342.8" x2="123.3" y2="343.2" stroke="#dadadd" stroke-width="1.6" opacity="0.8" stroke-linecap="round"/>
<line x1="123.3" y1="343.2" x2="126.7" y2="343.4" stroke="#dadadd" stroke-width="1.6" opacity="0.8" stroke-linecap="round"/>
<line x1="126.7" y1="343.4" x2="130.0" y2="343.8" stroke="#dadadd" stroke-width="1.6" opacity="0.8" stroke-linecap="round"/>
<line x1="130.0" y1="343.8" x2="133.5" y2="344.1" stroke="#c9a9b4" stroke-width="1.6" opacity="0.8" stroke-linecap="round"/>
<line x1="133.5" y1="344.1" x2="137.0" y2="344.9" stroke="#aa6a80" stroke-width="1.6" opacity="0.8" stroke-linecap="round"/>
<line x1="137.0" y1="344.9" x2="140.5" y2="345.1" stroke="#aa6a80" stroke-width="1.6" opacity="0.8" stroke-linecap="round"/>
<line x1="140.5" y1="345.1" x2="144.0" y2="345.6" stroke="#aa6a80" stroke-width="1.6" opacity="0.8" stroke-linecap="round"/>
<line x1="144.0" y1="345.6" x2="147.0" y2="346.0" stroke="#aa6a80" stroke-width="1.6" opacity="0.8" stroke-linecap="round"/>
<line x1="147.0" y1="346.0" x2="150.0" y2="346.1" stroke="#aa6a80" stroke-width="1.6" opacity="0.8" stroke-linecap="round"/>
<line x1="150.0" y1="346.1" x2="153.0" y2="346.3" stroke="#aa6a80" stroke-width="1.6" opacity="0.8" stroke-linecap="round"/>
<line x1="153.0" y1="346.3" x2="156.0" y2="346.4" stroke="#aa6a80" stroke-width="1.6" opacity="0.8" stroke-linecap="round"/>
<line x1="156.0" y1="346.4" x2="159.5" y2="346.6" stroke="#aa6a80" stroke-width="1.6" opacity="0.8" stroke-linecap="round"/>
<line x1="159.5" y1="346.6" x2="163.1" y2="346.5" stroke="#aa6a80" stroke-width="1.6" opacity="0.8" stroke-linecap="round"/>
<line x1="163.1" y1="346.5" x2="166.6" y2="346.8" stroke="#aa6a80" stroke-width="1.6" opacity="0.8" stroke-linecap="round"/>
<line x1="166.6" y1="346.8" x2="172.0" y2="344.5" stroke="#aa6a80" stroke-width="1.6" opacity="0.8" stroke-linecap="round"/>
<line x1="172.0" y1="344.5" x2="175.2" y2="344.6" stroke="#aa6a80" stroke-width="1.6" opacity="0.8" stroke-linecap="round"/>
<line x1="175.2" y1="344.6" x2="178.5" y2="344.4" stroke="#aa6a80" stroke-width="1.6" opacity="0.8" stroke-linecap="round"/>
<line x1="178.5" y1="344.4" x2="181.8" y2="344.5" stroke="#aa6a80" stroke-width="1.6" opacity="0.8" stroke-linecap="round"/>
<line x1="181.8" y1="344.5" x2="185.0" y2="344.6" stroke="#aa6a80" stroke-width="1.6" opacity="0.8" stroke-linecap="round"/>
<line x1="185.0" y1="344.6" x2="188.0" y2="344.5" stroke="#aa6a80" stroke-width="1.6" opacity="0.8" stroke-linecap="round"/>
<line x1="188.0" y1="344.5" x2="191.0" y2="344.5" stroke="#aa6a80" stroke-width="1.6" opacity="0.8" stroke-linecap="round"/>
<line x1="191.0" y1="344.5" x2="194.0" y2="344.7" stroke="#aa6a80" stroke-width="1.6" opacity="0.8" stroke-linecap="round"/>
<line x1="194.0" y1="344.7" x2="197.0" y2="344.6" stroke="#aa6a80" stroke-width="1.6" opacity="0.8" stroke-linecap="round"/>
<line x1="197.0" y1="344.6" x2="200.0" y2="344.9" stroke="#aa6a80" stroke-width="1.6" opacity="0.8" stroke-linecap="round"/>
<line x1="200.0" y1="344.9" x2="203.9" y2="345.5" stroke="#aa6a80" stroke-width="1.6" opacity="0.8" stroke-linecap="round"/>
<line x1="203.9" y1="345.5" x2="207.8" y2="346.3" stroke="#aa6a80" stroke-width="1.6" opacity="0.8" stroke-linecap="round"/>
<line x1="207.8" y1="346.3" x2="211.7" y2="346.8" stroke="#aa6a80" stroke-width="1.6" opacity="0.8" stroke-linecap="round"/>
<line x1="211.7" y1="346.8" x2="215.5" y2="348.0" stroke="#aa6a80" stroke-width="1.6" opacity="0.8" stroke-linecap="round"/>
<line x1="215.5" y1="348.0" x2="219.2" y2="348.7" stroke="#aa6a80" stroke-width="1.6" opacity="0.8" stroke-linecap="round"/>
<line x1="219.2" y1="348.7" x2="223.0" y2="349.7" stroke="#aa6a80" stroke-width="1.6" opacity="0.8" stroke-linecap="round"/>
<line x1="223.0" y1="349.7" x2="226.0" y2="349.6" stroke="#aa6a80" stroke-width="1.6" opacity="0.8" stroke-linecap="round"/>
<line x1="226.0" y1="349.6" x2="229.0" y2="349.8" stroke="#aa6a80" stroke-width="1.6" opacity="0.8" stroke-linecap="round"/>
<line x1="229.0" y1="349.8" x2="232.0" y2="350.0" stroke="#aa6a80" stroke-width="1.6" opacity="0.8" stroke-linecap="round"/>
<line x1="232.0" y1="350.0" x2="235.6" y2="349.7" stroke="#aa6a80" stroke-width="1.6" opacity="0.8" stroke-linecap="round"/>
<line x1="235.6" y1="349.7" x2="239.1" y2="349.7" stroke="#aa6a80" stroke-width="1.6" opacity="0.8" stroke-linecap="round"/>
<line x1="239.1" y1="349.7" x2="242.7" y2="349.7" stroke="#aa6a80" stroke-width="1.6" opacity="0.8" stroke-linecap="round"/>
<line x1="242.7" y1="349.7" x2="246.8" y2="351.2" stroke="#aa6a80" stroke-width="1.6" opacity="0.8" stroke-linecap="round"/>
<line x1="246.8" y1="351.2" x2="251.0" y2="352.5" stroke="#aa6a80" stroke-width="1.6" opacity="0.8" stroke-linecap="round"/>
<line x1="251.0" y1="352.5" x2="254.5" y2="353.3" stroke="#aa6a80" stroke-width="1.6" opacity="0.8" stroke-linecap="round"/>
<line x1="254.5" y1="353.3" x2="258.0" y2="353.9" stroke="#aa6a80" stroke-width="1.6" opacity="0.8" stroke-linecap="round"/>
<rect x="31.9" y="335.7" width="3.9" height="4.6" rx="1.5" fill="#dadadd" opacity="0.92"/>
<rect x="37.4" y="336.2" width="3.6" height="4.2" rx="1.5" fill="#dadadd" opacity="0.92"/>
<rect x="42.6" y="336.2" width="3.9" height="4.2" rx="1.5" fill="#dadadd" opacity="0.92"/>
<rect x="48.1" y="336.6" width="3.7" height="3.9" rx="1.5" fill="#dadadd" opacity="0.92"/>
<rect x="53.1" y="336.2" width="4.5" height="4.8" rx="1.5" fill="#dadadd" opacity="0.92"/>
<rect x="58.9" y="336.1" width="3.7" height="4.4" rx="1.5" fill="#dadadd" opacity="0.92"/>
<rect x="64.0" y="335.9" width="4.2" height="4.1" rx="1.5" fill="#dadadd" opacity="0.92"/>
<rect x="69.3" y="336.2" width="4.6" height="4.2" rx="1.5" fill="#dadadd" opacity="0.92"/>
<rect x="74.9" y="334.9" width="4.1" height="5.0" rx="1.5" fill="#dadadd" opacity="0.92"/>
<rect x="80.5" y="334.2" width="3.5" height="4.9" rx="1.5" fill="#dadadd" opacity="0.92"/>
<rect x="85.8" y="334.6" width="3.8" height="3.8" rx="1.5" fill="#dadadd" opacity="0.92"/>
<rect x="91.2" y="335.2" width="3.7" height="3.6" rx="1.5" fill="#dadadd" opacity="0.92"/>
<rect x="96.1" y="335.4" width="4.4" height="5.4" rx="1.5" fill="#dadadd" opacity="0.92"/>
<rect x="101.9" y="336.9" width="3.4" height="4.2" rx="1.5" fill="#dadadd" opacity="0.92"/>
<rect x="107.1" y="338.2" width="3.5" height="4.7" rx="1.5" fill="#dadadd" opacity="0.92"/>
<rect x="112.5" y="339.3" width="3.2" height="4.5" rx="1.5" fill="#dadadd" opacity="0.92"/>
<rect x="117.5" y="340.6" width="3.8" height="3.8" rx="1.5" fill="#dadadd" opacity="0.92"/>
<rect x="123.1" y="341.0" width="3.3" height="4.8" rx="1.5" fill="#dadadd" opacity="0.92"/>
<rect x="128.1" y="342.0" width="4.1" height="4.3" rx="1.5" fill="#c9a9b4" opacity="0.92"/>
<rect x="133.6" y="342.7" width="3.7" height="3.6" rx="1.5" fill="#aa6a80" opacity="0.92"/>
<rect x="138.8" y="343.6" width="4.1" height="3.5" rx="1.5" fill="#aa6a80" opacity="0.92"/>
<rect x="144.1" y="343.9" width="4.2" height="4.1" rx="1.5" fill="#aa6a80" opacity="0.92"/>
<rect x="149.7" y="344.3" width="3.8" height="4.1" rx="1.5" fill="#aa6a80" opacity="0.92"/>
<rect x="154.9" y="344.8" width="4.0" height="3.5" rx="1.5" fill="#aa6a80" opacity="0.92"/>
<rect x="160.4" y="344.5" width="4.0" height="3.6" rx="1.5" fill="#aa6a80" opacity="0.92"/>
<rect x="165.6" y="344.4" width="4.1" height="3.9" rx="1.5" fill="#aa6a80" opacity="0.92"/>
<rect x="170.8" y="342.5" width="3.8" height="3.6" rx="1.5" fill="#aa6a80" opacity="0.92"/>
<rect x="176.3" y="342.3" width="3.5" height="3.7" rx="1.5" fill="#aa6a80" opacity="0.92"/>
<rect x="181.4" y="342.6" width="4.1" height="4.2" rx="1.5" fill="#aa6a80" opacity="0.92"/>
<rect x="187.1" y="342.3" width="3.5" height="3.9" rx="1.5" fill="#aa6a80" opacity="0.92"/>
<rect x="192.4" y="343.0" width="3.7" height="3.5" rx="1.5" fill="#aa6a80" opacity="0.92"/>
<rect x="197.9" y="342.8" width="3.5" height="3.6" rx="1.5" fill="#aa6a80" opacity="0.92"/>
<rect x="203.1" y="343.7" width="3.8" height="4.1" rx="1.5" fill="#aa6a80" opacity="0.92"/>
<rect x="208.3" y="344.7" width="4.0" height="4.0" rx="1.5" fill="#aa6a80" opacity="0.92"/>
<rect x="213.7" y="346.0" width="3.5" height="3.4" rx="1.5" fill="#aa6a80" opacity="0.92"/>
<rect x="218.9" y="347.6" width="3.8" height="3.7" rx="1.5" fill="#aa6a80" opacity="0.92"/>
<rect x="224.3" y="348.0" width="3.6" height="3.5" rx="1.5" fill="#aa6a80" opacity="0.92"/>
<rect x="229.5" y="348.1" width="3.9" height="3.4" rx="1.5" fill="#aa6a80" opacity="0.92"/>
<rect x="235.0" y="347.9" width="3.8" height="4.1" rx="1.5" fill="#aa6a80" opacity="0.92"/>
<rect x="240.2" y="348.1" width="4.1" height="3.8" rx="1.5" fill="#aa6a80" opacity="0.92"/>
<rect x="245.5" y="349.2" width="3.8" height="3.6" rx="1.5" fill="#aa6a80" opacity="0.92"/>
<rect x="250.5" y="351.0" width="4.1" height="3.9" rx="1.5" fill="#aa6a80" opacity="0.92"/>
<rect x="255.8" y="351.8" width="4.2" height="3.9" rx="1.5" fill="#aa6a80" opacity="0.92"/>
<polyline points="130.0,343.8 133.5,344.2 137.0,344.7 140.5,345.3 144.0,345.6 147.0,345.7 150.0,345.9 153.0,346.3 156.0,346.4 159.5,346.5 163.1,346.6 166.6,346.8 172.0,344.5 175.2,344.5 178.5,344.5 181.8,344.4 185.0,344.6 188.0,344.7 191.0,344.9 194.0,344.9 197.0,344.9 200.0,344.9 203.9,345.5 207.8,346.1 211.7,346.8 215.5,347.6 219.2,348.8 223.0,349.7 226.0,349.7 229.0,349.8 232.0,350.0 235.6,350.1 239.1,349.7 242.7,349.7 246.8,351.3 251.0,352.5 254.5,353.3 258.0,353.9" fill="none" stroke="#aa6a80" stroke-width="3.0" stroke-linecap="round" opacity="0.85"/>
<polygon points="297,355 304,354.5 312,354 322,354 326,355 326,358.5 318,361 310,363.5 303,363.5 297,363" fill="#c1e8d8" opacity="0.85"/>
<line x1="297.5" y1="354.6" x2="297.5" y2="362.8" stroke="#a6dcc6" stroke-width="0.9"/>
<line x1="299.6" y1="352.8" x2="299.6" y2="361.8" stroke="#a6dcc6" stroke-width="0.9"/>
<line x1="301.7" y1="355.0" x2="301.7" y2="361.9" stroke="#a6dcc6" stroke-width="0.9"/>
<line x1="303.8" y1="353.7" x2="303.8" y2="364.6" stroke="#a6dcc6" stroke-width="0.9"/>
<line x1="305.9" y1="353.9" x2="305.9" y2="363.5" stroke="#a6dcc6" stroke-width="0.9"/>
<line x1="308.0" y1="352.5" x2="308.0" y2="363.4" stroke="#a6dcc6" stroke-width="0.9"/>
<line x1="310.1" y1="351.3" x2="310.1" y2="362.9" stroke="#a6dcc6" stroke-width="0.9"/>
<line x1="312.2" y1="352.1" x2="312.2" y2="365.7" stroke="#a6dcc6" stroke-width="0.9"/>
<line x1="314.3" y1="352.8" x2="314.3" y2="361.6" stroke="#a6dcc6" stroke-width="0.9"/>
<line x1="316.4" y1="351.1" x2="316.4" y2="363.1" stroke="#a6dcc6" stroke-width="0.9"/>
<line x1="318.5" y1="354.9" x2="318.5" y2="361.2" stroke="#a6dcc6" stroke-width="0.9"/>
<line x1="320.6" y1="352.8" x2="320.6" y2="365.6" stroke="#a6dcc6" stroke-width="0.9"/>
<line x1="322.7" y1="351.5" x2="322.7" y2="365.8" stroke="#a6dcc6" stroke-width="0.9"/>
<line x1="324.8" y1="354.5" x2="324.8" y2="366.0" stroke="#a6dcc6" stroke-width="0.9"/>
<polyline points="297.0,359.5 300.2,359.6 303.5,359.1 306.8,359.4 310.0,359.0 313.2,358.4 316.4,358.1 319.6,357.8 322.8,357.1 326.0,356.7 329.4,356.4 332.8,356.0 336.2,356.1 339.6,355.8 343.0,355.3 346.3,355.4 349.7,355.6 353.0,356.0 356.3,356.2 359.7,356.6 363.0,356.7 366.3,356.8 369.6,357.0 372.9,356.9 376.1,357.1 379.4,357.2 382.7,357.5 386.5,358.2 390.2,358.9 394.0,359.5 397.3,358.9 400.7,358.4 404.0,357.5 407.3,356.7 410.5,356.0 413.8,355.3 417.4,356.2 420.9,357.4 424.4,358.0 428.0,359.0 431.4,358.6 434.7,358.4 438.1,358.2 441.4,357.7 444.8,357.5 448.2,357.6 451.6,358.2 454.9,358.4 458.3,358.7 461.7,359.0 467.3,362.3 470.6,362.1 473.9,362.2 477.1,362.1 480.4,362.2 483.7,362.5 487.0,362.3" fill="none" stroke="url(#l2g)" stroke-width="2.6" opacity="0.9" stroke-linecap="round"/>
<polyline points="297.0,359.5 300.2,359.6 303.5,359.1 306.8,359.4 310.0,359.0 313.2,358.4 316.4,358.1 319.6,357.8 322.8,357.1 326.0,356.7 329.4,356.4 332.8,356.0 336.2,356.1 339.6,355.8 343.0,355.3 346.3,355.4 349.7,355.6 353.0,356.0 356.3,356.2 359.7,356.6 363.0,356.7 366.3,356.8 369.6,357.0 372.9,356.9 376.1,357.1 379.4,357.2 382.7,357.5 386.5,358.2 390.2,358.9 394.0,359.5 397.3,358.9 400.7,358.4 404.0,357.5 407.3,356.7 410.5,356.0 413.8,355.3 417.4,356.2 420.9,357.4 424.4,358.0 428.0,359.0 431.4,358.6 434.7,358.4 438.1,358.2 441.4,357.7 444.8,357.5 448.2,357.6 451.6,358.2 454.9,358.4 458.3,358.7 461.7,359.0 467.3,362.3 470.6,362.1 473.9,362.2 477.1,362.1 480.4,362.2 483.7,362.5 487.0,362.3" fill="none" stroke="url(#l2g)" stroke-width="3.8" stroke-linecap="round" stroke-dasharray="0.1 4.6"/>
<line x1="517.5" y1="362.3" x2="520.7" y2="362.4" stroke="#aa6a80" stroke-width="1.6" opacity="0.8" stroke-linecap="round"/>
<line x1="520.7" y1="362.4" x2="523.9" y2="362.5" stroke="#aa6a80" stroke-width="1.6" opacity="0.8" stroke-linecap="round"/>
<line x1="523.9" y1="362.5" x2="527.1" y2="362.9" stroke="#aa6a80" stroke-width="1.6" opacity="0.8" stroke-linecap="round"/>
<line x1="527.1" y1="362.9" x2="530.4" y2="362.8" stroke="#aa6a80" stroke-width="1.6" opacity="0.8" stroke-linecap="round"/>
<line x1="530.4" y1="362.8" x2="533.6" y2="362.7" stroke="#aa6a80" stroke-width="1.6" opacity="0.8" stroke-linecap="round"/>
<line x1="533.6" y1="362.7" x2="536.8" y2="363.2" stroke="#aa6a80" stroke-width="1.6" opacity="0.8" stroke-linecap="round"/>
<line x1="536.8" y1="363.2" x2="540.0" y2="363.2" stroke="#aa6a80" stroke-width="1.6" opacity="0.8" stroke-linecap="round"/>
<line x1="540.0" y1="363.2" x2="543.1" y2="363.2" stroke="#aa6a80" stroke-width="1.6" opacity="0.8" stroke-linecap="round"/>
<line x1="543.1" y1="363.2" x2="546.3" y2="363.5" stroke="#aa6a80" stroke-width="1.6" opacity="0.8" stroke-linecap="round"/>
<line x1="546.3" y1="363.5" x2="549.4" y2="363.6" stroke="#aa6a80" stroke-width="1.6" opacity="0.8" stroke-linecap="round"/>
<line x1="549.4" y1="363.6" x2="552.6" y2="364.1" stroke="#aa6a80" stroke-width="1.6" opacity="0.8" stroke-linecap="round"/>
<line x1="552.6" y1="364.1" x2="555.7" y2="364.4" stroke="#aa6a80" stroke-width="1.6" opacity="0.8" stroke-linecap="round"/>
<line x1="555.7" y1="364.4" x2="558.9" y2="364.5" stroke="#aa6a80" stroke-width="1.6" opacity="0.8" stroke-linecap="round"/>
<line x1="558.9" y1="364.5" x2="562.0" y2="364.6" stroke="#aa6a80" stroke-width="1.6" opacity="0.8" stroke-linecap="round"/>
<line x1="562.0" y1="364.6" x2="565.3" y2="365.0" stroke="#c9a9b4" stroke-width="1.6" opacity="0.8" stroke-linecap="round"/>
<line x1="565.3" y1="365.0" x2="568.7" y2="365.8" stroke="#c9a9b4" stroke-width="1.6" opacity="0.8" stroke-linecap="round"/>
<line x1="568.7" y1="365.8" x2="572.0" y2="366.2" stroke="#dcdcdf" stroke-width="1.6" opacity="0.8" stroke-linecap="round"/>
<line x1="572.0" y1="366.2" x2="575.5" y2="366.6" stroke="#dcdcdf" stroke-width="1.6" opacity="0.8" stroke-linecap="round"/>
<line x1="575.5" y1="366.6" x2="579.0" y2="366.6" stroke="#dcdcdf" stroke-width="1.6" opacity="0.8" stroke-linecap="round"/>
<line x1="579.0" y1="366.6" x2="582.7" y2="366.1" stroke="#dcdcdf" stroke-width="1.6" opacity="0.8" stroke-linecap="round"/>
<line x1="582.7" y1="366.1" x2="586.3" y2="365.6" stroke="#dcdcdf" stroke-width="1.6" opacity="0.8" stroke-linecap="round"/>
<line x1="586.3" y1="365.6" x2="590.0" y2="365.3" stroke="#dcdcdf" stroke-width="1.6" opacity="0.8" stroke-linecap="round"/>
<line x1="590.0" y1="365.3" x2="594.3" y2="364.6" stroke="#dcdcdf" stroke-width="1.6" opacity="0.8" stroke-linecap="round"/>
<line x1="594.3" y1="364.6" x2="598.6" y2="363.7" stroke="#dcdcdf" stroke-width="1.6" opacity="0.8" stroke-linecap="round"/>
<line x1="598.6" y1="363.7" x2="601.7" y2="363.0" stroke="#dcdcdf" stroke-width="1.6" opacity="0.8" stroke-linecap="round"/>
<line x1="601.7" y1="363.0" x2="604.9" y2="362.1" stroke="#dcdcdf" stroke-width="1.6" opacity="0.8" stroke-linecap="round"/>
<line x1="604.9" y1="362.1" x2="608.0" y2="361.0" stroke="#dcdcdf" stroke-width="1.6" opacity="0.8" stroke-linecap="round"/>
<line x1="608.0" y1="361.0" x2="611.3" y2="360.2" stroke="#dcdcdf" stroke-width="1.6" opacity="0.8" stroke-linecap="round"/>
<line x1="611.3" y1="360.2" x2="614.7" y2="359.1" stroke="#dcdcdf" stroke-width="1.6" opacity="0.8" stroke-linecap="round"/>
<line x1="614.7" y1="359.1" x2="618.0" y2="358.0" stroke="#dcdcdf" stroke-width="1.6" opacity="0.8" stroke-linecap="round"/>
<line x1="618.0" y1="358.0" x2="621.3" y2="356.9" stroke="#dcdcdf" stroke-width="1.6" opacity="0.8" stroke-linecap="round"/>
<line x1="621.3" y1="356.9" x2="624.7" y2="356.1" stroke="#dcdcdf" stroke-width="1.6" opacity="0.8" stroke-linecap="round"/>
<line x1="624.7" y1="356.1" x2="628.0" y2="355.0" stroke="#dcdcdf" stroke-width="1.6" opacity="0.8" stroke-linecap="round"/>
<line x1="628.0" y1="355.0" x2="631.0" y2="354.1" stroke="#dcdcdf" stroke-width="1.6" opacity="0.8" stroke-linecap="round"/>
<line x1="631.0" y1="354.1" x2="634.0" y2="353.4" stroke="#dcdcdf" stroke-width="1.6" opacity="0.8" stroke-linecap="round"/>
<line x1="634.0" y1="353.4" x2="637.0" y2="352.5" stroke="#dcdcdf" stroke-width="1.6" opacity="0.8" stroke-linecap="round"/>
<line x1="637.0" y1="352.5" x2="640.2" y2="352.5" stroke="#dcdcdf" stroke-width="1.6" opacity="0.8" stroke-linecap="round"/>
<line x1="640.2" y1="352.5" x2="643.5" y2="352.4" stroke="#dcdcdf" stroke-width="1.6" opacity="0.8" stroke-linecap="round"/>
<line x1="643.5" y1="352.4" x2="646.8" y2="352.8" stroke="#dcdcdf" stroke-width="1.6" opacity="0.8" stroke-linecap="round"/>
<line x1="646.8" y1="352.8" x2="650.0" y2="352.6" stroke="#dcdcdf" stroke-width="1.6" opacity="0.8" stroke-linecap="round"/>
<line x1="650.0" y1="352.6" x2="653.0" y2="352.5" stroke="#dcdcdf" stroke-width="1.6" opacity="0.8" stroke-linecap="round"/>
<line x1="653.0" y1="352.5" x2="656.0" y2="352.9" stroke="#dcdcdf" stroke-width="1.6" opacity="0.8" stroke-linecap="round"/>
<line x1="656.0" y1="352.9" x2="659.0" y2="353.0" stroke="#dcdcdf" stroke-width="1.6" opacity="0.8" stroke-linecap="round"/>
<line x1="659.0" y1="353.0" x2="662.0" y2="353.3" stroke="#dcdcdf" stroke-width="1.6" opacity="0.8" stroke-linecap="round"/>
<line x1="662.0" y1="353.3" x2="665.2" y2="353.8" stroke="#dcdcdf" stroke-width="1.6" opacity="0.8" stroke-linecap="round"/>
<line x1="665.2" y1="353.8" x2="668.5" y2="353.7" stroke="#dcdcdf" stroke-width="1.6" opacity="0.8" stroke-linecap="round"/>
<line x1="668.5" y1="353.7" x2="671.8" y2="354.2" stroke="#dcdcdf" stroke-width="1.6" opacity="0.8" stroke-linecap="round"/>
<line x1="671.8" y1="354.2" x2="675.0" y2="354.5" stroke="#dcdcdf" stroke-width="1.6" opacity="0.8" stroke-linecap="round"/>
<line x1="675.0" y1="354.5" x2="678.3" y2="355.0" stroke="#dcdcdf" stroke-width="1.6" opacity="0.8" stroke-linecap="round"/>
<line x1="678.3" y1="355.0" x2="681.7" y2="355.1" stroke="#dcdcdf" stroke-width="1.6" opacity="0.8" stroke-linecap="round"/>
<line x1="681.7" y1="355.1" x2="685.0" y2="355.3" stroke="#dcdcdf" stroke-width="1.6" opacity="0.8" stroke-linecap="round"/>
<line x1="685.0" y1="355.3" x2="688.0" y2="354.8" stroke="#dcdcdf" stroke-width="1.6" opacity="0.8" stroke-linecap="round"/>
<line x1="688.0" y1="354.8" x2="691.0" y2="353.8" stroke="#dcdcdf" stroke-width="1.6" opacity="0.8" stroke-linecap="round"/>
<line x1="691.0" y1="353.8" x2="694.0" y2="353.2" stroke="#dcdcdf" stroke-width="1.6" opacity="0.8" stroke-linecap="round"/>
<line x1="694.0" y1="353.2" x2="697.9" y2="352.6" stroke="#dcdcdf" stroke-width="1.6" opacity="0.8" stroke-linecap="round"/>
<line x1="697.9" y1="352.6" x2="701.7" y2="352.0" stroke="#dcdcdf" stroke-width="1.6" opacity="0.8" stroke-linecap="round"/>
<line x1="701.7" y1="352.0" x2="705.9" y2="352.7" stroke="#dcdcdf" stroke-width="1.6" opacity="0.8" stroke-linecap="round"/>
<line x1="705.9" y1="352.7" x2="710.0" y2="353.5" stroke="#dcdcdf" stroke-width="1.6" opacity="0.8" stroke-linecap="round"/>
<line x1="710.0" y1="353.5" x2="714.3" y2="353.9" stroke="#dcdcdf" stroke-width="1.6" opacity="0.8" stroke-linecap="round"/>
<line x1="714.3" y1="353.9" x2="718.6" y2="354.5" stroke="#dcdcdf" stroke-width="1.6" opacity="0.8" stroke-linecap="round"/>
<line x1="718.6" y1="354.5" x2="722.4" y2="353.9" stroke="#dcdcdf" stroke-width="1.6" opacity="0.8" stroke-linecap="round"/>
<line x1="722.4" y1="353.9" x2="726.2" y2="353.2" stroke="#dcdcdf" stroke-width="1.6" opacity="0.8" stroke-linecap="round"/>
<line x1="726.2" y1="353.2" x2="730.0" y2="352.8" stroke="#dcdcdf" stroke-width="1.6" opacity="0.8" stroke-linecap="round"/>
<line x1="730.0" y1="352.8" x2="733.5" y2="352.5" stroke="#dcdcdf" stroke-width="1.6" opacity="0.8" stroke-linecap="round"/>
<line x1="733.5" y1="352.5" x2="737.0" y2="351.8" stroke="#dcdcdf" stroke-width="1.6" opacity="0.8" stroke-linecap="round"/>
<line x1="737.0" y1="351.8" x2="740.5" y2="351.2" stroke="#dcdcdf" stroke-width="1.6" opacity="0.8" stroke-linecap="round"/>
<line x1="740.5" y1="351.2" x2="744.0" y2="350.5" stroke="#dcdcdf" stroke-width="1.6" opacity="0.8" stroke-linecap="round"/>
<rect x="515.6" y="360.8" width="3.8" height="3.6" rx="1.5" fill="#aa6a80" opacity="0.92"/>
<rect x="521.0" y="360.9" width="3.8" height="3.5" rx="1.5" fill="#aa6a80" opacity="0.92"/>
<rect x="526.5" y="360.7" width="3.5" height="3.6" rx="1.5" fill="#aa6a80" opacity="0.92"/>
<rect x="531.7" y="360.8" width="3.9" height="4.1" rx="1.5" fill="#aa6a80" opacity="0.92"/>
<rect x="537.2" y="361.5" width="3.6" height="4.1" rx="1.5" fill="#aa6a80" opacity="0.92"/>
<rect x="542.6" y="361.6" width="3.7" height="3.6" rx="1.5" fill="#aa6a80" opacity="0.92"/>
<rect x="547.7" y="361.9" width="4.2" height="4.1" rx="1.5" fill="#aa6a80" opacity="0.92"/>
<rect x="553.2" y="362.6" width="4.0" height="3.6" rx="1.5" fill="#aa6a80" opacity="0.92"/>
<rect x="558.7" y="362.1" width="3.8" height="4.7" rx="1.5" fill="#c9a9b4" opacity="0.92"/>
<rect x="564.2" y="362.2" width="3.5" height="5.2" rx="1.5" fill="#c9a9b4" opacity="0.92"/>
<rect x="569.4" y="364.4" width="3.7" height="4.2" rx="1.5" fill="#dcdcdf" opacity="0.92"/>
<rect x="574.9" y="364.6" width="3.4" height="4.6" rx="1.5" fill="#dcdcdf" opacity="0.92"/>
<rect x="579.9" y="363.5" width="4.1" height="5.3" rx="1.5" fill="#dcdcdf" opacity="0.92"/>
<rect x="585.4" y="363.3" width="3.8" height="4.3" rx="1.5" fill="#dcdcdf" opacity="0.92"/>
<rect x="590.8" y="363.4" width="3.7" height="3.7" rx="1.5" fill="#dcdcdf" opacity="0.92"/>
<rect x="595.9" y="361.4" width="4.2" height="4.8" rx="1.5" fill="#dcdcdf" opacity="0.92"/>
<rect x="601.5" y="361.0" width="3.5" height="4.0" rx="1.5" fill="#dcdcdf" opacity="0.92"/>
<rect x="606.2" y="358.9" width="4.4" height="4.4" rx="1.5" fill="#dcdcdf" opacity="0.92"/>
<rect x="611.3" y="357.5" width="4.5" height="3.7" rx="1.5" fill="#dcdcdf" opacity="0.92"/>
<rect x="616.8" y="355.7" width="3.8" height="4.2" rx="1.5" fill="#dcdcdf" opacity="0.92"/>
<rect x="622.1" y="354.6" width="3.6" height="3.8" rx="1.5" fill="#dcdcdf" opacity="0.92"/>
<rect x="627.1" y="351.9" width="3.8" height="5.0" rx="1.5" fill="#dcdcdf" opacity="0.92"/>
<rect x="632.4" y="350.7" width="3.6" height="4.5" rx="1.5" fill="#dcdcdf" opacity="0.92"/>
<rect x="637.6" y="350.5" width="3.8" height="3.9" rx="1.5" fill="#dcdcdf" opacity="0.92"/>
<rect x="643.1" y="350.1" width="3.6" height="5.0" rx="1.5" fill="#dcdcdf" opacity="0.92"/>
<rect x="648.5" y="350.2" width="3.6" height="4.7" rx="1.5" fill="#dcdcdf" opacity="0.92"/>
<rect x="653.9" y="350.4" width="3.5" height="5.0" rx="1.5" fill="#dcdcdf" opacity="0.92"/>
<rect x="659.5" y="350.9" width="3.2" height="4.6" rx="1.5" fill="#dcdcdf" opacity="0.92"/>
<rect x="664.8" y="351.2" width="3.3" height="5.3" rx="1.5" fill="#dcdcdf" opacity="0.92"/>
<rect x="669.5" y="352.0" width="4.6" height="4.5" rx="1.5" fill="#dcdcdf" opacity="0.92"/>
<rect x="675.4" y="352.4" width="3.4" height="4.8" rx="1.5" fill="#dcdcdf" opacity="0.92"/>
<rect x="680.8" y="352.7" width="3.5" height="5.1" rx="1.5" fill="#dcdcdf" opacity="0.92"/>
<rect x="686.2" y="352.1" width="3.3" height="5.4" rx="1.5" fill="#dcdcdf" opacity="0.92"/>
<rect x="690.8" y="350.9" width="4.5" height="4.3" rx="1.5" fill="#dcdcdf" opacity="0.92"/>
<rect x="696.4" y="350.5" width="4.0" height="4.3" rx="1.5" fill="#dcdcdf" opacity="0.92"/>
<rect x="701.8" y="350.1" width="3.9" height="4.3" rx="1.5" fill="#dcdcdf" opacity="0.92"/>
<rect x="707.1" y="351.1" width="3.9" height="4.9" rx="1.5" fill="#dcdcdf" opacity="0.92"/>
<rect x="712.5" y="351.6" width="3.8" height="3.9" rx="1.5" fill="#dcdcdf" opacity="0.92"/>
<rect x="717.7" y="352.6" width="4.0" height="4.0" rx="1.5" fill="#dcdcdf" opacity="0.92"/>
<rect x="723.2" y="350.4" width="3.8" height="5.3" rx="1.5" fill="#dcdcdf" opacity="0.92"/>
<rect x="728.3" y="350.6" width="4.4" height="3.8" rx="1.5" fill="#dcdcdf" opacity="0.92"/>
<rect x="733.9" y="349.9" width="3.8" height="4.1" rx="1.5" fill="#dcdcdf" opacity="0.92"/>
<rect x="739.1" y="348.3" width="3.9" height="4.7" rx="1.5" fill="#dcdcdf" opacity="0.92"/>
<polyline points="518.5,362.3 540,363.2 560,364.5" fill="none" stroke="#aa6a80" stroke-width="3.2" stroke-linecap="round" opacity="0.85"/>
<text x="47" y="414.2" font-size="9.6" fill="#58585d" text-anchor="middle" textLength="26.5" lengthAdjust="spacingAndGlyphs">11000</text>
<text x="112.3" y="414.2" font-size="9.6" fill="#58585d" text-anchor="middle" textLength="26.8" lengthAdjust="spacingAndGlyphs">11000</text>
<text x="175.8" y="414.2" font-size="9.6" fill="#58585d" text-anchor="middle" textLength="26.5" lengthAdjust="spacingAndGlyphs">10000</text>
<text x="244.5" y="414.2" font-size="9.6" fill="#58585d" text-anchor="middle" textLength="33" lengthAdjust="spacingAndGlyphs">1000I00</text>
<text x="343.8" y="414.2" font-size="9.6" fill="#58585d" text-anchor="middle" textLength="27" lengthAdjust="spacingAndGlyphs">100IS0</text>
<text x="409.2" y="414.2" font-size="9.6" fill="#58585d" text-anchor="middle" textLength="26.3" lengthAdjust="spacingAndGlyphs">100.00</text>
<text x="474.7" y="414.2" font-size="9.6" fill="#58585d" text-anchor="middle" textLength="28.4" lengthAdjust="spacingAndGlyphs">600.00</text>
<text x="536.3" y="414.2" font-size="9.6" fill="#58585d" text-anchor="middle" textLength="27.6" lengthAdjust="spacingAndGlyphs">(20000</text>
<text x="601" y="414.2" font-size="9.6" fill="#58585d" text-anchor="middle" textLength="29.6" lengthAdjust="spacingAndGlyphs">180000</text>
<text x="668" y="414.2" font-size="9.6" fill="#58585d" text-anchor="middle" textLength="29" lengthAdjust="spacingAndGlyphs">300I00</text>
<text x="734" y="414.2" font-size="9.6" fill="#58585d" text-anchor="middle" textLength="27" lengthAdjust="spacingAndGlyphs">201.00</text>
</svg>
</body></html>
